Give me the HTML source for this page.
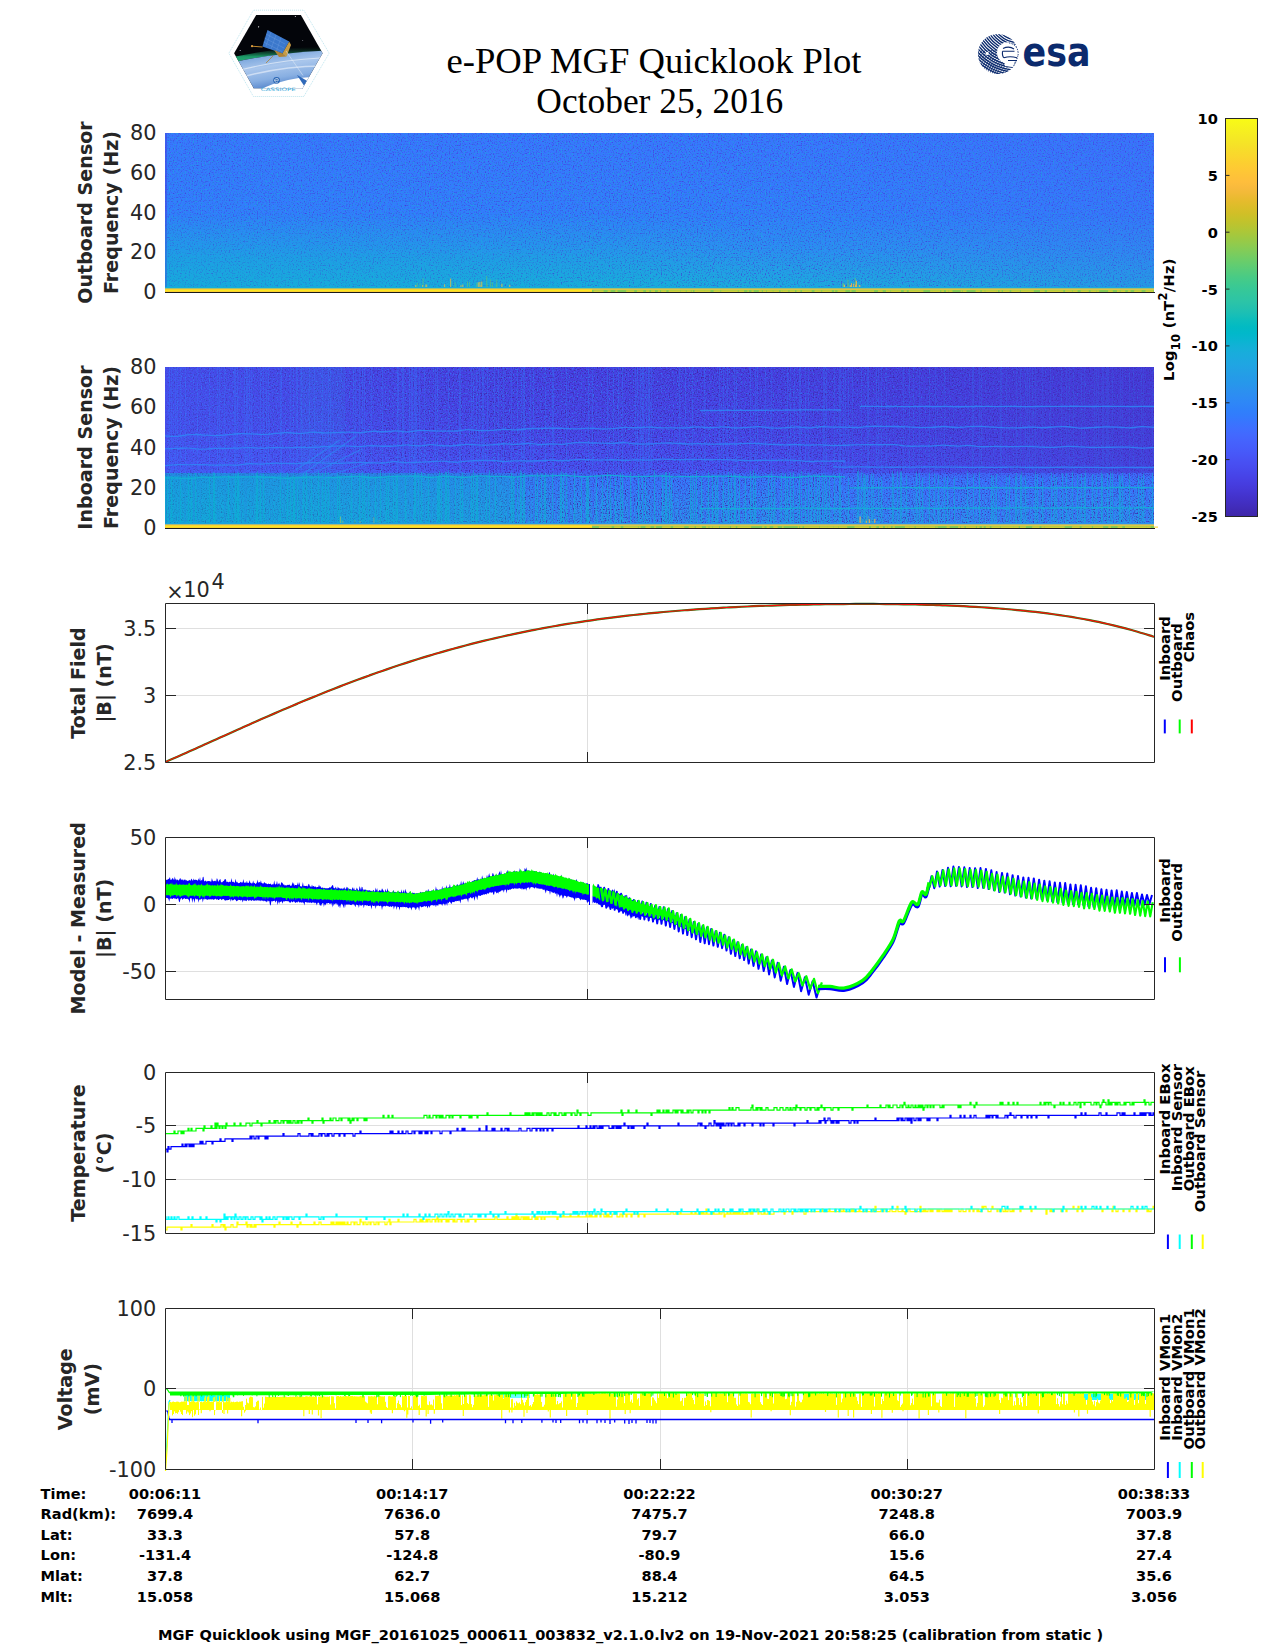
<!DOCTYPE html>
<html><head><meta charset="utf-8"><title>e-POP MGF Quicklook Plot</title>
<style>
html,body{margin:0;padding:0;background:#fff;}
body{width:1275px;height:1650px;overflow:hidden;}
svg{display:block;}
text{font-family:"DejaVu Sans","Liberation Sans",sans-serif;}
.t{font-size:20.83px;fill:#262626;}
.yl{font-size:19.1px;font-weight:bold;fill:#262626;}
.b{font-size:14.58px;font-weight:bold;fill:#000;}
.lg{font-size:14.8px;font-weight:bold;fill:#000;}
.ser{font-family:"Liberation Serif",serif;font-size:35.4px;fill:#000;}
</style></head><body>
<svg width="1275" height="1650" viewBox="0 0 1275 1650">
<rect width="1275" height="1650" fill="#fff"/>

<defs>
<linearGradient id="cbar" x1="0" y1="0" x2="0" y2="1"><stop offset="0.0000" stop-color="#f9fb15"/><stop offset="0.0159" stop-color="#f7f51b"/><stop offset="0.0317" stop-color="#f6ef20"/><stop offset="0.0476" stop-color="#f5e924"/><stop offset="0.0635" stop-color="#f5e327"/><stop offset="0.0794" stop-color="#f7dc2a"/><stop offset="0.0952" stop-color="#fad62d"/><stop offset="0.1111" stop-color="#fccf30"/><stop offset="0.1270" stop-color="#fec934"/><stop offset="0.1429" stop-color="#fec338"/><stop offset="0.1587" stop-color="#febe3c"/><stop offset="0.1746" stop-color="#f8ba3d"/><stop offset="0.1905" stop-color="#f0ba36"/><stop offset="0.2063" stop-color="#e6bb2d"/><stop offset="0.2222" stop-color="#dcbd29"/><stop offset="0.2381" stop-color="#d1bf27"/><stop offset="0.2540" stop-color="#c5c22a"/><stop offset="0.2698" stop-color="#b9c431"/><stop offset="0.2857" stop-color="#abc739"/><stop offset="0.3016" stop-color="#9dc943"/><stop offset="0.3175" stop-color="#8fcb4e"/><stop offset="0.3333" stop-color="#81cc59"/><stop offset="0.3492" stop-color="#72cd64"/><stop offset="0.3651" stop-color="#64cd6f"/><stop offset="0.3810" stop-color="#57cc7a"/><stop offset="0.3968" stop-color="#4acb84"/><stop offset="0.4127" stop-color="#3fca8e"/><stop offset="0.4286" stop-color="#37c897"/><stop offset="0.4444" stop-color="#31c69f"/><stop offset="0.4603" stop-color="#2cc4a7"/><stop offset="0.4762" stop-color="#24c1ae"/><stop offset="0.4921" stop-color="#19bfb6"/><stop offset="0.5079" stop-color="#0bbdbd"/><stop offset="0.5238" stop-color="#02bac3"/><stop offset="0.5397" stop-color="#01b8ca"/><stop offset="0.5556" stop-color="#08b5d0"/><stop offset="0.5714" stop-color="#12b1d6"/><stop offset="0.5873" stop-color="#18addb"/><stop offset="0.6032" stop-color="#1ca9df"/><stop offset="0.6190" stop-color="#20a5e3"/><stop offset="0.6349" stop-color="#23a0e5"/><stop offset="0.6508" stop-color="#259be8"/><stop offset="0.6667" stop-color="#2797eb"/><stop offset="0.6825" stop-color="#2b91ef"/><stop offset="0.6984" stop-color="#2d8cf3"/><stop offset="0.7143" stop-color="#2e87f7"/><stop offset="0.7302" stop-color="#2f81fa"/><stop offset="0.7460" stop-color="#327cfc"/><stop offset="0.7619" stop-color="#3875fe"/><stop offset="0.7778" stop-color="#3e6fff"/><stop offset="0.7937" stop-color="#4269fe"/><stop offset="0.8095" stop-color="#4563fd"/><stop offset="0.8254" stop-color="#465efb"/><stop offset="0.8413" stop-color="#4758f8"/><stop offset="0.8571" stop-color="#4852f4"/><stop offset="0.8730" stop-color="#484df0"/><stop offset="0.8889" stop-color="#4747eb"/><stop offset="0.9048" stop-color="#4741e5"/><stop offset="0.9206" stop-color="#463cde"/><stop offset="0.9365" stop-color="#4537d5"/><stop offset="0.9524" stop-color="#4332cb"/><stop offset="0.9683" stop-color="#422ec0"/><stop offset="0.9841" stop-color="#402ab4"/><stop offset="1.0000" stop-color="#3e26a8"/></linearGradient>
<linearGradient id="sg1" x1="0" y1="0" x2="0" y2="1"><stop offset="0.0000" stop-color="#3975fe"/><stop offset="0.5000" stop-color="#327cfc"/><stop offset="0.7200" stop-color="#2c8ef2"/><stop offset="0.8800" stop-color="#22a2e4"/><stop offset="0.9650" stop-color="#1aacdd"/><stop offset="1.0000" stop-color="#1aacdd"/></linearGradient>
<linearGradient id="sg2" x1="0" y1="0" x2="0" y2="1"><stop offset="0.0000" stop-color="#4740e4"/><stop offset="0.4000" stop-color="#4746ea"/><stop offset="0.6400" stop-color="#4850f3"/><stop offset="0.7000" stop-color="#3677fe"/><stop offset="0.8500" stop-color="#2d8cf3"/><stop offset="0.9750" stop-color="#2895ec"/><stop offset="1.0000" stop-color="#2699e9"/></linearGradient>
<filter id="nzd1" x="0" y="0" width="100%" height="100%" filterUnits="objectBoundingBox" color-interpolation-filters="sRGB"><feTurbulence type="fractalNoise" baseFrequency="0.75 0.75" numOctaves="1" seed="3"/><feColorMatrix type="matrix" values="0 0 0 0 0.271 0 0 0 0 0.215 0 0 0 0 0.836 3.00 0 0 0 -1.55"/></filter>
<filter id="nzl1" x="0" y="0" width="100%" height="100%" filterUnits="objectBoundingBox" color-interpolation-filters="sRGB"><feTurbulence type="fractalNoise" baseFrequency="0.75 0.75" numOctaves="1" seed="9"/><feColorMatrix type="matrix" values="0 0 0 0 0.095 0 0 0 0 0.680 0 0 0 0 0.860 3.00 0 0 0 -1.55"/></filter>
<filter id="nzd2" x="0" y="0" width="100%" height="100%" filterUnits="objectBoundingBox" color-interpolation-filters="sRGB"><feTurbulence type="fractalNoise" baseFrequency="0.75 0.75" numOctaves="1" seed="4"/><feColorMatrix type="matrix" values="0 0 0 0 0.242 0 0 0 0 0.150 0 0 0 0 0.660 3.60 0 0 0 -1.70"/></filter>
<filter id="nzl2" x="0" y="0" width="100%" height="100%" filterUnits="objectBoundingBox" color-interpolation-filters="sRGB"><feTurbulence type="fractalNoise" baseFrequency="0.75 0.75" numOctaves="1" seed="10"/><feColorMatrix type="matrix" values="0 0 0 0 0.179 0 0 0 0 0.529 0 0 0 0 0.968 3.00 0 0 0 -1.60"/></filter>
<linearGradient id="h2u" x1="0" y1="0" x2="1" y2="0"><stop offset="0" stop-color="#4367fd" stop-opacity="0.35"/><stop offset="0.35" stop-color="#4367fd" stop-opacity="0.0"/><stop offset="0.55" stop-color="#4435d1" stop-opacity="0.0"/><stop offset="1" stop-color="#4331c7" stop-opacity="0.45"/></linearGradient>
<linearGradient id="h2l" x1="0" y1="0" x2="1" y2="0"><stop offset="0" stop-color="#02b7cb" stop-opacity="0.45"/><stop offset="0.25" stop-color="#09b4d1" stop-opacity="0.35"/><stop offset="0.45" stop-color="#09b4d1" stop-opacity="0.0"/><stop offset="0.7" stop-color="#3c72ff" stop-opacity="0.15"/><stop offset="1" stop-color="#3c72ff" stop-opacity="0.1"/></linearGradient>
<linearGradient id="h1l" x1="0" y1="0" x2="1" y2="0"><stop offset="0" stop-color="#09b4d1" stop-opacity="0.35"/><stop offset="0.45" stop-color="#09b4d1" stop-opacity="0.2"/><stop offset="0.6" stop-color="#09b4d1" stop-opacity="0.0"/><stop offset="1" stop-color="#2e87f7" stop-opacity="0.1"/></linearGradient>
<linearGradient id="h1u" x1="0" y1="0" x2="1" y2="0"><stop offset="0" stop-color="#2f82fa" stop-opacity="0.15"/><stop offset="0.5" stop-color="#2f82fa" stop-opacity="0.0"/><stop offset="1" stop-color="#4757f7" stop-opacity="0.2"/></linearGradient>
<linearGradient id="vfade" x1="0" y1="0" x2="0" y2="1"><stop offset="0" stop-color="#000"/><stop offset="0.6" stop-color="#fff"/><stop offset="1" stop-color="#fff"/></linearGradient>
<mask id="m1l" maskUnits="userSpaceOnUse" x="165" y="213" width="989" height="75"><rect x="165" y="213" width="989" height="75" fill="url(#vfade)"/></mask>
</defs>
<g id="logo1">
<polygon points="228.9,53.2 253.4,10.2 303.8,10.2 329.2,53.2 303.8,96.5 253.4,96.5" fill="#fff" stroke="#a9dcea" stroke-width="0.7" stroke-dasharray="1.1,0.9"/>
<clipPath id="hexclip"><polygon points="234.1,53.2 256.2,14.9 300.9,14.9 322.6,53.2 302.4,88.5 253.9,88.5"/></clipPath>
<linearGradient id="earth" x1="0" y1="0" x2="0.35" y2="1">
<stop offset="0" stop-color="#2f66b8"/><stop offset="0.2" stop-color="#79a5dc"/><stop offset="0.45" stop-color="#a9c6ec"/><stop offset="0.7" stop-color="#88afe2"/><stop offset="1" stop-color="#3a6ebe"/></linearGradient>
<linearGradient id="aur" x1="0" y1="0" x2="0" y2="1"><stop offset="0" stop-color="#0a2a1a" stop-opacity="0"/><stop offset="0.6" stop-color="#1c9a68"/><stop offset="1" stop-color="#2bb07a"/></linearGradient>
<g clip-path="url(#hexclip)">
<rect x="230" y="12" width="96" height="80" fill="#03050a"/>
<path d="M228,58 Q275,47.5 326,46.5 L326,51 Q275,52.5 228,63.5 Z" fill="url(#aur)"/>
<path d="M228,63.5 Q275,52.5 326,50.5 L326,95 L228,95 Z" fill="url(#earth)"/>
<path d="M240,70 Q280,60 320,58" fill="none" stroke="#e8f0fa" stroke-width="1.2" opacity="0.7"/>
<path d="M246,76 Q285,66 322,66" fill="none" stroke="#eef4fb" stroke-width="1.5" opacity="0.6"/>
<path d="M262,88.5 Q285,78 312,77 L326,95 L262,95 Z" fill="#fff"/>
<polygon points="296.8,74.8 310.6,83 306.2,89 " fill="#2f69b9"/>
<polygon points="267.5,30.1 289.2,41.4 282.5,53.5 262.4,46.6" fill="#3b78cc"/>
<path d="M266,34 L285,44 M264.5,38 L284,48 M263.5,42 L282,51.5 M271,32 L266,46 M276,35 L271,49 M281,37.5 L276.5,51" stroke="#6fa0e0" stroke-width="0.4"/>
<polygon points="282.5,53.5 289.2,41.4 291,45 286.5,56.5" fill="#c79b45"/>
<polygon points="274,50 282.5,53.5 286.5,56.5 279,57" fill="#b08436"/>
<line x1="252" y1="46.2" x2="262.5" y2="47" stroke="#c08a30" stroke-width="1"/>
<circle cx="252" cy="46.2" r="1.1" fill="#e0a040"/>
<line x1="286" y1="51" x2="303" y2="75.5" stroke="#e6eef8" stroke-width="0.5"/>
<line x1="273" y1="56" x2="266" y2="63" stroke="#b08436" stroke-width="0.8"/>
<circle cx="258.6" cy="26.8" r="0.6" fill="#fff"/><circle cx="295.3" cy="16.5" r="0.5" fill="#fff"/><circle cx="240.2" cy="50.4" r="0.5" fill="#ccd"/><circle cx="302.8" cy="40.5" r="0.4" fill="#ccd"/>
</g>
<rect x="254" y="88.6" width="48" height="5" fill="#fff"/>
<circle cx="276.6" cy="80.3" r="3.4" fill="#2c67b4"/>
<path d="M274.6,80.3 h4 a2,2 0 1 0 -0.6,1.6" fill="none" stroke="#fff" stroke-width="0.6"/>
<text x="278.3" y="91.3" font-size="4.6" fill="#35a8da" text-anchor="middle" textLength="35" lengthAdjust="spacingAndGlyphs" font-family="'DejaVu Sans',sans-serif">CASSIOPE</text>
</g>
<clipPath id="esaclip"><circle cx="998" cy="54" r="20"/></clipPath><clipPath id="esalow"><polygon points="975,50 1000,50 1012,76 975,76"/></clipPath>
<g clip-path="url(#esaclip)">
<circle cx="1018" cy="16" r="8.00" fill="none" stroke="#0b2a6d" stroke-width="1.3"/>
<circle cx="1018" cy="16" r="10.30" fill="none" stroke="#0b2a6d" stroke-width="1.3"/>
<circle cx="1018" cy="16" r="12.60" fill="none" stroke="#0b2a6d" stroke-width="1.3"/>
<circle cx="1018" cy="16" r="14.90" fill="none" stroke="#0b2a6d" stroke-width="1.3"/>
<circle cx="1018" cy="16" r="17.20" fill="none" stroke="#0b2a6d" stroke-width="1.3"/>
<circle cx="1018" cy="16" r="19.50" fill="none" stroke="#0b2a6d" stroke-width="1.3"/>
<circle cx="1018" cy="16" r="21.80" fill="none" stroke="#0b2a6d" stroke-width="1.3"/>
<circle cx="1018" cy="16" r="24.10" fill="none" stroke="#0b2a6d" stroke-width="1.3"/>
<circle cx="1018" cy="16" r="26.40" fill="none" stroke="#0b2a6d" stroke-width="1.3"/>
<circle cx="1018" cy="16" r="28.70" fill="none" stroke="#0b2a6d" stroke-width="1.3"/>
<circle cx="1018" cy="16" r="31.00" fill="none" stroke="#0b2a6d" stroke-width="1.3"/>
<circle cx="1018" cy="16" r="33.30" fill="none" stroke="#0b2a6d" stroke-width="1.3"/>
<circle cx="1018" cy="16" r="35.60" fill="none" stroke="#0b2a6d" stroke-width="1.3"/>
<circle cx="1018" cy="16" r="37.90" fill="none" stroke="#0b2a6d" stroke-width="1.3"/>
<circle cx="1018" cy="16" r="40.20" fill="none" stroke="#0b2a6d" stroke-width="1.3"/>
<circle cx="1018" cy="16" r="42.50" fill="none" stroke="#0b2a6d" stroke-width="1.3"/>
<circle cx="1018" cy="16" r="44.80" fill="none" stroke="#0b2a6d" stroke-width="1.3"/>
<circle cx="1018" cy="16" r="47.10" fill="none" stroke="#0b2a6d" stroke-width="1.3"/>
<circle cx="1018" cy="16" r="49.40" fill="none" stroke="#0b2a6d" stroke-width="1.3"/>
<circle cx="1018" cy="16" r="51.70" fill="none" stroke="#0b2a6d" stroke-width="1.3"/>
<circle cx="1018" cy="16" r="54.00" fill="none" stroke="#0b2a6d" stroke-width="1.3"/>
<circle cx="1018" cy="16" r="56.30" fill="none" stroke="#0b2a6d" stroke-width="1.3"/>
<circle cx="1018" cy="16" r="58.60" fill="none" stroke="#0b2a6d" stroke-width="1.3"/>
<circle cx="1018" cy="16" r="60.90" fill="none" stroke="#0b2a6d" stroke-width="1.3"/>
<g clip-path="url(#esalow)">
<circle cx="1022" cy="84" r="4.00" fill="none" stroke="#0b2a6d" stroke-width="0.9" opacity="0.85"/>
<circle cx="1022" cy="84" r="6.30" fill="none" stroke="#0b2a6d" stroke-width="0.9" opacity="0.85"/>
<circle cx="1022" cy="84" r="8.60" fill="none" stroke="#0b2a6d" stroke-width="0.9" opacity="0.85"/>
<circle cx="1022" cy="84" r="10.90" fill="none" stroke="#0b2a6d" stroke-width="0.9" opacity="0.85"/>
<circle cx="1022" cy="84" r="13.20" fill="none" stroke="#0b2a6d" stroke-width="0.9" opacity="0.85"/>
<circle cx="1022" cy="84" r="15.50" fill="none" stroke="#0b2a6d" stroke-width="0.9" opacity="0.85"/>
<circle cx="1022" cy="84" r="17.80" fill="none" stroke="#0b2a6d" stroke-width="0.9" opacity="0.85"/>
<circle cx="1022" cy="84" r="20.10" fill="none" stroke="#0b2a6d" stroke-width="0.9" opacity="0.85"/>
<circle cx="1022" cy="84" r="22.40" fill="none" stroke="#0b2a6d" stroke-width="0.9" opacity="0.85"/>
<circle cx="1022" cy="84" r="24.70" fill="none" stroke="#0b2a6d" stroke-width="0.9" opacity="0.85"/>
<circle cx="1022" cy="84" r="27.00" fill="none" stroke="#0b2a6d" stroke-width="0.9" opacity="0.85"/>
<circle cx="1022" cy="84" r="29.30" fill="none" stroke="#0b2a6d" stroke-width="0.9" opacity="0.85"/>
<circle cx="1022" cy="84" r="31.60" fill="none" stroke="#0b2a6d" stroke-width="0.9" opacity="0.85"/>
<circle cx="1022" cy="84" r="33.90" fill="none" stroke="#0b2a6d" stroke-width="0.9" opacity="0.85"/>
<circle cx="1022" cy="84" r="36.20" fill="none" stroke="#0b2a6d" stroke-width="0.9" opacity="0.85"/>
<circle cx="1022" cy="84" r="38.50" fill="none" stroke="#0b2a6d" stroke-width="0.9" opacity="0.85"/>
<circle cx="1022" cy="84" r="40.80" fill="none" stroke="#0b2a6d" stroke-width="0.9" opacity="0.85"/>
<circle cx="1022" cy="84" r="43.10" fill="none" stroke="#0b2a6d" stroke-width="0.9" opacity="0.85"/>
<circle cx="1022" cy="84" r="45.40" fill="none" stroke="#0b2a6d" stroke-width="0.9" opacity="0.85"/>
<circle cx="1022" cy="84" r="47.70" fill="none" stroke="#0b2a6d" stroke-width="0.9" opacity="0.85"/>
<circle cx="1022" cy="84" r="50.00" fill="none" stroke="#0b2a6d" stroke-width="0.9" opacity="0.85"/>
<circle cx="1022" cy="84" r="52.30" fill="none" stroke="#0b2a6d" stroke-width="0.9" opacity="0.85"/>
<circle cx="1022" cy="84" r="54.60" fill="none" stroke="#0b2a6d" stroke-width="0.9" opacity="0.85"/>
<circle cx="1022" cy="84" r="56.90" fill="none" stroke="#0b2a6d" stroke-width="0.9" opacity="0.85"/>
</g>
<circle cx="1007.6" cy="52.8" r="10.6" fill="#fff"/>
<path d="M1004,60 L1016,58 L1013,67 L1005,66 Z" fill="#fff"/>
<circle cx="987.2" cy="53.4" r="1.6" fill="#fff"/>
</g>
<path d="M1003,48.5 q6,-3 11,0.5 M1002.5,51.3 h12 M1002.5,51.3 q-0.5,5 1.5,6.5 M1004,57.8 q6,-2 13,0 M1008,60.5 h9" fill="none" stroke="#0b2a6d" stroke-width="1.1"/>
<path d="M1009,43 a10.5,10.5 0 0 1 8.6,14" fill="none" stroke="#0b2a6d" stroke-width="0.9" stroke-dasharray="1.4,1.2"/>
<text x="1022.6" y="65.6" font-family="'DejaVu Sans',sans-serif" font-weight="bold" font-size="40.5" fill="#0b2a6d" textLength="68" lengthAdjust="spacingAndGlyphs">esa</text>
<text class="ser" x="446.5" y="73.2" textLength="415" lengthAdjust="spacingAndGlyphs">e-POP MGF Quicklook Plot</text>
<text class="ser" x="536.3" y="112.7" textLength="247" lengthAdjust="spacingAndGlyphs">October 25, 2016</text>
<rect x="165" y="133" width="989" height="159" fill="url(#sg1)"/>
<rect x="165" y="133" width="989" height="154" filter="url(#nzd1)"/>
<rect x="165" y="133" width="989" height="154" filter="url(#nzl1)"/>
<rect x="165" y="288.4" width="427" height="3.6" fill="#fcd030"/>
<rect x="165" y="290.0" width="427" height="1.0" fill="#f7f61a" opacity="0.6"/>
<rect x="592" y="288.4" width="562" height="1.5" fill="#fec934"/>
<rect x="592" y="289.9" width="562" height="2.1" fill="#85cb55"/>
<path d="M1023.6,291.1h4.1M676.3,291.1h4.3M699.9,291.1h4.7M917.6,291.1h2.3M1072.9,291.1h4.7M828.3,291.1h3.5M661.1,291.1h3.3M894.3,291.1h2.9M695.7,291.1h3.5M838.4,291.1h1.4M1121.7,291.1h3.6M721.8,291.1h2.4M1090.6,291.1h1.3M916.2,291.1h1.9M681.0,291.1h4.8M1011.7,291.1h3.2M733.4,291.1h4.4M1062.0,291.1h1.3M834.1,291.1h1.1M850.1,291.1h1.4M930.2,291.1h2.2M668.6,291.1h1.2M934.0,291.1h2.8M917.7,291.1h4.3M1016.0,291.1h3.8M871.2,291.1h2.9M607.6,291.1h3.0M1108.1,291.1h4.7M1149.2,291.1h4.1M993.6,291.1h2.2M688.3,291.1h2.5M675.5,291.1h4.0M815.7,291.1h3.3M866.2,291.1h3.9M721.2,291.1h2.8M758.8,291.1h3.0M798.4,291.1h1.9M839.5,291.1h2.7M674.4,291.1h5.0M1136.8,291.1h1.5M803.5,291.1h4.0M775.0,291.1h4.1M1083.3,291.1h2.8M864.7,291.1h4.4M1024.4,291.1h1.7M796.5,291.1h1.9M732.8,291.1h1.6M770.9,291.1h1.6M903.8,291.1h3.0M932.5,291.1h3.3M716.1,291.1h3.6M672.6,291.1h2.7M740.7,291.1h2.8M908.7,291.1h4.3M865.1,291.1h3.4M657.8,291.1h2.3M790.9,291.1h1.8M991.7,291.1h3.9M1146.9,291.1h4.3M1058.9,291.1h3.8M1134.2,291.1h1.6M780.6,291.1h1.6M1016.1,291.1h3.4M804.5,291.1h2.8M913.8,291.1h2.6M949.1,291.1h3.4M1082.6,291.1h1.8M716.1,291.1h4.3M1047.0,291.1h2.5M941.7,291.1h2.2M766.9,291.1h2.1M1017.7,291.1h2.2M1067.7,291.1h4.7M841.7,291.1h2.5M1002.9,291.1h4.3M1014.2,291.1h2.8M646.1,291.1h3.3M996.5,291.1h1.5M936.5,291.1h3.7M713.6,291.1h4.3M988.4,291.1h2.3M985.3,291.1h4.3M630.9,291.1h2.5M615.4,291.1h2.1M797.6,291.1h2.8M815.7,291.1h2.7M784.2,291.1h3.4M790.0,291.1h4.5M686.6,291.1h2.5M992.1,291.1h4.2M860.0,291.1h5.0M1012.1,291.1h2.2M686.7,291.1h3.7M782.4,291.1h3.3M1061.1,291.1h1.0M819.4,291.1h1.9M1011.4,291.1h1.6M981.8,291.1h2.9M1055.9,291.1h4.0M1145.5,291.1h4.5M1040.7,291.1h4.0M639.9,291.1h3.4M741.4,291.1h2.7M768.3,291.1h4.5M1011.3,291.1h2.1M1025.8,291.1h4.8M1054.7,291.1h4.9M879.8,291.1h2.9M791.8,291.1h3.2M663.0,291.1h3.3M729.9,291.1h3.3M751.5,291.1h2.2M915.0,291.1h1.1M773.3,291.1h1.5M877.9,291.1h3.1M808.0,291.1h3.7M1137.6,291.1h4.0M631.2,291.1h1.3M857.7,291.1h3.2M724.3,291.1h4.2M1065.1,291.1h4.5M632.0,291.1h2.2M714.7,291.1h4.7M797.2,291.1h3.1M865.0,291.1h4.9M930.2,291.1h1.1M705.5,291.1h4.9M918.6,291.1h4.8M807.0,291.1h3.5M1049.9,291.1h3.3M731.7,291.1h2.0M597.3,291.1h3.1M1059.0,291.1h2.5M865.4,291.1h4.6M822.2,291.1h4.0M762.9,291.1h3.3M802.0,291.1h2.4M704.7,291.1h3.2M841.3,291.1h4.1M1050.4,291.1h1.8M707.4,291.1h1.1M1134.4,291.1h3.4M827.1,291.1h4.5M828.8,291.1h2.9M1117.0,291.1h2.8M738.6,291.1h4.1M915.6,291.1h4.4M857.4,291.1h3.1M783.3,291.1h1.7M999.6,291.1h2.1M600.6,291.1h3.0M1080.7,291.1h4.3M814.5,291.1h1.8M837.6,291.1h4.3M855.8,291.1h3.5M947.2,291.1h1.4M786.2,291.1h2.2M823.0,291.1h4.7M767.4,291.1h1.1M595.8,291.1h1.8M1090.6,291.1h4.6M596.9,291.1h4.4M1096.5,291.1h2.7M938.1,291.1h1.6M636.9,291.1h3.4M721.8,291.1h2.9M1084.0,291.1h4.8M1058.1,291.1h1.5M1048.1,291.1h4.4M816.4,291.1h3.1M869.1,291.1h2.0M1057.4,291.1h4.3M747.4,291.1h1.4M626.2,291.1h3.7M1059.9,291.1h1.6M705.2,291.1h3.7M1020.8,291.1h3.2M1029.1,291.1h4.7M786.4,291.1h1.5M1049.9,291.1h2.8M960.7,291.1h1.7M1120.5,291.1h4.6M893.5,291.1h4.8M729.6,291.1h1.5M669.4,291.1h4.4M885.9,291.1h4.6M789.5,291.1h3.9M691.6,291.1h1.4M727.7,291.1h3.0M912.6,291.1h3.2M687.1,291.1h1.9M651.1,291.1h3.9M987.1,291.1h4.6M1051.8,291.1h4.9M599.4,291.1h2.8M837.5,291.1h5.0M1040.0,291.1h2.3M1127.8,291.1h2.8M862.6,291.1h1.4M695.6,291.1h4.9M946.4,291.1h1.7M941.3,291.1h1.1M945.9,291.1h1.7M593.6,291.1h4.3M1135.1,291.1h3.0M1050.2,291.1h4.1M896.1,291.1h3.6M727.6,291.1h1.4M694.5,291.1h3.2M1091.5,291.1h4.6M706.7,291.1h2.8M1060.1,291.1h2.4M975.6,291.1h4.7M897.8,291.1h3.2M963.0,291.1h3.5M1005.7,291.1h4.0M629.5,291.1h1.8M909.9,291.1h4.8M774.1,291.1h2.8M891.1,291.1h4.7" stroke="#fad42e" stroke-width="1.3" opacity="0.85"/>
<rect x="165" y="292.0" width="990" height="1" fill="#1a1a1a"/>
<rect x="165" y="133" width="2" height="154" fill="#463ee1" opacity="0.6"/>
<rect x="165" y="367" width="989" height="161" fill="url(#sg2)"/>
<rect x="165" y="367" width="989" height="156" filter="url(#nzd2)"/>
<rect x="165" y="367" width="989" height="156" filter="url(#nzl2)"/>
<rect x="165" y="524.4" width="427" height="3.6" fill="#fcd030"/>
<rect x="165" y="526.0" width="427" height="1.0" fill="#f7f61a" opacity="0.6"/>
<rect x="592" y="524.4" width="562" height="1.5" fill="#fec934"/>
<rect x="592" y="525.9" width="562" height="2.1" fill="#85cb55"/>
<path d="M1032.2,527.1h4.3M911.0,527.1h1.4M855.5,527.1h3.8M924.7,527.1h3.8M731.3,527.1h1.7M815.6,527.1h1.8M667.4,527.1h3.3M917.9,527.1h1.1M1034.8,527.1h1.3M973.7,527.1h2.2M709.5,527.1h2.7M719.9,527.1h4.0M1022.1,527.1h1.1M934.3,527.1h1.1M804.1,527.1h4.1M614.2,527.1h4.5M738.0,527.1h2.4M909.8,527.1h2.8M623.3,527.1h2.7M631.1,527.1h3.7M1044.6,527.1h1.2M699.1,527.1h1.7M744.3,527.1h3.8M1088.2,527.1h3.6M604.9,527.1h4.3M762.1,527.1h2.3M1119.3,527.1h1.5M677.0,527.1h3.4M654.1,527.1h1.6M1038.4,527.1h1.1M1146.4,527.1h2.3M1134.1,527.1h1.1M1053.6,527.1h3.2M972.2,527.1h2.0M1008.6,527.1h2.4M804.6,527.1h2.9M679.9,527.1h4.3M673.1,527.1h4.9M1047.5,527.1h4.6M740.7,527.1h4.0M1075.0,527.1h4.7M631.4,527.1h3.9M1093.1,527.1h4.9M820.2,527.1h2.6M691.8,527.1h2.8M731.1,527.1h1.1M632.1,527.1h3.8M720.8,527.1h3.5M1142.4,527.1h3.6M1055.8,527.1h3.1M1133.2,527.1h2.3M634.5,527.1h3.4M1131.1,527.1h4.9M1095.4,527.1h3.2M749.0,527.1h2.1M893.4,527.1h1.4M863.3,527.1h4.5M1041.5,527.1h2.4M839.9,527.1h3.5M631.8,527.1h5.0M995.4,527.1h4.4M969.1,527.1h3.7M860.2,527.1h4.2M965.9,527.1h4.3M782.1,527.1h1.5M773.3,527.1h4.4M892.7,527.1h1.7M747.5,527.1h2.3M1126.3,527.1h1.6M819.9,527.1h4.7M974.5,527.1h1.2M909.9,527.1h4.7M822.8,527.1h4.8M1005.2,527.1h4.2M873.0,527.1h3.4M1130.8,527.1h1.4M968.7,527.1h2.4M931.9,527.1h1.9M737.3,527.1h2.2M662.1,527.1h4.2M746.6,527.1h2.8M811.0,527.1h5.0M1020.0,527.1h3.4M917.6,527.1h3.6M1059.9,527.1h4.7M766.6,527.1h2.9M947.3,527.1h1.2M617.0,527.1h2.4M859.3,527.1h2.8M746.6,527.1h1.8M700.6,527.1h1.3M797.8,527.1h1.3M814.2,527.1h3.8M602.1,527.1h3.5M1098.4,527.1h2.6M879.0,527.1h4.0M807.3,527.1h2.3M968.4,527.1h2.6M609.1,527.1h2.5M1098.2,527.1h4.9M605.8,527.1h3.0M645.9,527.1h4.7M991.5,527.1h4.3M1076.4,527.1h1.2M830.7,527.1h3.0M800.1,527.1h2.4M1131.2,527.1h2.8M1117.6,527.1h4.7M726.3,527.1h2.0M884.9,527.1h2.2M740.8,527.1h1.5M858.0,527.1h1.5M909.2,527.1h3.8M1073.4,527.1h1.5M1125.7,527.1h4.6M629.5,527.1h4.3M969.1,527.1h2.3M920.1,527.1h4.3M815.9,527.1h3.5M1021.3,527.1h3.0M960.7,527.1h1.2M1072.0,527.1h3.5M996.5,527.1h3.4M599.6,527.1h4.9M1101.6,527.1h1.5M834.0,527.1h4.2M887.7,527.1h1.2M638.6,527.1h2.1M1061.0,527.1h2.2M824.2,527.1h2.6M976.9,527.1h2.7M1108.3,527.1h2.6M871.0,527.1h2.9M1120.2,527.1h1.8M926.2,527.1h4.3M1020.0,527.1h3.6M1129.7,527.1h2.7M887.5,527.1h3.4M1023.1,527.1h2.8M958.1,527.1h1.9M1000.6,527.1h4.6M696.2,527.1h1.5M1033.1,527.1h4.7M854.5,527.1h5.0M930.5,527.1h4.2M689.9,527.1h3.4M936.4,527.1h1.2M1004.7,527.1h1.8M1125.0,527.1h1.4M739.9,527.1h4.1M618.5,527.1h1.3M1006.5,527.1h4.0M1074.1,527.1h1.5M1044.4,527.1h3.1M728.5,527.1h1.3M977.5,527.1h1.8M1081.6,527.1h2.7M859.3,527.1h4.2M629.9,527.1h4.6M820.4,527.1h4.5M981.9,527.1h1.8M731.3,527.1h3.9M843.3,527.1h1.7M666.8,527.1h3.7M1084.3,527.1h4.9M865.5,527.1h3.5M827.8,527.1h3.7M1135.9,527.1h4.3M688.7,527.1h2.5M627.6,527.1h1.8M966.7,527.1h1.9M962.3,527.1h2.1M1010.4,527.1h3.1M972.3,527.1h3.4M1036.6,527.1h2.7M1013.7,527.1h5.0M1144.3,527.1h1.4M1085.9,527.1h1.3M904.9,527.1h4.1M1127.1,527.1h4.6M1057.3,527.1h1.3M1051.7,527.1h4.6M767.7,527.1h1.9M1072.0,527.1h2.8M1153.9,527.1h4.1M985.8,527.1h4.0M714.1,527.1h2.5M838.7,527.1h4.4M721.1,527.1h4.2M1119.2,527.1h1.4M808.2,527.1h4.8M618.5,527.1h2.3M725.3,527.1h2.4M625.1,527.1h4.4M1056.4,527.1h2.3M665.2,527.1h3.2M608.0,527.1h1.6M734.1,527.1h1.7M645.5,527.1h4.3M712.7,527.1h4.8M879.6,527.1h1.9M722.0,527.1h1.7M915.7,527.1h3.5M960.7,527.1h2.6M1058.9,527.1h3.8M1014.6,527.1h3.1M1146.2,527.1h4.5M695.9,527.1h3.8M698.0,527.1h1.6M654.5,527.1h1.6M1138.7,527.1h4.5M1007.1,527.1h1.8M741.0,527.1h1.8M714.9,527.1h4.1M722.7,527.1h3.4M598.9,527.1h2.9M706.0,527.1h2.5M946.6,527.1h3.1M720.8,527.1h3.5M844.2,527.1h3.0" stroke="#fad42e" stroke-width="1.3" opacity="0.85"/>
<rect x="165" y="528.0" width="990" height="1" fill="#1a1a1a"/>
<rect x="165" y="367" width="2" height="156" fill="#463ee1" opacity="0.6"/>
<path d="M423.1,287.0V278.4M420.1,287.0V283.7M467.5,287.0V281.5M455.1,287.0V282.6M417.3,287.0V283.1M469.6,287.0V282.1M496.8,287.0V279.8M490.6,287.0V279.4M478.5,287.0V283.4M486.7,287.0V276.1M492.4,287.0V282.4M496.4,287.0V283.9M487.2,287.0V284.0M476.7,287.0V283.2M858.1,287.0V283.7M855.3,287.0V278.1M843.7,287.0V283.5M843.1,287.0V283.1M848.0,287.0V279.8M848.1,287.0V283.8" stroke="#78cc5f" stroke-width="1" opacity="0.7"/>
<path d="M415.7,287.0V285.0M422.6,287.0V285.1M444.5,287.0V284.2M425.9,287.0V284.6M426.6,287.0V284.4M461.0,287.0V285.2M462.8,287.0V284.6M450.6,287.0V278.6M481.7,287.0V281.6M478.3,287.0V282.3M509.7,287.0V284.7M479.8,287.0V281.7M501.9,287.0V283.8M481.2,287.0V285.2M851.5,287.0V283.3M850.3,287.0V285.2M856.4,287.0V280.7M855.6,287.0V284.7M856.2,287.0V285.2M859.7,287.0V285.0M844.4,287.0V284.8M853.7,287.0V283.8" stroke="#fec338" stroke-width="1.2" opacity="0.9"/>
<path d="M354.8,523.0V520.0M378.1,523.0V519.9M379.1,523.0V519.9M342.0,523.0V519.9M871.7,523.0V519.4M868.0,523.0V516.1M861.8,523.0V519.5M866.0,523.0V519.5" stroke="#78cc5f" stroke-width="1" opacity="0.7"/>
<path d="M343.1,523.0V520.9M359.9,523.0V521.0M373.7,523.0V517.2M340.4,523.0V516.5M866.2,523.0V520.7M874.8,523.0V519.1M869.5,523.0V519.2M860.1,523.0V516.6" stroke="#fec338" stroke-width="1.2" opacity="0.9"/>
<path d="M165.5,475.5V523M167.5,476.3V523M171.5,476.4V523M180.5,476.9V523M188.5,472.9V523M191.5,475.7V523M195.5,472.8V523M209.5,477.0V523M213.5,472.3V523M214.5,472.7V523M228.5,474.7V523M235.5,473.6V523M237.5,474.3V523M238.5,471.5V523M256.5,472.5V523M257.5,470.6V523M260.5,475.0V523M263.5,473.5V523M280.5,472.5V523M287.5,472.7V523M290.5,477.6V523M293.5,475.4V523M294.5,477.5V523M297.5,477.7V523M303.5,472.5V523M306.5,471.1V523M311.5,476.4V523M318.5,470.5V523M322.5,472.8V523M325.5,470.5V523M328.5,472.2V523M337.5,472.8V523M339.5,475.7V523M351.5,472.8V523M359.5,473.2V523M362.5,471.0V523M364.5,475.3V523M368.5,473.4V523M375.5,476.6V523M380.5,470.0V523M386.5,476.6V523M388.5,475.0V523M393.5,476.3V523M396.5,476.8V523M397.5,475.1V523M405.5,475.8V523M414.5,473.9V523M415.5,471.7V523M418.5,473.2V523M421.5,471.6V523M428.5,474.0V523M437.5,476.4V523M438.5,476.3V523M439.5,470.9V523M441.5,473.0V523M445.5,471.6V523M446.5,471.5V523M448.5,470.3V523M455.5,477.1V523M460.5,477.8V523M462.5,472.1V523M471.5,475.3V523M473.5,470.0V523M476.5,475.1V523M477.5,475.7V523M486.5,475.1V523M489.5,470.2V523M495.5,476.3V523M511.5,472.5V523M513.5,477.6V523M517.5,476.0V523M520.5,470.6V523M521.5,472.5V523M523.5,474.3V523M524.5,472.7V523M535.5,476.9V523M537.5,472.3V523M541.5,473.4V523M544.5,475.5V523M545.5,473.0V523M552.5,473.0V523M560.5,476.6V523M561.5,471.5V523M563.5,473.2V523M566.5,472.7V523M574.5,470.8V523M581.5,476.4V523M586.5,477.6V523M587.5,476.3V523M588.5,477.7V523M596.5,475.0V523M602.5,476.4V523M607.5,472.2V523M610.5,474.8V523M615.5,477.9V523M620.5,473.0V523M622.5,474.3V523M630.5,472.1V523M638.5,473.8V523M642.5,477.3V523M645.5,477.5V523M654.5,470.1V523M662.5,473.9V523M665.5,472.1V523M666.5,472.0V523M669.5,472.7V523M671.5,475.7V523M690.5,475.4V523M692.5,475.3V523M694.5,475.6V523M696.5,470.6V523M701.5,476.2V523M708.5,471.4V523M712.5,475.1V523M715.5,477.2V523M717.5,475.2V523M723.5,476.8V523M728.5,471.6V523M731.5,473.6V523M734.5,473.0V523M735.5,474.8V523M739.5,473.3V523M745.5,477.6V523M750.5,471.0V523M753.5,470.0V523M755.5,473.7V523M768.5,474.2V523M771.5,471.1V523M774.5,477.7V523M781.5,472.9V523M785.5,473.0V523M787.5,476.9V523M790.5,472.2V523M793.5,472.0V523M799.5,474.2V523M801.5,471.0V523M805.5,477.3V523M808.5,472.8V523M811.5,475.9V523M814.5,474.1V523M817.5,474.4V523M819.5,474.3V523M822.5,474.0V523M824.5,474.2V523M826.5,477.4V523M829.5,476.9V523M834.5,474.8V523M839.5,472.7V523M840.5,476.4V523M848.5,477.1V523M857.5,470.8V523M858.5,470.2V523M861.5,472.0V523M863.5,475.5V523M864.5,473.3V523M865.5,475.2V523M867.5,474.4V523M871.5,473.1V523M873.5,474.3V523M878.5,477.7V523M881.5,476.1V523M892.5,470.7V523M893.5,474.4V523M897.5,471.1V523M900.5,471.4V523M901.5,471.3V523M906.5,474.8V523M916.5,471.4V523M919.5,473.1V523M922.5,477.6V523M929.5,472.5V523M934.5,473.5V523M938.5,475.1V523M944.5,477.6V523M947.5,476.4V523M954.5,476.9V523M967.5,470.4V523M973.5,474.2V523M979.5,471.3V523M991.5,475.0V523M993.5,475.7V523M996.5,473.9V523M1006.5,476.1V523M1009.5,474.8V523M1015.5,475.8V523M1016.5,472.6V523M1020.5,475.1V523M1021.5,470.9V523M1025.5,475.4V523M1035.5,470.6V523M1037.5,474.3V523M1042.5,476.6V523M1051.5,472.1V523M1054.5,474.7V523M1056.5,476.8V523M1062.5,473.3V523M1066.5,472.7V523M1072.5,471.2V523M1077.5,475.0V523M1081.5,473.7V523M1084.5,476.5V523M1085.5,470.4V523M1092.5,474.2V523M1096.5,474.5V523M1101.5,470.6V523M1102.5,474.1V523M1107.5,473.7V523M1110.5,470.9V523M1112.5,470.8V523M1119.5,475.0V523M1120.5,475.6V523M1122.5,472.2V523M1129.5,472.8V523M1138.5,476.0V523M1141.5,478.0V523M1143.5,473.6V523M1152.5,472.9V523" stroke="#0eb2d4" stroke-width="1" opacity="0.55"/>
<path d="M169.5,477.4V523M175.5,476.2V523M179.5,478.1V523M184.5,479.5V523M185.5,481.0V523M193.5,479.3V523M194.5,479.3V523M197.5,477.8V523M200.5,478.2V523M212.5,478.9V523M217.5,478.9V523M219.5,476.2V523M224.5,481.1V523M225.5,476.1V523M231.5,477.5V523M241.5,476.3V523M244.5,480.7V523M245.5,477.1V523M246.5,477.9V523M251.5,481.8V523M253.5,476.4V523M262.5,478.3V523M266.5,478.7V523M268.5,481.8V523M270.5,481.3V523M272.5,480.0V523M275.5,477.5V523M277.5,480.9V523M281.5,476.5V523M284.5,476.6V523M296.5,477.7V523M300.5,476.1V523M301.5,480.2V523M309.5,476.3V523M320.5,478.8V523M330.5,479.9V523M333.5,478.5V523M336.5,476.5V523M343.5,477.3V523M346.5,481.5V523M353.5,479.9V523M357.5,480.4V523M367.5,481.4V523M371.5,479.9V523M373.5,477.6V523M378.5,480.4V523M382.5,482.0V523M398.5,477.8V523M400.5,477.3V523M402.5,478.2V523M403.5,478.5V523M407.5,481.8V523M409.5,478.2V523M411.5,479.1V523M412.5,478.7V523M416.5,481.1V523M419.5,479.2V523M424.5,480.0V523M431.5,477.1V523M435.5,477.0V523M443.5,479.8V523M450.5,477.4V523M452.5,479.2V523M453.5,481.0V523M456.5,480.6V523M464.5,480.7V523M469.5,479.1V523M479.5,476.7V523M483.5,481.1V523M487.5,476.0V523M490.5,479.3V523M493.5,477.0V523M498.5,477.5V523M503.5,480.7V523M507.5,478.9V523M508.5,476.7V523M515.5,478.2V523M526.5,480.6V523M527.5,480.5V523M530.5,481.6V523M533.5,481.4V523M534.5,478.5V523M538.5,480.2V523M551.5,479.5V523M553.5,481.7V523M555.5,477.4V523M556.5,480.3V523M565.5,477.2V523M568.5,480.8V523M569.5,478.4V523M572.5,477.5V523M582.5,477.6V523M584.5,481.5V523M592.5,481.8V523M593.5,476.8V523M599.5,478.9V523M613.5,481.6V523M624.5,477.9V523M628.5,476.3V523M629.5,476.8V523M632.5,480.7V523M633.5,480.7V523M635.5,480.7V523M643.5,479.9V523M651.5,481.3V523M653.5,478.4V523M656.5,476.9V523M658.5,481.0V523M660.5,476.9V523M674.5,480.9V523M679.5,478.3V523M682.5,481.2V523M685.5,481.9V523M693.5,477.0V523M695.5,478.4V523M698.5,476.8V523M704.5,479.9V523M705.5,479.8V523M710.5,477.6V523M719.5,479.2V523M720.5,480.6V523M736.5,476.4V523M740.5,477.2V523M742.5,481.2V523M747.5,481.5V523M757.5,481.6V523M760.5,478.6V523M777.5,481.1V523M778.5,481.1V523M782.5,481.8V523M794.5,480.3V523M800.5,478.8V523M802.5,478.7V523M807.5,479.2V523M823.5,480.7V523M832.5,481.5V523M843.5,477.4V523M850.5,481.0V523M852.5,480.7V523M884.5,477.1V523M887.5,481.7V523M910.5,477.3V523M924.5,481.5V523M926.5,476.8V523M935.5,479.8V523M945.5,480.1V523M950.5,477.9V523M952.5,479.8V523M955.5,481.1V523M957.5,481.2V523M960.5,476.1V523M972.5,476.2V523M974.5,481.0V523M977.5,480.8V523M981.5,477.7V523M984.5,476.8V523M987.5,479.8V523M989.5,477.0V523M997.5,477.7V523M1000.5,481.9V523M1001.5,477.7V523M1004.5,481.7V523M1008.5,479.8V523M1011.5,479.4V523M1014.5,478.2V523M1029.5,479.9V523M1032.5,477.9V523M1039.5,477.4V523M1045.5,477.7V523M1046.5,478.2V523M1050.5,478.6V523M1058.5,478.2V523M1063.5,481.8V523M1073.5,477.2V523M1075.5,479.5V523M1086.5,478.5V523M1090.5,479.6V523M1098.5,481.5V523M1103.5,479.7V523M1113.5,476.7V523M1132.5,477.9V523M1146.5,481.6V523M1147.5,480.2V523" stroke="#4562fc" stroke-width="1" opacity="0.45"/>
<path d="M169.5,367V472.2M171.5,367V471.4M175.5,367V473.0M177.5,367V475.6M180.5,367V474.7M185.5,367V475.5M197.5,367V470.4M209.5,367V470.4M217.5,367V475.8M219.5,367V475.0M224.5,367V473.2M234.5,367V470.6M235.5,367V475.2M237.5,367V473.0M244.5,367V472.8M246.5,367V472.3M247.5,367V473.0M249.5,367V473.6M251.5,367V474.2M260.5,367V473.9M263.5,367V474.2M266.5,367V472.3M268.5,367V472.9M280.5,367V472.3M281.5,367V475.7M290.5,367V471.5M293.5,367V473.6M296.5,367V472.3M297.5,367V474.9M301.5,367V470.0M309.5,367V472.4M314.5,367V473.5M322.5,367V473.8M328.5,367V470.2M330.5,367V470.6M353.5,367V475.6M355.5,367V476.0M359.5,367V473.2M362.5,367V472.5M364.5,367V470.6M371.5,367V472.6M382.5,367V471.4M397.5,367V475.0M398.5,367V471.2M402.5,367V470.8M403.5,367V475.3M409.5,367V474.5M411.5,367V474.7M412.5,367V473.5M414.5,367V474.8M415.5,367V471.1M416.5,367V470.7M419.5,367V471.5M424.5,367V471.8M435.5,367V474.0M437.5,367V471.7M448.5,367V475.2M459.5,367V476.0M460.5,367V472.4M471.5,367V470.8M473.5,367V472.7M476.5,367V473.1M479.5,367V474.2M482.5,367V473.8M483.5,367V472.1M487.5,367V471.0M494.5,367V471.5M498.5,367V471.8M503.5,367V473.7M511.5,367V473.8M517.5,367V471.8M521.5,367V472.1M523.5,367V470.5M524.5,367V475.0M530.5,367V474.0M533.5,367V474.3M545.5,367V474.0M552.5,367V472.6M553.5,367V471.1M566.5,367V472.3M588.5,367V471.6M592.5,367V471.4M607.5,367V471.0M613.5,367V470.6M618.5,367V472.9M622.5,367V475.8M635.5,367V472.9M637.5,367V474.0M640.5,367V473.2M642.5,367V471.6M643.5,367V475.5M646.5,367V472.1M648.5,367V472.3M649.5,367V475.1M651.5,367V473.2M679.5,367V475.3M685.5,367V472.3M692.5,367V471.8M704.5,367V474.7M719.5,367V475.2M723.5,367V473.3M727.5,367V472.7M734.5,367V475.1M736.5,367V472.6M750.5,367V474.0M755.5,367V474.9M757.5,367V471.3M765.5,367V470.2M771.5,367V475.4M787.5,367V474.0M790.5,367V473.3M794.5,367V470.2M799.5,367V471.9M800.5,367V471.3M805.5,367V475.2M808.5,367V470.5M823.5,367V473.6M824.5,367V474.0M826.5,367V474.8M834.5,367V474.9M839.5,367V472.0M840.5,367V475.5M843.5,367V472.7M845.5,367V470.5M848.5,367V475.9M852.5,367V471.8M861.5,367V474.2M867.5,367V470.4M868.5,367V472.9M876.5,367V470.3M878.5,367V473.3M881.5,367V472.7M886.5,367V475.0M903.5,367V475.4M909.5,367V471.6M913.5,367V472.5M919.5,367V472.4M929.5,367V472.7M935.5,367V471.2M944.5,367V473.5M972.5,367V472.4M973.5,367V471.1M979.5,367V472.0M981.5,367V474.4M1000.5,367V471.1M1001.5,367V473.8M1006.5,367V470.4M1016.5,367V470.1M1020.5,367V471.4M1025.5,367V473.0M1027.5,367V470.0M1029.5,367V472.2M1032.5,367V470.3M1035.5,367V471.3M1042.5,367V472.9M1050.5,367V472.7M1061.5,367V475.4M1066.5,367V472.2M1069.5,367V473.4M1073.5,367V474.3M1081.5,367V472.9M1084.5,367V474.9M1094.5,367V475.5M1096.5,367V473.0M1098.5,367V475.3M1102.5,367V473.6M1103.5,367V474.1M1106.5,367V474.1M1107.5,367V473.8M1108.5,367V473.7M1112.5,367V474.9M1120.5,367V471.3M1122.5,367V470.5M1129.5,367V473.9M1133.5,367V475.8M1141.5,367V472.2M1143.5,367V472.7M1152.5,367V474.3" stroke="#317dfc" stroke-width="1" opacity="0.3"/>
<rect x="165" y="476" width="350" height="47" fill="#09b4d1" opacity="0.25"/>
<rect x="165" y="367" width="989" height="106" fill="url(#h2u)"/>
<rect x="165" y="473" width="989" height="51" fill="url(#h2l)"/>
<rect x="165" y="133" width="989" height="154" fill="url(#h1u)"/>
<rect x="165" y="213" width="989" height="75" fill="url(#h1l)" mask="url(#m1l)"/>
<path d="M165.00,435.93 C167.05,436.00 173.18,436.54 177.27,436.33 C181.36,436.13 185.45,434.96 189.55,434.71 C193.64,434.46 197.73,434.68 201.82,434.83 C205.91,434.99 210.00,435.64 214.09,435.65 C218.18,435.66 222.27,435.21 226.36,434.90 C230.45,434.59 234.55,433.94 238.64,433.77 C242.73,433.59 246.82,433.74 250.91,433.85 C255.00,433.96 259.09,434.49 263.18,434.43 C267.27,434.36 271.36,433.77 275.45,433.45 C279.55,433.13 283.64,432.49 287.73,432.52 C291.82,432.55 295.95,433.69 300.00,433.63 C304.05,433.58 308.00,432.34 312.00,432.21 C316.00,432.07 320.00,432.76 324.00,432.83 C328.00,432.89 332.00,432.71 336.00,432.59 C340.00,432.48 344.00,432.11 348.00,432.14 C352.00,432.16 356.00,432.88 360.00,432.74 C364.00,432.60 368.00,431.44 372.00,431.28 C376.00,431.12 380.00,431.85 384.00,431.77 C388.00,431.68 392.00,430.75 396.00,430.78 C400.00,430.81 404.00,432.00 408.00,431.94 C412.00,431.89 416.00,430.62 420.00,430.43 C424.00,430.24 428.00,430.70 432.00,430.82 C436.00,430.94 440.00,431.10 444.00,431.13 C448.00,431.16 452.00,431.28 456.00,431.01 C460.00,430.75 464.00,429.62 468.00,429.56 C472.00,429.49 476.00,430.47 480.00,430.60 C484.00,430.74 488.00,430.56 492.00,430.35 C496.00,430.13 500.00,429.39 504.00,429.31 C508.00,429.22 512.00,429.90 516.00,429.81 C520.00,429.72 524.00,428.99 528.00,428.76 C532.00,428.54 536.00,428.53 540.00,428.45 C544.00,428.36 548.00,428.29 552.00,428.26 C556.00,428.23 560.00,428.18 564.00,428.29 C568.00,428.40 572.00,428.95 576.00,428.92 C580.00,428.90 584.00,428.16 588.00,428.14 C592.00,428.12 595.96,428.71 600.00,428.78 C604.04,428.86 608.17,428.80 612.25,428.58 C616.33,428.36 620.42,427.58 624.50,427.44 C628.58,427.30 632.67,427.80 636.75,427.74 C640.83,427.69 644.92,427.08 649.00,427.10 C653.08,427.13 657.17,427.76 661.25,427.88 C665.33,428.01 669.42,427.89 673.50,427.87 C677.58,427.86 681.67,427.94 685.75,427.79 C689.83,427.63 693.92,426.95 698.00,426.94 C702.08,426.93 706.17,427.74 710.25,427.73 C714.33,427.72 718.42,426.84 722.50,426.88 C726.58,426.92 730.67,427.92 734.75,428.00 C738.83,428.07 742.92,427.55 747.00,427.34 C751.08,427.12 755.17,426.59 759.25,426.71 C763.33,426.83 767.42,427.86 771.50,428.07 C775.58,428.27 779.67,428.15 783.75,427.96 C787.83,427.77 791.92,426.95 796.00,426.93 C800.08,426.91 804.17,427.87 808.25,427.84 C812.33,427.81 816.42,426.88 820.50,426.76 C824.58,426.63 828.67,427.04 832.75,427.10 C836.83,427.16 840.90,427.05 845.00,427.12 C849.10,427.18 853.24,427.61 857.36,427.48 C861.48,427.35 865.60,426.54 869.72,426.34 C873.84,426.15 877.96,426.28 882.08,426.31 C886.20,426.33 890.32,426.40 894.44,426.50 C898.56,426.60 902.68,426.72 906.80,426.90 C910.92,427.07 915.04,427.47 919.16,427.57 C923.28,427.67 927.40,427.65 931.52,427.47 C935.64,427.29 939.76,426.49 943.88,426.50 C948.00,426.51 952.12,427.49 956.24,427.52 C960.36,427.55 964.48,426.85 968.60,426.66 C972.72,426.48 976.84,426.32 980.96,426.41 C985.08,426.49 989.20,426.92 993.32,427.16 C997.44,427.40 1001.56,427.74 1005.68,427.86 C1009.80,427.98 1013.92,427.99 1018.04,427.87 C1022.16,427.75 1026.28,427.17 1030.40,427.14 C1034.52,427.12 1038.64,427.79 1042.76,427.73 C1046.88,427.67 1051.00,426.95 1055.12,426.78 C1059.24,426.62 1063.36,426.53 1067.48,426.74 C1071.60,426.95 1075.72,427.90 1079.84,428.04 C1083.96,428.18 1088.08,427.80 1092.20,427.59 C1096.32,427.39 1100.44,426.90 1104.56,426.81 C1108.68,426.73 1112.80,426.93 1116.92,427.09 C1121.04,427.26 1125.16,427.87 1129.28,427.80 C1133.40,427.74 1137.52,426.74 1141.64,426.68 C1145.76,426.61 1151.94,427.28 1154.00,427.40" fill="none" stroke="#2e87f7" stroke-width="1.3" opacity="0.85"/>
<path d="M165.00,448.81 C167.01,448.74 173.06,448.52 177.08,448.40 C181.11,448.29 185.14,448.01 189.17,448.13 C193.19,448.26 197.22,449.11 201.25,449.16 C205.28,449.22 209.31,448.57 213.33,448.46 C217.36,448.34 221.39,448.53 225.42,448.47 C229.44,448.41 233.47,448.22 237.50,448.08 C241.53,447.95 245.56,447.65 249.58,447.65 C253.61,447.64 257.64,448.04 261.67,448.04 C265.69,448.03 269.72,447.66 273.75,447.62 C277.78,447.58 281.81,447.82 285.83,447.78 C289.86,447.75 293.89,447.47 297.92,447.43 C301.94,447.39 305.97,447.66 310.00,447.54 C314.03,447.43 318.06,446.97 322.08,446.74 C326.11,446.50 330.14,446.25 334.17,446.11 C338.19,445.98 342.22,445.84 346.25,445.94 C350.28,446.04 354.31,446.74 358.33,446.69 C362.36,446.64 366.39,445.71 370.42,445.63 C374.44,445.56 378.47,446.18 382.50,446.25 C386.53,446.31 390.56,446.24 394.58,446.03 C398.61,445.81 402.64,444.97 406.67,444.96 C410.69,444.95 414.72,446.02 418.75,445.95 C422.78,445.89 426.81,444.62 430.83,444.59 C434.86,444.55 438.89,445.59 442.92,445.75 C446.94,445.91 450.97,445.77 455.00,445.55 C459.03,445.32 463.06,444.46 467.08,444.38 C471.11,444.29 475.14,444.95 479.17,445.03 C483.19,445.11 487.22,445.09 491.25,444.87 C495.28,444.66 499.31,443.81 503.33,443.73 C507.36,443.66 511.39,444.49 515.42,444.44 C519.44,444.38 523.47,443.39 527.50,443.40 C531.53,443.41 535.56,444.40 539.58,444.49 C543.61,444.59 547.64,444.01 551.67,443.97 C555.69,443.93 559.72,444.49 563.75,444.27 C567.78,444.04 571.81,442.85 575.83,442.62 C579.86,442.39 583.89,442.78 587.92,442.88 C591.94,442.97 595.94,443.13 600.00,443.19 C604.06,443.26 608.17,443.36 612.25,443.27 C616.33,443.19 620.42,442.58 624.50,442.69 C628.58,442.80 632.67,443.71 636.75,443.92 C640.83,444.13 644.92,444.08 649.00,443.95 C653.08,443.83 657.17,443.34 661.25,443.18 C665.33,443.03 669.42,442.90 673.50,443.03 C677.58,443.16 681.67,443.87 685.75,443.97 C689.83,444.07 693.92,443.62 698.00,443.65 C702.08,443.68 706.17,444.11 710.25,444.16 C714.33,444.22 718.42,444.03 722.50,443.99 C726.58,443.95 730.67,444.02 734.75,443.93 C738.83,443.84 742.92,443.47 747.00,443.43 C751.08,443.40 755.17,443.57 759.25,443.72 C763.33,443.87 767.42,444.14 771.50,444.33 C775.58,444.53 779.67,444.84 783.75,444.87 C787.83,444.89 791.92,444.44 796.00,444.48 C800.08,444.52 804.17,445.03 808.25,445.09 C812.33,445.15 816.42,444.79 820.50,444.86 C824.58,444.93 828.67,445.44 832.75,445.51 C836.83,445.57 840.90,445.36 845.00,445.25 C849.10,445.13 853.24,444.92 857.36,444.81 C861.48,444.71 865.60,444.66 869.72,444.62 C873.84,444.59 877.96,444.60 882.08,444.61 C886.20,444.61 890.32,444.42 894.44,444.66 C898.56,444.91 902.68,445.82 906.80,446.08 C910.92,446.34 915.04,446.20 919.16,446.20 C923.28,446.20 927.40,446.27 931.52,446.10 C935.64,445.93 939.76,445.17 943.88,445.17 C948.00,445.18 952.12,446.12 956.24,446.16 C960.36,446.20 964.48,445.31 968.60,445.40 C972.72,445.50 976.84,446.55 980.96,446.72 C985.08,446.90 989.20,446.45 993.32,446.45 C997.44,446.44 1001.56,446.68 1005.68,446.70 C1009.80,446.72 1013.92,446.63 1018.04,446.57 C1022.16,446.52 1026.28,446.27 1030.40,446.37 C1034.52,446.47 1038.64,446.98 1042.76,447.16 C1046.88,447.34 1051.00,447.57 1055.12,447.44 C1059.24,447.31 1063.36,446.49 1067.48,446.39 C1071.60,446.28 1075.72,446.64 1079.84,446.80 C1083.96,446.96 1088.08,447.28 1092.20,447.37 C1096.32,447.47 1100.44,447.44 1104.56,447.39 C1108.68,447.34 1112.80,447.08 1116.92,447.06 C1121.04,447.03 1125.16,447.04 1129.28,447.22 C1133.40,447.40 1137.52,448.10 1141.64,448.15 C1145.76,448.19 1151.94,447.61 1154.00,447.50" fill="none" stroke="#2e87f7" stroke-width="1.3" opacity="0.85"/>
<path d="M165.00,465.72 C167.01,465.53 173.06,464.73 177.08,464.57 C181.11,464.42 185.14,464.81 189.17,464.81 C193.19,464.80 197.22,464.49 201.25,464.56 C205.28,464.62 209.31,465.15 213.33,465.21 C217.36,465.28 221.39,464.96 225.42,464.95 C229.44,464.94 233.47,465.34 237.50,465.13 C241.53,464.91 245.56,463.85 249.58,463.67 C253.61,463.49 257.64,464.11 261.67,464.04 C265.69,463.97 269.72,463.36 273.75,463.25 C277.78,463.14 281.81,463.31 285.83,463.38 C289.86,463.45 293.89,463.78 297.92,463.68 C301.94,463.57 305.97,462.88 310.00,462.74 C314.03,462.61 318.06,462.74 322.08,462.85 C326.11,462.96 330.14,463.37 334.17,463.41 C338.19,463.44 342.22,463.24 346.25,463.07 C350.28,462.90 354.31,462.43 358.33,462.39 C362.36,462.34 366.39,462.71 370.42,462.81 C374.44,462.91 378.47,463.21 382.50,463.00 C386.53,462.78 390.56,461.60 394.58,461.54 C398.61,461.49 402.64,462.53 406.67,462.66 C410.69,462.78 414.72,462.50 418.75,462.32 C422.78,462.14 426.81,461.78 430.83,461.58 C434.86,461.38 438.89,461.01 442.92,461.12 C446.94,461.22 450.97,462.24 455.00,462.23 C459.03,462.22 463.06,461.36 467.08,461.07 C471.11,460.79 475.14,460.63 479.17,460.52 C483.19,460.40 487.22,460.21 491.25,460.35 C495.28,460.50 499.31,461.31 503.33,461.39 C507.36,461.47 511.39,460.90 515.42,460.83 C519.44,460.77 523.47,461.01 527.50,460.99 C531.53,460.97 535.56,460.83 539.58,460.70 C543.61,460.57 547.64,460.22 551.67,460.22 C555.69,460.23 559.72,460.85 563.75,460.76 C567.78,460.66 571.81,459.81 575.83,459.64 C579.86,459.47 583.89,459.69 587.92,459.75 C591.94,459.81 595.94,460.02 600.00,460.03 C604.06,460.03 608.17,459.73 612.25,459.76 C616.33,459.80 620.42,460.21 624.50,460.23 C628.58,460.24 632.67,459.87 636.75,459.85 C640.83,459.83 644.92,460.24 649.00,460.13 C653.08,460.01 657.17,459.25 661.25,459.15 C665.33,459.05 669.42,459.42 673.50,459.51 C677.58,459.60 681.67,459.70 685.75,459.69 C689.83,459.67 693.92,459.42 698.00,459.43 C702.08,459.44 706.17,459.72 710.25,459.75 C714.33,459.78 718.42,459.57 722.50,459.61 C726.58,459.65 730.67,459.80 734.75,459.97 C738.83,460.14 742.92,460.57 747.00,460.62 C751.08,460.67 755.17,460.30 759.25,460.26 C763.33,460.21 767.42,460.36 771.50,460.34 C775.58,460.33 779.67,460.16 783.75,460.16 C787.83,460.16 791.92,460.11 796.00,460.33 C800.08,460.55 804.17,461.35 808.25,461.47 C812.33,461.60 816.42,461.15 820.50,461.09 C824.58,461.02 828.67,461.11 832.75,461.10 C836.83,461.09 842.96,461.02 845.00,461.00" fill="none" stroke="#2e87f7" stroke-width="1.3" opacity="0.85"/>
<path d="M833.00,466.77 C835.06,466.83 841.23,467.10 845.35,467.12 C849.46,467.13 853.58,466.87 857.69,466.86 C861.81,466.85 865.92,466.99 870.04,467.04 C874.15,467.09 878.27,467.13 882.38,467.16 C886.50,467.20 890.62,467.25 894.73,467.24 C898.85,467.23 902.96,467.11 907.08,467.09 C911.19,467.07 915.31,467.16 919.42,467.13 C923.54,467.10 927.65,466.91 931.77,466.91 C935.88,466.91 940.00,467.10 944.12,467.14 C948.23,467.18 952.35,467.09 956.46,467.13 C960.58,467.17 964.69,467.37 968.81,467.39 C972.92,467.41 977.04,467.26 981.15,467.25 C985.27,467.25 989.38,467.38 993.50,467.38 C997.62,467.37 1001.73,467.28 1005.85,467.24 C1009.96,467.19 1014.08,467.09 1018.19,467.13 C1022.31,467.17 1026.42,467.42 1030.54,467.48 C1034.65,467.54 1038.77,467.52 1042.88,467.49 C1047.00,467.45 1051.12,467.34 1055.23,467.28 C1059.35,467.23 1063.46,467.15 1067.58,467.16 C1071.69,467.18 1075.81,467.35 1079.92,467.39 C1084.04,467.43 1088.15,467.37 1092.27,467.40 C1096.38,467.43 1100.50,467.54 1104.62,467.56 C1108.73,467.57 1112.85,467.51 1116.96,467.49 C1121.08,467.48 1125.19,467.46 1129.31,467.46 C1133.42,467.47 1137.54,467.51 1141.65,467.52 C1145.77,467.52 1151.94,467.50 1154.00,467.50" fill="none" stroke="#2e87f7" stroke-width="1.3" opacity="0.85"/>
<path d="M165.00,477.85 C167.01,477.88 173.06,477.91 177.08,478.01 C181.11,478.11 185.14,478.58 189.17,478.47 C193.19,478.35 197.22,477.50 201.25,477.32 C205.28,477.13 209.31,477.40 213.33,477.34 C217.36,477.28 221.39,477.02 225.42,476.97 C229.44,476.92 233.47,477.08 237.50,477.05 C241.53,477.03 245.56,476.83 249.58,476.83 C253.61,476.82 257.64,476.89 261.67,477.01 C265.69,477.12 269.72,477.32 273.75,477.52 C277.78,477.73 281.81,478.20 285.83,478.23 C289.86,478.26 293.89,477.88 297.92,477.70 C301.94,477.52 305.97,477.23 310.00,477.14 C314.03,477.04 318.06,477.06 322.08,477.13 C326.11,477.19 330.14,477.57 334.17,477.53 C338.19,477.49 342.22,477.07 346.25,476.89 C350.28,476.71 354.31,476.31 358.33,476.43 C362.36,476.55 366.39,477.48 370.42,477.60 C374.44,477.73 378.47,477.40 382.50,477.19 C386.53,476.97 390.56,476.49 394.58,476.32 C398.61,476.16 402.64,476.22 406.67,476.20 C410.69,476.18 414.72,475.97 418.75,476.18 C422.78,476.40 426.81,477.53 430.83,477.51 C434.86,477.50 438.89,476.20 442.92,476.09 C446.94,475.99 450.97,476.66 455.00,476.87 C459.03,477.08 463.06,477.54 467.08,477.36 C471.11,477.19 475.14,475.99 479.17,475.81 C483.19,475.64 487.22,476.22 491.25,476.32 C495.28,476.42 499.31,476.29 503.33,476.41 C507.36,476.53 511.39,477.15 515.42,477.06 C519.44,476.96 523.47,476.03 527.50,475.84 C531.53,475.64 535.56,475.89 539.58,475.89 C543.61,475.89 547.64,475.89 551.67,475.82 C555.69,475.74 559.72,475.35 563.75,475.45 C567.78,475.54 571.81,476.20 575.83,476.39 C579.86,476.58 583.89,476.64 587.92,476.56 C591.94,476.48 595.94,476.11 600.00,475.90 C604.06,475.69 608.17,475.22 612.25,475.31 C616.33,475.40 620.42,476.24 624.50,476.44 C628.58,476.64 632.67,476.53 636.75,476.53 C640.83,476.53 644.92,476.54 649.00,476.45 C653.08,476.35 657.17,475.91 661.25,475.98 C665.33,476.04 669.42,476.73 673.50,476.83 C677.58,476.93 681.67,476.61 685.75,476.56 C689.83,476.51 693.92,476.55 698.00,476.54 C702.08,476.54 706.17,476.59 710.25,476.51 C714.33,476.44 718.42,476.08 722.50,476.07 C726.58,476.07 730.67,476.31 734.75,476.48 C738.83,476.65 742.92,476.99 747.00,477.07 C751.08,477.15 755.17,477.05 759.25,476.94 C763.33,476.84 767.42,476.40 771.50,476.45 C775.58,476.51 779.67,477.11 783.75,477.26 C787.83,477.41 791.92,477.53 796.00,477.34 C800.08,477.15 804.17,476.29 808.25,476.12 C812.33,475.95 816.42,476.29 820.50,476.35 C824.58,476.42 828.67,476.40 832.75,476.51 C836.83,476.62 842.96,476.92 845.00,477.00" fill="none" stroke="#12b1d6" stroke-width="1.3" opacity="0.85"/>
<path d="M850.00,487.89 C852.03,487.90 858.11,488.00 862.16,487.98 C866.21,487.96 870.27,487.78 874.32,487.76 C878.37,487.74 882.43,487.88 886.48,487.87 C890.53,487.87 894.59,487.75 898.64,487.72 C902.69,487.69 906.75,487.66 910.80,487.68 C914.85,487.69 918.91,487.79 922.96,487.80 C927.01,487.80 931.07,487.70 935.12,487.70 C939.17,487.69 943.23,487.73 947.28,487.78 C951.33,487.82 955.39,488.01 959.44,487.98 C963.49,487.95 967.55,487.62 971.60,487.61 C975.65,487.59 979.71,487.88 983.76,487.89 C987.81,487.89 991.87,487.62 995.92,487.63 C999.97,487.63 1004.03,487.89 1008.08,487.94 C1012.13,487.98 1016.19,487.95 1020.24,487.89 C1024.29,487.84 1028.35,487.61 1032.40,487.62 C1036.45,487.62 1040.51,487.88 1044.56,487.92 C1048.61,487.95 1052.67,487.91 1056.72,487.84 C1060.77,487.77 1064.83,487.53 1068.88,487.50 C1072.93,487.47 1076.99,487.60 1081.04,487.65 C1085.09,487.70 1089.15,487.74 1093.20,487.78 C1097.25,487.82 1101.31,487.92 1105.36,487.88 C1109.41,487.83 1113.47,487.55 1117.52,487.48 C1121.57,487.42 1125.63,487.46 1129.68,487.51 C1133.73,487.55 1137.79,487.74 1141.84,487.75 C1145.89,487.77 1151.97,487.63 1154.00,487.60" fill="none" stroke="#12b1d6" stroke-width="1.3" opacity="0.85"/>
<path d="M700.00,508.79 C702.05,508.75 708.18,508.56 712.27,508.53 C716.36,508.50 720.45,508.57 724.54,508.60 C728.63,508.63 732.72,508.75 736.81,508.72 C740.90,508.68 744.99,508.41 749.08,508.38 C753.17,508.34 757.26,508.48 761.35,508.50 C765.44,508.52 769.53,508.48 773.62,508.51 C777.71,508.54 781.80,508.73 785.89,508.67 C789.98,508.62 794.07,508.27 798.16,508.19 C802.25,508.11 806.34,508.17 810.43,508.19 C814.52,508.21 818.61,508.24 822.70,508.29 C826.79,508.35 830.88,508.49 834.97,508.52 C839.06,508.56 843.15,508.58 847.24,508.51 C851.33,508.45 855.42,508.14 859.51,508.14 C863.60,508.14 867.69,508.48 871.78,508.51 C875.87,508.53 879.96,508.29 884.05,508.29 C888.14,508.29 892.23,508.46 896.32,508.49 C900.41,508.51 904.50,508.53 908.59,508.45 C912.68,508.37 916.77,508.01 920.86,508.01 C924.95,508.00 929.05,508.40 933.14,508.43 C937.23,508.45 941.32,508.23 945.41,508.16 C949.50,508.08 953.59,507.98 957.68,507.97 C961.77,507.97 965.86,508.12 969.95,508.11 C974.04,508.09 978.13,507.87 982.22,507.89 C986.31,507.91 990.40,508.17 994.49,508.21 C998.58,508.24 1002.67,508.14 1006.76,508.08 C1010.85,508.02 1014.94,507.88 1019.03,507.84 C1023.12,507.81 1027.21,507.85 1031.30,507.88 C1035.39,507.91 1039.48,507.96 1043.57,508.00 C1047.66,508.04 1051.75,508.14 1055.84,508.11 C1059.93,508.09 1064.02,507.90 1068.11,507.84 C1072.20,507.78 1076.29,507.73 1080.38,507.73 C1084.47,507.73 1088.56,507.85 1092.65,507.84 C1096.74,507.83 1100.83,507.68 1104.92,507.67 C1109.01,507.66 1113.10,507.72 1117.19,507.78 C1121.28,507.84 1125.37,508.05 1129.46,508.03 C1133.55,508.01 1137.64,507.70 1141.73,507.66 C1145.82,507.63 1151.95,507.78 1154.00,507.80" fill="none" stroke="#12b1d6" stroke-width="1.3" opacity="0.85"/>
<path d="M700.00,410.53 C702.14,410.52 708.55,410.52 712.82,410.51 C717.09,410.50 721.36,410.49 725.64,410.47 C729.91,410.44 734.18,410.37 738.45,410.36 C742.73,410.34 747.00,410.40 751.27,410.39 C755.55,410.37 759.82,410.33 764.09,410.27 C768.36,410.22 772.64,410.06 776.91,410.04 C781.18,410.03 785.45,410.20 789.73,410.18 C794.00,410.16 798.27,409.97 802.55,409.93 C806.82,409.88 811.09,409.91 815.36,409.91 C819.64,409.91 823.91,409.92 828.18,409.94 C832.45,409.95 838.86,409.99 841.00,410.00" fill="none" stroke="#2e87f7" stroke-width="1.3" opacity="0.85"/>
<path d="M860.00,406.52 C862.04,406.49 868.17,406.30 872.25,406.32 C876.33,406.33 880.42,406.59 884.50,406.61 C888.58,406.62 892.67,406.38 896.75,406.40 C900.83,406.42 904.92,406.73 909.00,406.72 C913.08,406.71 917.17,406.36 921.25,406.35 C925.33,406.33 929.42,406.63 933.50,406.63 C937.58,406.63 941.67,406.32 945.75,406.33 C949.83,406.35 953.92,406.67 958.00,406.73 C962.08,406.79 966.17,406.76 970.25,406.69 C974.33,406.62 978.42,406.32 982.50,406.30 C986.58,406.29 990.67,406.57 994.75,406.57 C998.83,406.58 1002.92,406.37 1007.00,406.36 C1011.08,406.35 1015.17,406.45 1019.25,406.51 C1023.33,406.56 1027.42,406.70 1031.50,406.68 C1035.58,406.65 1039.67,406.38 1043.75,406.33 C1047.83,406.27 1051.92,406.37 1056.00,406.36 C1060.08,406.35 1064.17,406.30 1068.25,406.29 C1072.33,406.27 1076.42,406.25 1080.50,406.28 C1084.58,406.32 1088.67,406.49 1092.75,406.50 C1096.83,406.51 1100.92,406.36 1105.00,406.33 C1109.08,406.30 1113.17,406.27 1117.25,406.31 C1121.33,406.36 1125.42,406.59 1129.50,406.60 C1133.58,406.61 1137.67,406.41 1141.75,406.40 C1145.83,406.38 1151.96,406.48 1154.00,406.50" fill="none" stroke="#2e87f7" stroke-width="1.3" opacity="0.85"/>
<path d="M300.0,476.0 L356.0,436.0" stroke="#2e87f7" stroke-width="1.1" opacity="0.7"/>
<path d="M312.0,474.0 L362.0,449.0" stroke="#2e87f7" stroke-width="1.1" opacity="0.7"/>
<path d="M322.0,478.0 L370.0,462.0" stroke="#2e87f7" stroke-width="1.1" opacity="0.7"/>
<path d="M296.0,470.0 L340.0,440.0" stroke="#2e87f7" stroke-width="1.1" opacity="0.7"/>
<rect x="300" y="367" width="45" height="106" fill="#2b90ef" opacity="0.12"/>
<text class="t" x="156.6" y="140.1" text-anchor="end">80</text>
<text class="t" x="156.6" y="179.8" text-anchor="end">60</text>
<text class="t" x="156.6" y="219.6" text-anchor="end">40</text>
<text class="t" x="156.6" y="259.4" text-anchor="end">20</text>
<text class="t" x="156.6" y="299.1" text-anchor="end">0</text>
<text class="t" x="156.6" y="374.1" text-anchor="end">80</text>
<text class="t" x="156.6" y="414.4" text-anchor="end">60</text>
<text class="t" x="156.6" y="454.6" text-anchor="end">40</text>
<text class="t" x="156.6" y="494.9" text-anchor="end">20</text>
<text class="t" x="156.6" y="535.1" text-anchor="end">0</text>
<rect x="1225.5" y="118.5" width="32" height="398" fill="url(#cbar)" stroke="#262626" stroke-width="1"/>
<text class="b" x="1217.8" y="123.9" text-anchor="end" fill="#262626">10</text>
<line x1="1225.5" y1="175.4" x2="1229.5" y2="175.4" stroke="#262626" stroke-width="1"/>
<text class="b" x="1217.8" y="180.8" text-anchor="end" fill="#262626">5</text>
<line x1="1225.5" y1="232.2" x2="1229.5" y2="232.2" stroke="#262626" stroke-width="1"/>
<text class="b" x="1217.8" y="237.6" text-anchor="end" fill="#262626">0</text>
<line x1="1225.5" y1="289.1" x2="1229.5" y2="289.1" stroke="#262626" stroke-width="1"/>
<text class="b" x="1217.8" y="294.5" text-anchor="end" fill="#262626">-5</text>
<line x1="1225.5" y1="345.9" x2="1229.5" y2="345.9" stroke="#262626" stroke-width="1"/>
<text class="b" x="1217.8" y="351.3" text-anchor="end" fill="#262626">-10</text>
<line x1="1225.5" y1="402.8" x2="1229.5" y2="402.8" stroke="#262626" stroke-width="1"/>
<text class="b" x="1217.8" y="408.2" text-anchor="end" fill="#262626">-15</text>
<line x1="1225.5" y1="459.6" x2="1229.5" y2="459.6" stroke="#262626" stroke-width="1"/>
<text class="b" x="1217.8" y="465.0" text-anchor="end" fill="#262626">-20</text>
<text class="b" x="1217.8" y="521.9" text-anchor="end" fill="#262626">-25</text>
<text class="b" transform="translate(1174.2,319.6) rotate(-90)" text-anchor="middle" letter-spacing="0.3">Log<tspan font-size="11.5" dy="5.9">10</tspan><tspan dy="-5.9"> (nT</tspan><tspan font-size="11.5" dy="-7.6">2</tspan><tspan dy="7.6">/Hz)</tspan></text>
<text class="yl" transform="translate(92.0,212.5) rotate(-90)" text-anchor="middle">Outboard Sensor</text>
<text class="yl" transform="translate(117.8,212.5) rotate(-90)" text-anchor="middle">Frequency (Hz)</text>
<text class="yl" transform="translate(92.0,447.5) rotate(-90)" text-anchor="middle">Inboard Sensor</text>
<text class="yl" transform="translate(117.8,447.5) rotate(-90)" text-anchor="middle">Frequency (Hz)</text>
<text class="yl" transform="translate(85.3,683.0) rotate(-90)" text-anchor="middle">Total Field</text>
<text class="yl" transform="translate(111.3,683.0) rotate(-90)" text-anchor="middle">|B| (nT)</text>
<text class="yl" transform="translate(85.2,918.3) rotate(-90)" text-anchor="middle">Model - Measured</text>
<text class="yl" transform="translate(111.3,918.3) rotate(-90)" text-anchor="middle">|B| (nT)</text>
<text class="yl" transform="translate(85.3,1153.0) rotate(-90)" text-anchor="middle">Temperature</text>
<text class="yl" transform="translate(111.3,1153.0) rotate(-90)" text-anchor="middle">(°C)</text>
<text class="yl" transform="translate(72.3,1389.2) rotate(-90)" text-anchor="middle">Voltage</text>
<text class="yl" transform="translate(98.5,1389.2) rotate(-90)" text-anchor="middle">(mV)</text>
<line x1="165" y1="628.5" x2="1154" y2="628.5" stroke="#dfdfdf" stroke-width="1"/>
<line x1="165" y1="695.5" x2="1154" y2="695.5" stroke="#dfdfdf" stroke-width="1"/>
<line x1="587.5" y1="603.0" x2="587.5" y2="762.0" stroke="#dfdfdf" stroke-width="1"/>
<line x1="165" y1="904.5" x2="1154" y2="904.5" stroke="#dfdfdf" stroke-width="1"/>
<line x1="165" y1="971.5" x2="1154" y2="971.5" stroke="#dfdfdf" stroke-width="1"/>
<line x1="587.5" y1="837.0" x2="587.5" y2="999.0" stroke="#dfdfdf" stroke-width="1"/>
<line x1="165" y1="1125.5" x2="1154" y2="1125.5" stroke="#dfdfdf" stroke-width="1"/>
<line x1="165" y1="1179.5" x2="1154" y2="1179.5" stroke="#dfdfdf" stroke-width="1"/>
<line x1="587.5" y1="1072.0" x2="587.5" y2="1233.0" stroke="#dfdfdf" stroke-width="1"/>
<line x1="165" y1="1388.5" x2="1154" y2="1388.5" stroke="#dfdfdf" stroke-width="1"/>
<line x1="412.5" y1="1308.0" x2="412.5" y2="1469.0" stroke="#dfdfdf" stroke-width="1"/>
<line x1="660.5" y1="1308.0" x2="660.5" y2="1469.0" stroke="#dfdfdf" stroke-width="1"/>
<line x1="907.5" y1="1308.0" x2="907.5" y2="1469.0" stroke="#dfdfdf" stroke-width="1"/>
<path d="M165.50,761.93 C166.50,761.49 169.50,760.18 171.50,759.30 C173.50,758.42 175.50,757.54 177.50,756.65 C179.50,755.77 181.50,754.88 183.50,753.99 C185.50,753.10 187.50,752.21 189.50,751.32 C191.50,750.42 193.50,749.53 195.50,748.63 C197.50,747.73 199.50,746.84 201.50,745.94 C203.50,745.04 205.50,744.14 207.50,743.24 C209.50,742.34 211.50,741.44 213.50,740.54 C215.50,739.64 217.50,738.74 219.50,737.84 C221.50,736.94 223.50,736.04 225.50,735.14 C227.50,734.24 229.50,733.34 231.50,732.45 C233.50,731.55 235.50,730.65 237.50,729.76 C239.50,728.87 241.50,727.97 243.50,727.08 C245.50,726.19 247.50,725.30 249.50,724.41 C251.50,723.52 253.50,722.64 255.50,721.75 C257.50,720.87 259.50,719.99 261.50,719.11 C263.50,718.23 265.50,717.35 267.50,716.48 C269.50,715.61 271.50,714.74 273.50,713.87 C275.50,713.00 277.50,712.14 279.50,711.28 C281.50,710.41 283.50,709.56 285.50,708.70 C287.50,707.85 289.50,707.00 291.50,706.15 C293.50,705.30 295.50,704.46 297.50,703.62 C299.50,702.78 301.50,701.94 303.50,701.11 C305.50,700.28 307.50,699.45 309.50,698.63 C311.50,697.81 313.50,696.99 315.50,696.18 C317.50,695.36 319.50,694.55 321.50,693.75 C323.50,692.95 325.50,692.15 327.50,691.35 C329.50,690.56 331.50,689.77 333.50,688.98 C335.50,688.19 337.50,687.41 339.50,686.64 C341.50,685.86 343.50,685.10 345.50,684.33 C347.50,683.57 349.50,682.81 351.50,682.05 C353.50,681.30 355.50,680.55 357.50,679.81 C359.50,679.07 361.50,678.33 363.50,677.60 C365.50,676.86 367.50,676.14 369.50,675.42 C371.50,674.70 373.50,673.98 375.50,673.27 C377.50,672.57 379.50,671.86 381.50,671.17 C383.50,670.47 385.50,669.78 387.50,669.09 C389.50,668.41 391.50,667.73 393.50,667.05 C395.50,666.38 397.50,665.71 399.50,665.05 C401.50,664.39 403.50,663.74 405.50,663.09 C407.50,662.44 409.50,661.79 411.50,661.16 C413.50,660.52 415.50,659.89 417.50,659.27 C419.50,658.64 421.50,658.02 423.50,657.41 C425.50,656.80 427.50,656.19 429.50,655.59 C431.50,655.00 433.50,654.40 435.50,653.81 C437.50,653.23 439.50,652.65 441.50,652.07 C443.50,651.50 445.50,650.93 447.50,650.37 C449.50,649.81 451.50,649.25 453.50,648.70 C455.50,648.15 457.50,647.61 459.50,647.07 C461.50,646.53 463.50,646.00 465.50,645.48 C467.50,644.96 469.50,644.44 471.50,643.93 C473.50,643.41 475.50,642.91 477.50,642.41 C479.50,641.91 481.50,641.41 483.50,640.93 C485.50,640.44 487.50,639.96 489.50,639.48 C491.50,639.01 493.50,638.54 495.50,638.08 C497.50,637.61 499.50,637.16 501.50,636.71 C503.50,636.26 505.50,635.81 507.50,635.37 C509.50,634.93 511.50,634.50 513.50,634.08 C515.50,633.65 517.50,633.23 519.50,632.81 C521.50,632.40 523.50,631.99 525.50,631.59 C527.50,631.18 529.50,630.78 531.50,630.39 C533.50,630.00 535.50,629.62 537.50,629.23 C539.50,628.85 541.50,628.48 543.50,628.11 C545.50,627.74 547.50,627.38 549.50,627.02 C551.50,626.66 553.50,626.31 555.50,625.96 C557.50,625.62 559.50,625.27 561.50,624.94 C563.50,624.60 565.50,624.27 567.50,623.95 C569.50,623.62 571.50,623.30 573.50,622.99 C575.50,622.67 577.50,622.36 579.50,622.06 C581.50,621.75 583.50,621.45 585.50,621.16 C587.50,620.86 589.50,620.57 591.50,620.29 C593.50,620.00 595.50,619.72 597.50,619.45 C599.50,619.17 601.50,618.91 603.50,618.64 C605.50,618.37 607.50,618.11 609.50,617.86 C611.50,617.60 613.50,617.35 615.50,617.11 C617.50,616.86 619.50,616.62 621.50,616.38 C623.50,616.14 625.50,615.91 627.50,615.68 C629.50,615.45 631.50,615.23 633.50,615.01 C635.50,614.79 637.50,614.57 639.50,614.36 C641.50,614.15 643.50,613.94 645.50,613.74 C647.50,613.54 649.50,613.34 651.50,613.14 C653.50,612.95 655.50,612.76 657.50,612.57 C659.50,612.38 661.50,612.20 663.50,612.02 C665.50,611.84 667.50,611.66 669.50,611.49 C671.50,611.32 673.50,611.15 675.50,610.99 C677.50,610.82 679.50,610.66 681.50,610.50 C683.50,610.35 685.50,610.19 687.50,610.04 C689.50,609.89 691.50,609.75 693.50,609.60 C695.50,609.46 697.50,609.32 699.50,609.18 C701.50,609.04 703.50,608.91 705.50,608.78 C707.50,608.65 709.50,608.52 711.50,608.40 C713.50,608.27 715.50,608.15 717.50,608.03 C719.50,607.92 721.50,607.80 723.50,607.69 C725.50,607.58 727.50,607.47 729.50,607.36 C731.50,607.25 733.50,607.15 735.50,607.05 C737.50,606.95 739.50,606.85 741.50,606.76 C743.50,606.66 745.50,606.57 747.50,606.48 C749.50,606.39 751.50,606.30 753.50,606.22 C755.50,606.13 757.50,606.05 759.50,605.97 C761.50,605.89 763.50,605.82 765.50,605.74 C767.50,605.67 769.50,605.60 771.50,605.53 C773.50,605.46 775.50,605.39 777.50,605.33 C779.50,605.26 781.50,605.20 783.50,605.14 C785.50,605.08 787.50,605.02 789.50,604.97 C791.50,604.91 793.50,604.86 795.50,604.81 C797.50,604.76 799.50,604.71 801.50,604.67 C803.50,604.62 805.50,604.58 807.50,604.53 C809.50,604.49 811.50,604.45 813.50,604.42 C815.50,604.38 817.50,604.35 819.50,604.31 C821.50,604.28 823.50,604.25 825.50,604.22 C827.50,604.19 829.50,604.17 831.50,604.14 C833.50,604.12 835.50,604.10 837.50,604.08 C839.50,604.06 841.50,604.04 843.50,604.03 C845.50,604.01 847.50,604.00 849.50,603.99 C851.50,603.98 853.50,603.97 855.50,603.97 C857.50,603.96 859.50,603.96 861.50,603.95 C863.50,603.95 865.50,603.95 867.50,603.96 C869.50,603.96 871.50,603.97 873.50,603.97 C875.50,603.98 877.50,603.99 879.50,604.01 C881.50,604.02 883.50,604.03 885.50,604.05 C887.50,604.07 889.50,604.09 891.50,604.11 C893.50,604.14 895.50,604.16 897.50,604.19 C899.50,604.22 901.50,604.25 903.50,604.28 C905.50,604.32 907.50,604.35 909.50,604.39 C911.50,604.43 913.50,604.47 915.50,604.52 C917.50,604.56 919.50,604.61 921.50,604.66 C923.50,604.71 925.50,604.76 927.50,604.82 C929.50,604.88 931.50,604.94 933.50,605.00 C935.50,605.07 937.50,605.13 939.50,605.20 C941.50,605.27 943.50,605.35 945.50,605.42 C947.50,605.50 949.50,605.58 951.50,605.67 C953.50,605.75 955.50,605.84 957.50,605.93 C959.50,606.02 961.50,606.12 963.50,606.22 C965.50,606.32 967.50,606.42 969.50,606.53 C971.50,606.64 973.50,606.75 975.50,606.87 C977.50,606.99 979.50,607.11 981.50,607.24 C983.50,607.36 985.50,607.49 987.50,607.63 C989.50,607.77 991.50,607.91 993.50,608.05 C995.50,608.20 997.50,608.35 999.50,608.51 C1001.50,608.66 1003.50,608.83 1005.50,608.99 C1007.50,609.16 1009.50,609.33 1011.50,609.51 C1013.50,609.69 1015.50,609.88 1017.50,610.07 C1019.50,610.26 1021.50,610.46 1023.50,610.66 C1025.50,610.87 1027.50,611.08 1029.50,611.29 C1031.50,611.51 1033.50,611.73 1035.50,611.96 C1037.50,612.20 1039.50,612.43 1041.50,612.68 C1043.50,612.92 1045.50,613.18 1047.50,613.44 C1049.50,613.70 1051.50,613.97 1053.50,614.24 C1055.50,614.52 1057.50,614.80 1059.50,615.10 C1061.50,615.39 1063.50,615.69 1065.50,616.00 C1067.50,616.31 1069.50,616.63 1071.50,616.96 C1073.50,617.29 1075.50,617.62 1077.50,617.97 C1079.50,618.32 1081.50,618.67 1083.50,619.04 C1085.50,619.41 1087.50,619.78 1089.50,620.17 C1091.50,620.56 1093.50,620.96 1095.50,621.37 C1097.50,621.77 1099.50,622.19 1101.50,622.63 C1103.50,623.06 1105.50,623.50 1107.50,623.95 C1109.50,624.41 1111.50,624.87 1113.50,625.35 C1115.50,625.83 1117.50,626.32 1119.50,626.82 C1121.50,627.33 1123.50,627.84 1125.50,628.37 C1127.50,628.90 1129.50,629.45 1131.50,630.00 C1133.50,630.56 1135.50,631.13 1137.50,631.72 C1139.50,632.30 1141.50,632.90 1143.50,633.52 C1145.50,634.13 1147.75,634.85 1149.50,635.41 C1151.25,635.97 1153.25,636.64 1154.00,636.89" fill="none" stroke="#2c7a14" stroke-width="2.2"/>
<path d="M165.50,761.93 C166.50,761.49 169.50,760.18 171.50,759.30 C173.50,758.42 175.50,757.54 177.50,756.65 C179.50,755.77 181.50,754.88 183.50,753.99 C185.50,753.10 187.50,752.21 189.50,751.32 C191.50,750.42 193.50,749.53 195.50,748.63 C197.50,747.73 199.50,746.84 201.50,745.94 C203.50,745.04 205.50,744.14 207.50,743.24 C209.50,742.34 211.50,741.44 213.50,740.54 C215.50,739.64 217.50,738.74 219.50,737.84 C221.50,736.94 223.50,736.04 225.50,735.14 C227.50,734.24 229.50,733.34 231.50,732.45 C233.50,731.55 235.50,730.65 237.50,729.76 C239.50,728.87 241.50,727.97 243.50,727.08 C245.50,726.19 247.50,725.30 249.50,724.41 C251.50,723.52 253.50,722.64 255.50,721.75 C257.50,720.87 259.50,719.99 261.50,719.11 C263.50,718.23 265.50,717.35 267.50,716.48 C269.50,715.61 271.50,714.74 273.50,713.87 C275.50,713.00 277.50,712.14 279.50,711.28 C281.50,710.41 283.50,709.56 285.50,708.70 C287.50,707.85 289.50,707.00 291.50,706.15 C293.50,705.30 295.50,704.46 297.50,703.62 C299.50,702.78 301.50,701.94 303.50,701.11 C305.50,700.28 307.50,699.45 309.50,698.63 C311.50,697.81 313.50,696.99 315.50,696.18 C317.50,695.36 319.50,694.55 321.50,693.75 C323.50,692.95 325.50,692.15 327.50,691.35 C329.50,690.56 331.50,689.77 333.50,688.98 C335.50,688.19 337.50,687.41 339.50,686.64 C341.50,685.86 343.50,685.10 345.50,684.33 C347.50,683.57 349.50,682.81 351.50,682.05 C353.50,681.30 355.50,680.55 357.50,679.81 C359.50,679.07 361.50,678.33 363.50,677.60 C365.50,676.86 367.50,676.14 369.50,675.42 C371.50,674.70 373.50,673.98 375.50,673.27 C377.50,672.57 379.50,671.86 381.50,671.17 C383.50,670.47 385.50,669.78 387.50,669.09 C389.50,668.41 391.50,667.73 393.50,667.05 C395.50,666.38 397.50,665.71 399.50,665.05 C401.50,664.39 403.50,663.74 405.50,663.09 C407.50,662.44 409.50,661.79 411.50,661.16 C413.50,660.52 415.50,659.89 417.50,659.27 C419.50,658.64 421.50,658.02 423.50,657.41 C425.50,656.80 427.50,656.19 429.50,655.59 C431.50,655.00 433.50,654.40 435.50,653.81 C437.50,653.23 439.50,652.65 441.50,652.07 C443.50,651.50 445.50,650.93 447.50,650.37 C449.50,649.81 451.50,649.25 453.50,648.70 C455.50,648.15 457.50,647.61 459.50,647.07 C461.50,646.53 463.50,646.00 465.50,645.48 C467.50,644.96 469.50,644.44 471.50,643.93 C473.50,643.41 475.50,642.91 477.50,642.41 C479.50,641.91 481.50,641.41 483.50,640.93 C485.50,640.44 487.50,639.96 489.50,639.48 C491.50,639.01 493.50,638.54 495.50,638.08 C497.50,637.61 499.50,637.16 501.50,636.71 C503.50,636.26 505.50,635.81 507.50,635.37 C509.50,634.93 511.50,634.50 513.50,634.08 C515.50,633.65 517.50,633.23 519.50,632.81 C521.50,632.40 523.50,631.99 525.50,631.59 C527.50,631.18 529.50,630.78 531.50,630.39 C533.50,630.00 535.50,629.62 537.50,629.23 C539.50,628.85 541.50,628.48 543.50,628.11 C545.50,627.74 547.50,627.38 549.50,627.02 C551.50,626.66 553.50,626.31 555.50,625.96 C557.50,625.62 559.50,625.27 561.50,624.94 C563.50,624.60 565.50,624.27 567.50,623.95 C569.50,623.62 571.50,623.30 573.50,622.99 C575.50,622.67 577.50,622.36 579.50,622.06 C581.50,621.75 583.50,621.45 585.50,621.16 C587.50,620.86 589.50,620.57 591.50,620.29 C593.50,620.00 595.50,619.72 597.50,619.45 C599.50,619.17 601.50,618.91 603.50,618.64 C605.50,618.37 607.50,618.11 609.50,617.86 C611.50,617.60 613.50,617.35 615.50,617.11 C617.50,616.86 619.50,616.62 621.50,616.38 C623.50,616.14 625.50,615.91 627.50,615.68 C629.50,615.45 631.50,615.23 633.50,615.01 C635.50,614.79 637.50,614.57 639.50,614.36 C641.50,614.15 643.50,613.94 645.50,613.74 C647.50,613.54 649.50,613.34 651.50,613.14 C653.50,612.95 655.50,612.76 657.50,612.57 C659.50,612.38 661.50,612.20 663.50,612.02 C665.50,611.84 667.50,611.66 669.50,611.49 C671.50,611.32 673.50,611.15 675.50,610.99 C677.50,610.82 679.50,610.66 681.50,610.50 C683.50,610.35 685.50,610.19 687.50,610.04 C689.50,609.89 691.50,609.75 693.50,609.60 C695.50,609.46 697.50,609.32 699.50,609.18 C701.50,609.04 703.50,608.91 705.50,608.78 C707.50,608.65 709.50,608.52 711.50,608.40 C713.50,608.27 715.50,608.15 717.50,608.03 C719.50,607.92 721.50,607.80 723.50,607.69 C725.50,607.58 727.50,607.47 729.50,607.36 C731.50,607.25 733.50,607.15 735.50,607.05 C737.50,606.95 739.50,606.85 741.50,606.76 C743.50,606.66 745.50,606.57 747.50,606.48 C749.50,606.39 751.50,606.30 753.50,606.22 C755.50,606.13 757.50,606.05 759.50,605.97 C761.50,605.89 763.50,605.82 765.50,605.74 C767.50,605.67 769.50,605.60 771.50,605.53 C773.50,605.46 775.50,605.39 777.50,605.33 C779.50,605.26 781.50,605.20 783.50,605.14 C785.50,605.08 787.50,605.02 789.50,604.97 C791.50,604.91 793.50,604.86 795.50,604.81 C797.50,604.76 799.50,604.71 801.50,604.67 C803.50,604.62 805.50,604.58 807.50,604.53 C809.50,604.49 811.50,604.45 813.50,604.42 C815.50,604.38 817.50,604.35 819.50,604.31 C821.50,604.28 823.50,604.25 825.50,604.22 C827.50,604.19 829.50,604.17 831.50,604.14 C833.50,604.12 835.50,604.10 837.50,604.08 C839.50,604.06 841.50,604.04 843.50,604.03 C845.50,604.01 847.50,604.00 849.50,603.99 C851.50,603.98 853.50,603.97 855.50,603.97 C857.50,603.96 859.50,603.96 861.50,603.95 C863.50,603.95 865.50,603.95 867.50,603.96 C869.50,603.96 871.50,603.97 873.50,603.97 C875.50,603.98 877.50,603.99 879.50,604.01 C881.50,604.02 883.50,604.03 885.50,604.05 C887.50,604.07 889.50,604.09 891.50,604.11 C893.50,604.14 895.50,604.16 897.50,604.19 C899.50,604.22 901.50,604.25 903.50,604.28 C905.50,604.32 907.50,604.35 909.50,604.39 C911.50,604.43 913.50,604.47 915.50,604.52 C917.50,604.56 919.50,604.61 921.50,604.66 C923.50,604.71 925.50,604.76 927.50,604.82 C929.50,604.88 931.50,604.94 933.50,605.00 C935.50,605.07 937.50,605.13 939.50,605.20 C941.50,605.27 943.50,605.35 945.50,605.42 C947.50,605.50 949.50,605.58 951.50,605.67 C953.50,605.75 955.50,605.84 957.50,605.93 C959.50,606.02 961.50,606.12 963.50,606.22 C965.50,606.32 967.50,606.42 969.50,606.53 C971.50,606.64 973.50,606.75 975.50,606.87 C977.50,606.99 979.50,607.11 981.50,607.24 C983.50,607.36 985.50,607.49 987.50,607.63 C989.50,607.77 991.50,607.91 993.50,608.05 C995.50,608.20 997.50,608.35 999.50,608.51 C1001.50,608.66 1003.50,608.83 1005.50,608.99 C1007.50,609.16 1009.50,609.33 1011.50,609.51 C1013.50,609.69 1015.50,609.88 1017.50,610.07 C1019.50,610.26 1021.50,610.46 1023.50,610.66 C1025.50,610.87 1027.50,611.08 1029.50,611.29 C1031.50,611.51 1033.50,611.73 1035.50,611.96 C1037.50,612.20 1039.50,612.43 1041.50,612.68 C1043.50,612.92 1045.50,613.18 1047.50,613.44 C1049.50,613.70 1051.50,613.97 1053.50,614.24 C1055.50,614.52 1057.50,614.80 1059.50,615.10 C1061.50,615.39 1063.50,615.69 1065.50,616.00 C1067.50,616.31 1069.50,616.63 1071.50,616.96 C1073.50,617.29 1075.50,617.62 1077.50,617.97 C1079.50,618.32 1081.50,618.67 1083.50,619.04 C1085.50,619.41 1087.50,619.78 1089.50,620.17 C1091.50,620.56 1093.50,620.96 1095.50,621.37 C1097.50,621.77 1099.50,622.19 1101.50,622.63 C1103.50,623.06 1105.50,623.50 1107.50,623.95 C1109.50,624.41 1111.50,624.87 1113.50,625.35 C1115.50,625.83 1117.50,626.32 1119.50,626.82 C1121.50,627.33 1123.50,627.84 1125.50,628.37 C1127.50,628.90 1129.50,629.45 1131.50,630.00 C1133.50,630.56 1135.50,631.13 1137.50,631.72 C1139.50,632.30 1141.50,632.90 1143.50,633.52 C1145.50,634.13 1147.75,634.85 1149.50,635.41 C1151.25,635.97 1153.25,636.64 1154.00,636.89" fill="none" stroke="#f61008" stroke-width="1.2"/>
<text class="t" x="166.2" y="598.6" font-size="17">×</text><text class="t" x="183.3" y="597.2">10</text><text class="t" x="211.6" y="589" font-size="14">4</text>
<path d="M165.0,879.0 L165.7,879.9 L166.4,879.7 L167.1,879.9 L167.8,879.3 L168.5,878.9 L169.2,878.6 L169.9,877.0 L170.6,880.1 L171.3,879.8 L172.0,879.1 L172.7,877.7 L173.4,878.9 L174.1,880.2 L174.8,876.6 L175.5,879.4 L176.2,879.2 L176.9,880.4 L177.6,879.3 L178.3,880.5 L179.0,880.3 L179.7,878.7 L180.4,877.9 L181.1,880.3 L181.8,879.3 L182.5,879.6 L183.2,880.8 L183.9,879.4 L184.6,879.8 L185.3,879.5 L186.0,880.7 L186.7,879.9 L187.4,880.9 L188.1,880.8 L188.8,880.6 L189.5,879.7 L190.2,880.9 L190.9,879.8 L191.6,878.5 L192.3,880.3 L193.0,880.8 L193.7,878.5 L194.4,880.0 L195.1,880.0 L195.8,879.5 L196.5,880.0 L197.2,879.9 L197.9,881.0 L198.6,878.3 L199.3,880.4 L200.0,876.9 L200.7,881.2 L201.4,880.1 L202.1,880.5 L202.8,877.1 L203.5,876.7 L204.2,881.4 L204.9,880.9 L205.6,880.5 L206.3,881.4 L207.0,881.6 L207.7,880.9 L208.4,881.1 L209.1,881.2 L209.8,881.0 L210.5,881.4 L211.2,881.8 L211.9,878.1 L212.6,880.6 L213.3,881.2 L214.0,881.3 L214.7,880.7 L215.4,880.8 L216.1,881.8 L216.8,878.2 L217.5,878.9 L218.2,881.9 L218.9,880.8 L219.6,879.7 L220.3,878.7 L221.0,882.3 L221.7,882.3 L222.4,882.2 L223.1,881.1 L223.8,881.2 L224.5,879.6 L225.2,879.1 L225.9,879.4 L226.6,882.2 L227.3,881.8 L228.0,881.8 L228.7,882.4 L229.4,881.5 L230.1,882.2 L230.8,881.7 L231.5,878.1 L232.2,882.1 L232.9,881.8 L233.6,881.8 L234.3,882.9 L235.0,881.7 L235.7,878.7 L236.4,882.6 L237.1,881.8 L237.8,882.8 L238.5,883.2 L239.2,882.9 L239.9,882.8 L240.6,881.8 L241.3,882.2 L242.0,882.8 L242.7,882.3 L243.4,879.0 L244.1,883.3 L244.8,882.3 L245.5,882.5 L246.2,882.9 L246.9,880.8 L247.6,882.9 L248.3,883.0 L249.0,882.6 L249.7,880.1 L250.4,883.1 L251.1,882.7 L251.8,883.7 L252.5,883.1 L253.2,880.6 L253.9,883.2 L254.6,882.7 L255.3,884.1 L256.0,883.5 L256.7,883.1 L257.4,879.4 L258.1,882.9 L258.8,881.9 L259.5,882.1 L260.2,882.8 L260.9,880.2 L261.6,883.1 L262.3,883.0 L263.0,884.1 L263.7,883.1 L264.4,882.0 L265.1,883.3 L265.8,883.3 L266.5,883.6 L267.2,884.3 L267.9,884.1 L268.6,883.4 L269.3,884.0 L270.0,883.9 L270.7,883.6 L271.4,884.7 L272.1,884.7 L272.8,883.9 L273.5,884.5 L274.2,880.3 L274.9,883.9 L275.6,884.6 L276.3,883.9 L277.0,880.8 L277.7,884.7 L278.4,883.9 L279.1,882.8 L279.8,884.5 L280.5,885.4 L281.2,882.3 L281.9,882.4 L282.6,883.0 L283.3,884.7 L284.0,884.2 L284.7,885.4 L285.4,885.3 L286.1,885.2 L286.8,885.5 L287.5,884.8 L288.2,885.1 L288.9,884.7 L289.6,884.5 L290.3,885.7 L291.0,885.8 L291.7,885.4 L292.4,881.7 L293.1,884.8 L293.8,882.5 L294.5,885.7 L295.2,884.9 L295.9,884.9 L296.6,885.2 L297.3,884.6 L298.0,882.0 L298.7,885.4 L299.4,882.0 L300.1,886.2 L300.8,886.3 L301.5,886.8 L302.2,885.4 L302.9,882.1 L303.6,886.3 L304.3,885.7 L305.0,886.1 L305.7,885.9 L306.4,885.9 L307.1,885.5 L307.8,886.8 L308.5,883.7 L309.2,884.2 L309.9,886.3 L310.6,886.5 L311.3,887.0 L312.0,884.6 L312.7,886.7 L313.4,886.1 L314.1,886.3 L314.8,887.1 L315.5,886.3 L316.2,887.4 L316.9,886.9 L317.6,887.1 L318.3,886.9 L319.0,884.5 L319.7,886.8 L320.4,886.0 L321.1,887.8 L321.8,887.7 L322.5,887.6 L323.2,887.7 L323.9,888.2 L324.6,887.7 L325.3,888.3 L326.0,888.3 L326.7,888.2 L327.4,888.3 L328.1,888.2 L328.8,887.9 L329.5,887.3 L330.2,887.5 L330.9,887.5 L331.6,886.2 L332.3,885.2 L333.0,885.1 L333.7,888.0 L334.4,888.3 L335.1,888.3 L335.8,886.6 L336.5,888.4 L337.2,888.9 L337.9,886.6 L338.6,888.1 L339.3,888.5 L340.0,888.0 L340.7,889.1 L341.4,888.0 L342.1,889.4 L342.8,888.2 L343.5,888.8 L344.2,887.1 L344.9,888.8 L345.6,889.4 L346.3,886.6 L347.0,888.9 L347.7,886.7 L348.4,888.4 L349.1,889.3 L349.8,888.7 L350.5,889.1 L351.2,890.0 L351.9,889.3 L352.6,886.9 L353.3,889.7 L354.0,887.3 L354.7,890.1 L355.4,889.9 L356.1,889.8 L356.8,887.6 L357.5,889.1 L358.2,890.3 L358.9,890.5 L359.6,885.9 L360.3,888.1 L361.0,890.2 L361.7,886.8 L362.4,887.0 L363.1,890.5 L363.8,889.2 L364.5,889.8 L365.2,889.8 L365.9,889.5 L366.6,890.7 L367.3,890.0 L368.0,890.8 L368.7,890.2 L369.4,890.2 L370.1,890.4 L370.8,890.9 L371.5,890.8 L372.2,891.4 L372.9,890.4 L373.6,889.7 L374.3,891.4 L375.0,891.4 L375.7,887.4 L376.4,890.7 L377.1,887.9 L377.8,891.7 L378.5,891.2 L379.2,890.6 L379.9,889.7 L380.6,891.1 L381.3,890.7 L382.0,888.2 L382.7,889.6 L383.4,890.4 L384.1,891.7 L384.8,892.0 L385.5,888.7 L386.2,891.7 L386.9,891.0 L387.6,887.9 L388.3,892.1 L389.0,891.3 L389.7,892.3 L390.4,892.3 L391.1,892.4 L391.8,892.3 L392.5,892.4 L393.2,890.1 L393.9,891.3 L394.6,892.3 L395.3,891.8 L396.0,892.4 L396.7,892.3 L397.4,892.0 L398.1,891.0 L398.8,892.2 L399.5,892.0 L400.2,891.9 L400.9,892.7 L401.6,889.3 L402.3,892.7 L403.0,892.3 L403.7,889.5 L404.4,893.4 L405.1,888.8 L405.8,890.8 L406.5,892.3 L407.2,893.3 L407.9,893.5 L408.6,893.3 L409.3,891.6 L410.0,893.4 L410.7,893.5 L411.4,893.7 L412.1,893.2 L412.8,892.2 L413.5,893.3 L414.2,892.8 L414.9,893.5 L415.6,894.0 L416.3,893.4 L417.0,892.8 L417.7,893.6 L418.4,893.4 L419.1,893.5 L419.8,893.2 L420.5,891.5 L421.2,892.9 L421.9,892.0 L422.6,892.6 L423.3,892.2 L424.0,892.4 L424.7,891.9 L425.4,891.7 L426.1,890.0 L426.8,891.7 L427.5,891.2 L428.2,888.7 L428.9,891.2 L429.6,890.8 L430.3,891.2 L431.0,891.3 L431.7,890.3 L432.4,890.7 L433.1,890.3 L433.8,890.8 L434.5,891.0 L435.2,890.9 L435.9,886.3 L436.6,889.4 L437.3,889.6 L438.0,889.6 L438.7,890.2 L439.4,889.4 L440.1,889.4 L440.8,889.6 L441.5,889.8 L442.2,885.7 L442.9,889.5 L443.6,887.9 L444.3,888.3 L445.0,889.0 L445.7,888.5 L446.4,885.1 L447.1,888.5 L447.8,887.3 L448.5,887.6 L449.2,887.0 L449.9,883.8 L450.6,887.5 L451.3,887.0 L452.0,887.2 L452.7,886.3 L453.4,885.7 L454.1,886.9 L454.8,886.3 L455.5,885.7 L456.2,885.9 L456.9,885.1 L457.6,884.0 L458.3,885.9 L459.0,884.9 L459.7,884.6 L460.4,884.6 L461.1,880.6 L461.8,884.4 L462.5,883.7 L463.2,880.9 L463.9,883.2 L464.6,884.0 L465.3,882.3 L466.0,883.7 L466.7,883.6 L467.4,882.6 L468.1,883.3 L468.8,882.3 L469.5,881.5 L470.2,882.4 L470.9,882.1 L471.6,881.7 L472.3,881.3 L473.0,880.7 L473.7,880.8 L474.4,880.1 L475.1,880.1 L475.8,879.9 L476.5,880.0 L477.2,877.0 L477.9,879.7 L478.6,879.1 L479.3,879.9 L480.0,878.9 L480.7,878.7 L481.4,879.4 L482.1,875.2 L482.8,878.0 L483.5,878.7 L484.2,878.6 L484.9,878.4 L485.6,878.2 L486.3,878.1 L487.0,874.7 L487.7,877.5 L488.4,876.2 L489.1,873.0 L489.8,875.8 L490.5,876.9 L491.2,876.7 L491.9,876.0 L492.6,873.1 L493.3,873.5 L494.0,875.4 L494.7,875.9 L495.4,875.0 L496.1,874.7 L496.8,874.4 L497.5,875.3 L498.2,874.9 L498.9,873.1 L499.6,871.1 L500.3,874.4 L501.0,870.1 L501.7,873.9 L502.4,874.3 L503.1,874.4 L503.8,874.2 L504.5,873.1 L505.2,873.9 L505.9,873.4 L506.6,872.8 L507.3,869.8 L508.0,872.8 L508.7,872.6 L509.4,872.7 L510.1,871.7 L510.8,872.7 L511.5,872.2 L512.2,871.7 L512.9,872.4 L513.6,871.0 L514.3,871.1 L515.0,871.4 L515.7,871.4 L516.4,870.9 L517.1,872.2 L517.8,871.9 L518.5,872.1 L519.2,871.8 L519.9,868.0 L520.6,871.9 L521.3,871.3 L522.0,871.8 L522.7,872.1 L523.4,871.3 L524.1,871.7 L524.8,867.7 L525.5,869.9 L526.2,867.2 L526.9,870.3 L527.6,870.8 L528.3,870.8 L529.0,870.6 L529.7,870.8 L530.4,871.1 L531.1,871.0 L531.8,870.8 L532.5,871.4 L533.2,871.4 L533.9,871.5 L534.6,871.0 L535.3,871.1 L536.0,872.7 L536.7,871.4 L537.4,872.2 L538.1,872.6 L538.8,872.2 L539.5,871.4 L540.2,872.1 L540.9,872.2 L541.6,873.6 L542.3,873.2 L543.0,872.9 L543.7,874.0 L544.4,874.1 L545.1,874.0 L545.8,874.1 L546.5,874.9 L547.2,874.0 L547.9,874.8 L548.6,874.4 L549.3,871.7 L550.0,873.0 L550.7,875.7 L551.4,874.8 L552.1,875.6 L552.8,875.5 L553.5,873.4 L554.2,876.1 L554.9,876.2 L555.6,875.9 L556.3,876.6 L557.0,876.6 L557.7,876.9 L558.4,875.9 L559.1,876.7 L559.8,877.5 L560.5,877.5 L561.2,874.6 L561.9,877.6 L562.6,877.6 L563.3,877.9 L564.0,878.3 L564.7,878.1 L565.4,877.7 L566.1,878.3 L566.8,878.7 L567.5,879.0 L568.2,879.2 L568.9,878.4 L569.6,878.4 L570.3,880.0 L571.0,879.2 L571.7,879.5 L572.4,880.9 L573.1,880.6 L573.8,880.1 L574.5,881.4 L575.2,881.8 L575.9,880.5 L576.6,879.0 L577.3,881.3 L578.0,882.1 L578.7,882.4 L579.4,882.9 L580.1,882.2 L580.8,882.4 L581.5,883.2 L582.2,882.4 L582.9,883.1 L583.6,882.1 L584.3,883.3 L585.0,884.2 L585.7,884.0 L586.4,882.9 L587.1,884.1 L587.8,882.8 L588.5,885.1 L589.2,884.1 L589.9,885.7 L590.6,885.0 L591.3,884.6 L592.0,885.6 L592.7,886.3 L593.4,886.9 L594.1,887.1 L594.8,887.2 L595.5,886.8 L596.2,886.8 L596.9,887.6 L597.6,884.0 L598.3,884.2 L599.0,884.4 L599.7,887.6 L600.4,888.4 L601.1,886.4 L601.8,888.0 L602.5,889.4 L603.2,888.8 L603.9,889.9 L604.6,889.1 L605.3,889.2 L606.0,889.8 L606.7,889.8 L607.4,890.6 L608.1,890.9 L608.8,889.9 L609.5,890.2 L610.2,890.8 L610.9,890.6 L611.6,891.7 L612.3,889.0 L613.0,890.8 L613.7,892.0 L614.4,888.6 L615.1,892.2 L615.8,893.0 L616.5,893.5 L617.2,893.8 L617.9,893.9 L618.6,893.6 L619.3,893.4 L620.0,894.6 L620.7,895.7 L621.4,895.3 L622.1,895.4 L622.8,895.7 L623.5,895.7 L624.2,897.5 L624.9,897.0 L625.6,897.5 L626.3,895.3 L627.0,894.8 L627.7,898.8 L628.4,898.2 L629.1,898.7 L629.8,898.9 L630.5,899.8 L631.2,900.5 L631.9,900.3 L632.6,899.9 L633.3,900.3 L634.0,901.3 L634.7,901.2 L635.4,900.3 L636.1,902.1 L636.8,901.9 L637.5,901.7 L638.2,901.9 L638.9,902.0 L639.6,901.9 L640.3,902.8 L640.3,917.8 L639.6,917.8 L638.9,917.2 L638.2,920.0 L637.5,917.4 L636.8,916.5 L636.1,915.8 L635.4,915.4 L634.7,915.7 L634.0,916.8 L633.3,916.2 L632.6,915.6 L631.9,914.7 L631.2,918.4 L630.5,918.5 L629.8,913.9 L629.1,916.3 L628.4,914.4 L627.7,917.1 L627.0,913.7 L626.3,912.9 L625.6,916.2 L624.9,912.0 L624.2,912.2 L623.5,912.5 L622.8,912.4 L622.1,911.7 L621.4,911.0 L620.7,912.1 L620.0,910.1 L619.3,909.9 L618.6,913.0 L617.9,910.2 L617.2,909.2 L616.5,909.3 L615.8,909.1 L615.1,908.1 L614.4,910.4 L613.7,908.0 L613.0,908.1 L612.3,909.2 L611.6,908.1 L610.9,907.3 L610.2,909.4 L609.5,907.1 L608.8,907.4 L608.1,905.9 L607.4,907.8 L606.7,906.6 L606.0,905.8 L605.3,905.6 L604.6,904.8 L603.9,904.7 L603.2,905.2 L602.5,904.6 L601.8,905.4 L601.1,906.9 L600.4,904.8 L599.7,905.0 L599.0,904.3 L598.3,904.4 L597.6,903.2 L596.9,902.8 L596.2,903.8 L595.5,902.2 L594.8,902.7 L594.1,902.9 L593.4,901.6 L592.7,903.7 L592.0,902.2 L591.3,901.3 L590.6,902.0 L589.9,901.6 L589.2,901.6 L588.5,901.5 L587.8,902.2 L587.1,903.1 L586.4,899.9 L585.7,899.9 L585.0,900.1 L584.3,899.4 L583.6,899.8 L582.9,899.5 L582.2,899.7 L581.5,898.7 L580.8,900.4 L580.1,899.6 L579.4,898.5 L578.7,898.0 L578.0,897.8 L577.3,898.0 L576.6,897.8 L575.9,899.2 L575.2,897.2 L574.5,901.6 L573.8,898.6 L573.1,897.7 L572.4,897.6 L571.7,897.7 L571.0,896.9 L570.3,897.2 L569.6,896.7 L568.9,896.8 L568.2,895.8 L567.5,896.5 L566.8,898.0 L566.1,896.2 L565.4,895.9 L564.7,895.5 L564.0,896.1 L563.3,898.2 L562.6,898.6 L561.9,894.6 L561.2,895.7 L560.5,895.2 L559.8,897.7 L559.1,895.3 L558.4,894.6 L557.7,893.2 L557.0,897.2 L556.3,893.2 L555.6,893.8 L554.9,893.5 L554.2,892.0 L553.5,893.2 L552.8,892.2 L552.1,892.7 L551.4,891.7 L550.7,891.0 L550.0,894.9 L549.3,891.1 L548.6,891.0 L547.9,891.1 L547.2,890.3 L546.5,890.2 L545.8,893.5 L545.1,890.9 L544.4,889.4 L543.7,889.4 L543.0,890.2 L542.3,888.7 L541.6,888.8 L540.9,888.7 L540.2,888.7 L539.5,888.7 L538.8,888.5 L538.1,888.5 L537.4,888.3 L536.7,888.5 L536.0,887.3 L535.3,887.5 L534.6,888.7 L533.9,887.8 L533.2,887.5 L532.5,887.2 L531.8,887.1 L531.1,887.3 L530.4,887.4 L529.7,889.8 L529.0,887.1 L528.3,887.7 L527.6,887.8 L526.9,888.1 L526.2,890.8 L525.5,888.3 L524.8,889.4 L524.1,888.5 L523.4,889.8 L522.7,888.0 L522.0,890.0 L521.3,888.2 L520.6,888.7 L519.9,888.6 L519.2,888.1 L518.5,888.4 L517.8,888.5 L517.1,888.8 L516.4,888.4 L515.7,888.4 L515.0,888.5 L514.3,888.2 L513.6,889.1 L512.9,888.4 L512.2,888.4 L511.5,889.0 L510.8,889.3 L510.1,890.0 L509.4,889.3 L508.7,890.3 L508.0,889.7 L507.3,889.4 L506.6,893.6 L505.9,889.6 L505.2,889.7 L504.5,889.8 L503.8,892.8 L503.1,890.1 L502.4,890.6 L501.7,890.2 L501.0,891.0 L500.3,891.6 L499.6,891.9 L498.9,891.5 L498.2,893.8 L497.5,892.2 L496.8,893.4 L496.1,892.5 L495.4,891.4 L494.7,891.5 L494.0,895.1 L493.3,894.2 L492.6,892.1 L491.9,892.6 L491.2,892.7 L490.5,892.2 L489.8,892.4 L489.1,892.6 L488.4,894.1 L487.7,893.2 L487.0,893.4 L486.3,894.7 L485.6,894.1 L484.9,894.0 L484.2,895.0 L483.5,894.2 L482.8,894.8 L482.1,895.2 L481.4,895.1 L480.7,896.0 L480.0,895.7 L479.3,895.7 L478.6,895.3 L477.9,896.4 L477.2,900.2 L476.5,897.1 L475.8,895.9 L475.1,897.7 L474.4,901.1 L473.7,896.9 L473.0,897.3 L472.3,898.6 L471.6,898.3 L470.9,897.3 L470.2,897.2 L469.5,898.5 L468.8,897.9 L468.1,902.6 L467.4,899.6 L466.7,899.0 L466.0,898.3 L465.3,899.2 L464.6,898.8 L463.9,899.5 L463.2,899.3 L462.5,899.8 L461.8,899.6 L461.1,899.8 L460.4,903.6 L459.7,901.1 L459.0,900.3 L458.3,901.2 L457.6,901.0 L456.9,900.7 L456.2,901.4 L455.5,901.0 L454.8,901.6 L454.1,902.3 L453.4,902.1 L452.7,901.7 L452.0,902.4 L451.3,904.3 L450.6,902.8 L449.9,901.8 L449.2,901.8 L448.5,903.4 L447.8,902.2 L447.1,906.1 L446.4,903.6 L445.7,903.8 L445.0,906.1 L444.3,903.9 L443.6,903.7 L442.9,903.7 L442.2,906.1 L441.5,904.2 L440.8,904.2 L440.1,904.0 L439.4,904.3 L438.7,904.0 L438.0,906.2 L437.3,904.9 L436.6,905.0 L435.9,907.2 L435.2,904.7 L434.5,905.4 L433.8,905.3 L433.1,905.7 L432.4,905.0 L431.7,905.1 L431.0,905.4 L430.3,905.6 L429.6,908.1 L428.9,905.7 L428.2,906.5 L427.5,908.4 L426.8,905.9 L426.1,906.2 L425.4,906.7 L424.7,906.2 L424.0,905.8 L423.3,907.0 L422.6,906.8 L421.9,907.2 L421.2,907.3 L420.5,906.3 L419.8,906.3 L419.1,911.0 L418.4,907.5 L417.7,907.6 L417.0,907.0 L416.3,908.9 L415.6,910.2 L414.9,907.1 L414.2,908.4 L413.5,907.1 L412.8,907.6 L412.1,907.4 L411.4,910.4 L410.7,907.7 L410.0,907.6 L409.3,907.5 L408.6,908.4 L407.9,907.9 L407.2,907.4 L406.5,907.1 L405.8,907.4 L405.1,907.0 L404.4,907.1 L403.7,906.8 L403.0,907.6 L402.3,906.8 L401.6,907.2 L400.9,907.0 L400.2,907.1 L399.5,910.4 L398.8,907.1 L398.1,907.1 L397.4,906.6 L396.7,909.9 L396.0,906.2 L395.3,906.5 L394.6,906.4 L393.9,909.4 L393.2,906.0 L392.5,906.0 L391.8,907.2 L391.1,906.4 L390.4,906.3 L389.7,906.9 L389.0,906.5 L388.3,906.2 L387.6,906.3 L386.9,905.6 L386.2,906.0 L385.5,906.6 L384.8,906.3 L384.1,905.7 L383.4,906.6 L382.7,906.5 L382.0,910.2 L381.3,906.1 L380.6,905.5 L379.9,906.3 L379.2,906.1 L378.5,905.6 L377.8,905.5 L377.1,906.1 L376.4,905.4 L375.7,909.0 L375.0,905.3 L374.3,906.2 L373.6,906.1 L372.9,906.0 L372.2,905.0 L371.5,909.4 L370.8,906.1 L370.1,905.2 L369.4,906.0 L368.7,906.1 L368.0,906.0 L367.3,905.1 L366.6,905.8 L365.9,904.9 L365.2,905.3 L364.5,904.9 L363.8,908.2 L363.1,904.6 L362.4,905.1 L361.7,905.4 L361.0,905.8 L360.3,905.3 L359.6,904.5 L358.9,908.1 L358.2,905.0 L357.5,905.3 L356.8,904.7 L356.1,904.5 L355.4,907.3 L354.7,905.5 L354.0,904.3 L353.3,904.5 L352.6,904.1 L351.9,905.3 L351.2,904.7 L350.5,904.9 L349.8,905.1 L349.1,904.1 L348.4,904.7 L347.7,904.3 L347.0,905.0 L346.3,904.2 L345.6,904.8 L344.9,908.3 L344.2,904.1 L343.5,908.2 L342.8,904.9 L342.1,904.0 L341.4,903.7 L340.7,904.9 L340.0,908.4 L339.3,905.3 L338.6,907.2 L337.9,903.4 L337.2,905.4 L336.5,903.5 L335.8,903.6 L335.1,903.8 L334.4,904.0 L333.7,905.9 L333.0,903.1 L332.3,907.5 L331.6,903.6 L330.9,903.2 L330.2,904.0 L329.5,903.8 L328.8,903.0 L328.1,903.0 L327.4,903.5 L326.7,903.2 L326.0,903.7 L325.3,905.5 L324.6,904.0 L323.9,907.1 L323.2,902.9 L322.5,903.2 L321.8,904.0 L321.1,906.0 L320.4,905.2 L319.7,905.2 L319.0,902.7 L318.3,902.7 L317.6,902.7 L316.9,905.4 L316.2,903.4 L315.5,902.8 L314.8,902.5 L314.1,903.6 L313.4,902.3 L312.7,902.5 L312.0,902.6 L311.3,903.3 L310.6,902.6 L309.9,902.2 L309.2,903.0 L308.5,902.6 L307.8,902.0 L307.1,903.3 L306.4,901.9 L305.7,901.9 L305.0,902.2 L304.3,905.4 L303.6,902.4 L302.9,903.1 L302.2,901.7 L301.5,902.7 L300.8,902.6 L300.1,901.9 L299.4,902.8 L298.7,901.5 L298.0,901.5 L297.3,902.8 L296.6,902.0 L295.9,902.4 L295.2,903.1 L294.5,901.8 L293.8,901.3 L293.1,901.7 L292.4,902.5 L291.7,901.2 L291.0,901.7 L290.3,903.1 L289.6,902.5 L288.9,901.4 L288.2,901.3 L287.5,901.3 L286.8,901.0 L286.1,901.3 L285.4,900.9 L284.7,901.2 L284.0,901.8 L283.3,900.9 L282.6,903.7 L281.9,901.8 L281.2,901.2 L280.5,901.9 L279.8,901.8 L279.1,904.1 L278.4,901.0 L277.7,905.3 L277.0,901.3 L276.3,900.6 L275.6,902.8 L274.9,900.8 L274.2,900.7 L273.5,901.0 L272.8,901.1 L272.1,901.7 L271.4,900.8 L270.7,905.4 L270.0,904.9 L269.3,900.9 L268.6,900.7 L267.9,902.0 L267.2,900.3 L266.5,902.5 L265.8,901.0 L265.1,901.4 L264.4,900.4 L263.7,901.5 L263.0,900.2 L262.3,901.0 L261.6,900.5 L260.9,900.2 L260.2,901.3 L259.5,900.4 L258.8,900.0 L258.1,901.0 L257.4,900.1 L256.7,900.7 L256.0,900.3 L255.3,900.5 L254.6,900.8 L253.9,900.5 L253.2,900.8 L252.5,899.7 L251.8,901.0 L251.1,900.6 L250.4,900.2 L249.7,899.9 L249.0,900.9 L248.3,900.4 L247.6,899.6 L246.9,900.5 L246.2,901.3 L245.5,900.5 L244.8,900.7 L244.1,900.2 L243.4,900.3 L242.7,902.6 L242.0,899.8 L241.3,900.3 L240.6,900.5 L239.9,899.9 L239.2,900.0 L238.5,899.8 L237.8,900.7 L237.1,900.6 L236.4,901.5 L235.7,900.1 L235.0,899.4 L234.3,899.3 L233.6,900.0 L232.9,900.5 L232.2,900.3 L231.5,899.1 L230.8,901.7 L230.1,899.0 L229.4,899.4 L228.7,899.9 L228.0,900.1 L227.3,900.3 L226.6,900.2 L225.9,900.0 L225.2,901.0 L224.5,899.9 L223.8,899.2 L223.1,899.0 L222.4,899.2 L221.7,900.2 L221.0,899.2 L220.3,898.7 L219.6,899.2 L218.9,899.9 L218.2,900.1 L217.5,898.9 L216.8,900.0 L216.1,899.0 L215.4,898.8 L214.7,899.0 L214.0,900.0 L213.3,899.6 L212.6,899.2 L211.9,899.3 L211.2,899.4 L210.5,899.3 L209.8,899.2 L209.1,899.4 L208.4,899.3 L207.7,899.8 L207.0,899.8 L206.3,899.3 L205.6,898.7 L204.9,899.8 L204.2,898.4 L203.5,899.3 L202.8,902.4 L202.1,898.6 L201.4,898.9 L200.7,899.5 L200.0,899.4 L199.3,899.5 L198.6,902.7 L197.9,898.6 L197.2,899.7 L196.5,899.2 L195.8,898.2 L195.1,899.3 L194.4,903.1 L193.7,899.3 L193.0,898.7 L192.3,903.0 L191.6,898.3 L190.9,898.3 L190.2,898.2 L189.5,903.0 L188.8,899.8 L188.1,899.3 L187.4,898.8 L186.7,898.8 L186.0,898.9 L185.3,899.1 L184.6,898.0 L183.9,899.0 L183.2,898.5 L182.5,900.3 L181.8,898.1 L181.1,898.5 L180.4,899.2 L179.7,902.2 L179.0,901.7 L178.3,898.5 L177.6,898.2 L176.9,898.8 L176.2,899.2 L175.5,898.6 L174.8,898.6 L174.1,898.4 L173.4,897.9 L172.7,899.0 L172.0,898.7 L171.3,898.5 L170.6,898.7 L169.9,898.2 L169.2,901.7 L168.5,899.0 L167.8,898.2 L167.1,897.9 L166.4,897.7 L165.7,898.3 L165.0,897.9Z" fill="#0000ff"/>
<path d="M165.0,884.2 L165.7,884.8 L166.4,884.4 L167.1,883.8 L167.8,883.5 L168.5,884.7 L169.2,884.2 L169.9,884.1 L170.6,883.2 L171.3,884.6 L172.0,882.3 L172.7,884.8 L173.4,884.6 L174.1,884.4 L174.8,884.5 L175.5,884.7 L176.2,882.4 L176.9,884.8 L177.6,884.5 L178.3,885.0 L179.0,884.6 L179.7,884.3 L180.4,884.6 L181.1,885.0 L181.8,884.4 L182.5,884.7 L183.2,884.5 L183.9,884.5 L184.6,884.8 L185.3,885.1 L186.0,884.6 L186.7,884.6 L187.4,885.1 L188.1,884.5 L188.8,883.1 L189.5,883.0 L190.2,884.8 L190.9,885.1 L191.6,885.2 L192.3,885.3 L193.0,884.6 L193.7,884.6 L194.4,883.2 L195.1,885.3 L195.8,882.9 L196.5,885.2 L197.2,885.4 L197.9,885.0 L198.6,884.5 L199.3,884.8 L200.0,885.5 L200.7,885.1 L201.4,883.6 L202.1,885.0 L202.8,885.4 L203.5,885.2 L204.2,885.6 L204.9,885.6 L205.6,885.2 L206.3,884.2 L207.0,884.9 L207.7,883.1 L208.4,885.5 L209.1,884.5 L209.8,885.2 L210.5,885.2 L211.2,885.5 L211.9,885.5 L212.6,885.0 L213.3,885.6 L214.0,885.7 L214.7,885.1 L215.4,885.3 L216.1,885.9 L216.8,885.4 L217.5,883.7 L218.2,885.5 L218.9,885.4 L219.6,885.2 L220.3,885.6 L221.0,883.3 L221.7,885.3 L222.4,884.7 L223.1,885.3 L223.8,885.4 L224.5,885.8 L225.2,885.7 L225.9,885.5 L226.6,885.5 L227.3,885.7 L228.0,885.8 L228.7,886.0 L229.4,885.9 L230.1,885.7 L230.8,883.9 L231.5,885.9 L232.2,885.9 L232.9,886.0 L233.6,885.5 L234.3,886.1 L235.0,885.9 L235.7,886.4 L236.4,885.7 L237.1,886.1 L237.8,885.9 L238.5,885.9 L239.2,886.5 L239.9,886.3 L240.6,886.6 L241.3,886.6 L242.0,885.8 L242.7,886.4 L243.4,885.9 L244.1,886.0 L244.8,886.7 L245.5,886.0 L246.2,885.2 L246.9,886.3 L247.6,886.0 L248.3,885.3 L249.0,886.7 L249.7,886.2 L250.4,886.6 L251.1,885.1 L251.8,886.5 L252.5,886.3 L253.2,886.8 L253.9,886.3 L254.6,884.7 L255.3,886.9 L256.0,887.1 L256.7,886.3 L257.4,886.7 L258.1,886.5 L258.8,886.9 L259.5,887.1 L260.2,885.1 L260.9,886.6 L261.6,886.5 L262.3,886.7 L263.0,887.0 L263.7,887.3 L264.4,886.7 L265.1,886.9 L265.8,886.9 L266.5,887.3 L267.2,886.7 L267.9,887.1 L268.6,887.6 L269.3,887.2 L270.0,887.0 L270.7,886.7 L271.4,887.6 L272.1,887.3 L272.8,887.3 L273.5,887.6 L274.2,887.1 L274.9,887.8 L275.6,887.3 L276.3,887.4 L277.0,886.3 L277.7,887.4 L278.4,887.3 L279.1,885.0 L279.8,887.3 L280.5,887.2 L281.2,887.7 L281.9,886.0 L282.6,887.9 L283.3,887.2 L284.0,887.4 L284.7,888.0 L285.4,888.1 L286.1,887.3 L286.8,887.5 L287.5,887.5 L288.2,887.5 L288.9,887.4 L289.6,887.5 L290.3,888.2 L291.0,888.0 L291.7,888.1 L292.4,887.6 L293.1,887.9 L293.8,887.8 L294.5,888.5 L295.2,888.0 L295.9,888.3 L296.6,888.6 L297.3,888.1 L298.0,888.6 L298.7,885.9 L299.4,887.0 L300.1,888.0 L300.8,888.1 L301.5,888.7 L302.2,888.7 L302.9,886.4 L303.6,888.2 L304.3,887.7 L305.0,888.5 L305.7,888.3 L306.4,889.1 L307.1,888.7 L307.8,888.5 L308.5,888.4 L309.2,887.5 L309.9,888.7 L310.6,888.8 L311.3,888.6 L312.0,888.7 L312.7,888.9 L313.4,889.3 L314.1,888.8 L314.8,889.2 L315.5,889.4 L316.2,889.3 L316.9,888.4 L317.6,889.5 L318.3,889.1 L319.0,889.0 L319.7,889.1 L320.4,889.3 L321.1,889.1 L321.8,889.5 L322.5,889.8 L323.2,889.5 L323.9,888.0 L324.6,889.3 L325.3,889.7 L326.0,889.9 L326.7,889.5 L327.4,889.9 L328.1,889.5 L328.8,889.9 L329.5,890.1 L330.2,889.4 L330.9,889.7 L331.6,888.2 L332.3,889.8 L333.0,890.2 L333.7,889.7 L334.4,889.7 L335.1,890.1 L335.8,888.8 L336.5,890.2 L337.2,890.3 L337.9,890.0 L338.6,890.6 L339.3,889.4 L340.0,890.2 L340.7,890.5 L341.4,889.9 L342.1,890.4 L342.8,890.2 L343.5,890.5 L344.2,889.3 L344.9,890.3 L345.6,890.1 L346.3,890.3 L347.0,891.0 L347.7,890.8 L348.4,888.1 L349.1,890.1 L349.8,891.1 L350.5,889.8 L351.2,890.8 L351.9,889.6 L352.6,891.2 L353.3,890.4 L354.0,890.6 L354.7,890.7 L355.4,890.7 L356.1,890.6 L356.8,889.6 L357.5,891.3 L358.2,891.4 L358.9,890.2 L359.6,891.2 L360.3,891.2 L361.0,891.4 L361.7,891.5 L362.4,891.5 L363.1,889.4 L363.8,891.7 L364.5,891.8 L365.2,891.2 L365.9,891.0 L366.6,889.6 L367.3,891.8 L368.0,891.6 L368.7,892.0 L369.4,891.6 L370.1,892.0 L370.8,891.7 L371.5,891.4 L372.2,891.5 L372.9,891.3 L373.6,891.5 L374.3,891.9 L375.0,891.7 L375.7,892.2 L376.4,891.8 L377.1,891.8 L377.8,891.6 L378.5,891.8 L379.2,892.3 L379.9,892.2 L380.6,892.4 L381.3,891.7 L382.0,891.9 L382.7,892.5 L383.4,892.3 L384.1,891.9 L384.8,891.7 L385.5,891.8 L386.2,892.3 L386.9,892.2 L387.6,891.9 L388.3,890.7 L389.0,890.8 L389.7,892.7 L390.4,892.3 L391.1,892.4 L391.8,892.7 L392.5,891.9 L393.2,890.1 L393.9,892.9 L394.6,892.5 L395.3,892.3 L396.0,892.4 L396.7,892.6 L397.4,890.5 L398.1,892.7 L398.8,890.3 L399.5,893.1 L400.2,893.0 L400.9,893.3 L401.6,892.9 L402.3,892.6 L403.0,893.3 L403.7,892.9 L404.4,892.9 L405.1,892.3 L405.8,893.5 L406.5,893.4 L407.2,892.6 L407.9,893.6 L408.6,892.9 L409.3,892.9 L410.0,891.2 L410.7,891.0 L411.4,893.4 L412.1,892.8 L412.8,893.7 L413.5,893.9 L414.2,893.8 L414.9,893.9 L415.6,893.1 L416.3,893.6 L417.0,893.5 L417.7,893.4 L418.4,893.1 L419.1,892.7 L419.8,892.8 L420.5,892.4 L421.2,892.8 L421.9,892.6 L422.6,892.3 L423.3,891.9 L424.0,892.5 L424.7,892.0 L425.4,891.6 L426.1,890.5 L426.8,891.6 L427.5,891.2 L428.2,891.6 L428.9,891.0 L429.6,891.0 L430.3,891.5 L431.0,890.8 L431.7,891.3 L432.4,890.7 L433.1,889.6 L433.8,889.2 L434.5,891.0 L435.2,890.3 L435.9,890.5 L436.6,890.3 L437.3,889.9 L438.0,890.3 L438.7,890.2 L439.4,890.1 L440.1,889.8 L440.8,889.5 L441.5,889.4 L442.2,889.0 L442.9,889.3 L443.6,888.5 L444.3,888.6 L445.0,886.8 L445.7,888.3 L446.4,887.8 L447.1,888.3 L447.8,888.0 L448.5,887.7 L449.2,887.5 L449.9,887.6 L450.6,887.2 L451.3,887.4 L452.0,886.7 L452.7,887.1 L453.4,884.6 L454.1,884.8 L454.8,884.9 L455.5,886.2 L456.2,886.3 L456.9,884.2 L457.6,885.8 L458.3,885.7 L459.0,885.0 L459.7,885.2 L460.4,885.1 L461.1,884.3 L461.8,884.9 L462.5,884.1 L463.2,884.5 L463.9,883.8 L464.6,883.5 L465.3,883.1 L466.0,883.4 L466.7,882.7 L467.4,881.5 L468.1,880.9 L468.8,882.7 L469.5,880.5 L470.2,882.1 L470.9,882.3 L471.6,882.1 L472.3,881.8 L473.0,881.4 L473.7,881.2 L474.4,881.3 L475.1,880.2 L475.8,880.1 L476.5,880.7 L477.2,880.3 L477.9,880.4 L478.6,879.4 L479.3,879.8 L480.0,879.5 L480.7,878.4 L481.4,879.2 L482.1,878.6 L482.8,878.5 L483.5,878.4 L484.2,877.9 L484.9,877.6 L485.6,878.2 L486.3,877.8 L487.0,877.7 L487.7,876.7 L488.4,877.4 L489.1,876.9 L489.8,876.8 L490.5,876.1 L491.2,876.3 L491.9,876.2 L492.6,875.9 L493.3,875.5 L494.0,876.1 L494.7,875.7 L495.4,875.2 L496.1,873.3 L496.8,875.2 L497.5,875.3 L498.2,875.1 L498.9,875.0 L499.6,874.3 L500.3,874.2 L501.0,874.5 L501.7,873.7 L502.4,873.9 L503.1,873.9 L503.8,873.7 L504.5,873.9 L505.2,873.6 L505.9,873.1 L506.6,871.3 L507.3,873.1 L508.0,872.3 L508.7,870.6 L509.4,871.0 L510.1,872.5 L510.8,870.7 L511.5,872.2 L512.2,872.1 L512.9,871.8 L513.6,871.7 L514.3,870.1 L515.0,871.7 L515.7,872.0 L516.4,871.3 L517.1,871.2 L517.8,871.5 L518.5,871.8 L519.2,871.3 L519.9,871.3 L520.6,869.1 L521.3,870.3 L522.0,871.4 L522.7,871.2 L523.4,870.9 L524.1,871.2 L524.8,871.2 L525.5,871.4 L526.2,871.0 L526.9,869.2 L527.6,870.9 L528.3,870.0 L529.0,870.9 L529.7,870.7 L530.4,870.8 L531.1,871.0 L531.8,869.1 L532.5,870.8 L533.2,870.4 L533.9,871.3 L534.6,871.5 L535.3,871.3 L536.0,871.0 L536.7,871.1 L537.4,871.9 L538.1,872.2 L538.8,872.3 L539.5,871.9 L540.2,871.7 L540.9,872.4 L541.6,872.1 L542.3,872.7 L543.0,873.0 L543.7,872.5 L544.4,873.3 L545.1,873.1 L545.8,873.0 L546.5,873.1 L547.2,873.4 L547.9,872.0 L548.6,874.0 L549.3,874.1 L550.0,874.2 L550.7,874.4 L551.4,874.3 L552.1,874.4 L552.8,875.0 L553.5,875.1 L554.2,875.1 L554.9,875.4 L555.6,873.4 L556.3,875.0 L557.0,875.4 L557.7,875.5 L558.4,875.9 L559.1,876.5 L559.8,876.1 L560.5,876.0 L561.2,875.4 L561.9,875.8 L562.6,876.9 L563.3,876.7 L564.0,877.6 L564.7,877.4 L565.4,877.8 L566.1,877.5 L566.8,878.0 L567.5,878.4 L568.2,878.7 L568.9,877.5 L569.6,878.6 L570.3,878.7 L571.0,879.7 L571.7,879.4 L572.4,879.6 L573.1,879.8 L573.8,879.8 L574.5,879.9 L575.2,880.2 L575.9,880.4 L576.6,880.5 L577.3,881.0 L578.0,881.4 L578.7,881.8 L579.4,882.0 L580.1,882.0 L580.8,881.3 L581.5,882.0 L582.2,881.8 L582.9,882.6 L583.6,882.6 L584.3,883.3 L585.0,882.5 L585.7,883.8 L586.4,883.4 L587.1,884.3 L587.8,884.4 L588.5,883.8 L589.2,884.6 L589.9,884.7 L590.6,885.3 L591.3,883.6 L592.0,885.3 L592.7,885.7 L593.4,883.4 L594.1,885.1 L594.8,886.1 L595.5,886.6 L596.2,886.6 L596.9,887.4 L597.6,887.4 L598.3,887.6 L599.0,887.8 L599.7,888.2 L600.4,888.4 L601.1,888.4 L601.8,887.9 L602.5,888.4 L603.2,888.5 L603.9,889.4 L604.6,889.5 L605.3,889.8 L606.0,889.7 L606.7,889.8 L607.4,890.5 L608.1,890.7 L608.8,890.7 L609.5,890.3 L610.2,890.9 L610.9,889.9 L611.6,891.8 L612.3,891.4 L613.0,891.7 L613.7,892.0 L614.4,892.7 L615.1,892.5 L615.8,893.3 L616.5,893.0 L617.2,893.4 L617.9,893.8 L618.6,893.5 L619.3,895.1 L620.0,895.0 L620.7,895.1 L621.4,894.2 L622.1,893.6 L622.8,896.3 L623.5,896.3 L624.2,896.3 L624.9,897.4 L625.6,897.1 L626.3,897.4 L627.0,898.0 L627.7,898.0 L628.4,898.5 L629.1,899.1 L629.8,899.5 L630.5,899.5 L630.5,910.7 L629.8,910.6 L629.1,912.1 L628.4,909.9 L627.7,909.8 L627.0,909.8 L626.3,911.0 L625.6,908.8 L624.9,908.9 L624.2,908.9 L623.5,907.8 L622.8,907.1 L622.1,906.9 L621.4,906.6 L620.7,906.2 L620.0,908.0 L619.3,905.8 L618.6,905.5 L617.9,905.9 L617.2,905.3 L616.5,906.9 L615.8,904.7 L615.1,904.3 L614.4,903.6 L613.7,905.1 L613.0,902.9 L612.3,904.0 L611.6,902.3 L610.9,902.6 L610.2,901.9 L609.5,901.8 L608.8,901.9 L608.1,901.4 L607.4,901.6 L606.7,901.2 L606.0,900.5 L605.3,901.6 L604.6,900.3 L603.9,900.1 L603.2,900.0 L602.5,899.9 L601.8,901.5 L601.1,900.7 L600.4,899.2 L599.7,900.4 L599.0,898.9 L598.3,898.4 L597.6,897.7 L596.9,897.9 L596.2,899.1 L595.5,896.9 L594.8,896.8 L594.1,896.5 L593.4,896.9 L592.7,896.0 L592.0,895.8 L591.3,898.4 L590.6,896.3 L589.9,895.0 L589.2,894.8 L588.5,894.5 L587.8,894.8 L587.1,894.4 L586.4,894.4 L585.7,893.8 L585.0,893.7 L584.3,894.3 L583.6,893.6 L582.9,895.4 L582.2,893.0 L581.5,893.3 L580.8,893.1 L580.1,892.7 L579.4,892.5 L578.7,892.3 L578.0,892.4 L577.3,891.6 L576.6,892.2 L575.9,891.2 L575.2,893.9 L574.5,891.1 L573.8,891.3 L573.1,892.9 L572.4,890.9 L571.7,890.0 L571.0,891.1 L570.3,890.3 L569.6,891.5 L568.9,889.9 L568.2,890.0 L567.5,889.5 L566.8,889.2 L566.1,889.2 L565.4,889.2 L564.7,888.5 L564.0,888.5 L563.3,888.9 L562.6,888.4 L561.9,889.0 L561.2,887.8 L560.5,888.1 L559.8,887.4 L559.1,887.9 L558.4,887.4 L557.7,888.6 L557.0,886.9 L556.3,886.7 L555.6,886.7 L554.9,887.1 L554.2,887.5 L553.5,886.8 L552.8,886.6 L552.1,885.9 L551.4,885.8 L550.7,885.6 L550.0,886.1 L549.3,885.7 L548.6,885.9 L547.9,885.2 L547.2,885.4 L546.5,886.0 L545.8,884.9 L545.1,884.8 L544.4,885.0 L543.7,884.3 L543.0,884.8 L542.3,884.6 L541.6,884.5 L540.9,883.9 L540.2,884.4 L539.5,884.1 L538.8,884.0 L538.1,883.8 L537.4,883.1 L536.7,883.6 L536.0,883.2 L535.3,884.9 L534.6,882.9 L533.9,882.7 L533.2,885.1 L532.5,882.4 L531.8,882.8 L531.1,882.1 L530.4,882.0 L529.7,882.9 L529.0,882.1 L528.3,882.2 L527.6,882.9 L526.9,882.8 L526.2,882.3 L525.5,882.3 L524.8,882.9 L524.1,883.0 L523.4,882.5 L522.7,882.6 L522.0,882.8 L521.3,882.8 L520.6,884.8 L519.9,882.7 L519.2,883.0 L518.5,882.8 L517.8,883.1 L517.1,882.9 L516.4,884.7 L515.7,883.3 L515.0,882.9 L514.3,885.5 L513.6,883.1 L512.9,883.5 L512.2,883.1 L511.5,883.4 L510.8,883.2 L510.1,883.2 L509.4,884.1 L508.7,885.4 L508.0,884.8 L507.3,884.3 L506.6,884.4 L505.9,886.6 L505.2,884.2 L504.5,885.2 L503.8,884.7 L503.1,884.9 L502.4,884.7 L501.7,885.5 L501.0,884.8 L500.3,885.7 L499.6,885.2 L498.9,886.1 L498.2,885.8 L497.5,885.8 L496.8,886.0 L496.1,886.0 L495.4,886.2 L494.7,886.1 L494.0,886.7 L493.3,886.9 L492.6,886.6 L491.9,887.0 L491.2,886.8 L490.5,887.5 L489.8,887.6 L489.1,888.4 L488.4,887.6 L487.7,887.6 L487.0,888.0 L486.3,888.6 L485.6,888.9 L484.9,890.5 L484.2,889.2 L483.5,889.6 L482.8,889.1 L482.1,889.7 L481.4,890.0 L480.7,889.9 L480.0,889.6 L479.3,890.0 L478.6,890.2 L477.9,890.7 L477.2,892.7 L476.5,891.1 L475.8,890.7 L475.1,891.0 L474.4,893.8 L473.7,891.8 L473.0,892.2 L472.3,893.7 L471.6,891.9 L470.9,894.2 L470.2,893.6 L469.5,892.3 L468.8,893.3 L468.1,893.0 L467.4,893.0 L466.7,895.7 L466.0,895.0 L465.3,894.1 L464.6,894.2 L463.9,893.9 L463.2,895.0 L462.5,894.5 L461.8,895.7 L461.1,897.0 L460.4,894.6 L459.7,895.3 L459.0,895.7 L458.3,895.2 L457.6,895.4 L456.9,895.9 L456.2,896.1 L455.5,896.9 L454.8,896.1 L454.1,897.6 L453.4,896.7 L452.7,896.7 L452.0,896.5 L451.3,896.6 L450.6,896.8 L449.9,897.5 L449.2,897.2 L448.5,897.3 L447.8,898.8 L447.1,900.2 L446.4,899.7 L445.7,899.8 L445.0,898.1 L444.3,898.1 L443.6,898.7 L442.9,899.0 L442.2,899.0 L441.5,901.4 L440.8,898.8 L440.1,899.5 L439.4,899.5 L438.7,899.2 L438.0,899.3 L437.3,900.3 L436.6,902.2 L435.9,899.8 L435.2,899.7 L434.5,900.0 L433.8,900.1 L433.1,900.4 L432.4,900.7 L431.7,902.7 L431.0,900.9 L430.3,900.4 L429.6,901.0 L428.9,901.1 L428.2,900.5 L427.5,900.9 L426.8,901.4 L426.1,902.1 L425.4,900.9 L424.7,901.0 L424.0,901.2 L423.3,901.5 L422.6,901.9 L421.9,901.9 L421.2,902.2 L420.5,902.1 L419.8,902.5 L419.1,902.1 L418.4,902.4 L417.7,904.1 L417.0,902.0 L416.3,903.8 L415.6,902.5 L414.9,902.9 L414.2,902.6 L413.5,902.6 L412.8,902.1 L412.1,902.2 L411.4,903.0 L410.7,902.5 L410.0,902.7 L409.3,903.6 L408.6,902.8 L407.9,902.1 L407.2,903.3 L406.5,903.2 L405.8,902.0 L405.1,902.2 L404.4,904.3 L403.7,902.2 L403.0,902.4 L402.3,902.1 L401.6,901.8 L400.9,902.4 L400.2,902.5 L399.5,901.7 L398.8,902.8 L398.1,901.7 L397.4,902.0 L396.7,901.8 L396.0,902.2 L395.3,902.5 L394.6,901.9 L393.9,901.5 L393.2,902.0 L392.5,901.8 L391.8,901.4 L391.1,901.9 L390.4,901.5 L389.7,901.5 L389.0,901.9 L388.3,902.1 L387.6,903.9 L386.9,902.0 L386.2,902.0 L385.5,901.3 L384.8,901.7 L384.1,901.6 L383.4,901.7 L382.7,901.2 L382.0,901.2 L381.3,901.7 L380.6,901.3 L379.9,901.2 L379.2,901.7 L378.5,903.4 L377.8,901.6 L377.1,901.6 L376.4,901.2 L375.7,901.1 L375.0,903.7 L374.3,901.6 L373.6,903.2 L372.9,902.3 L372.2,901.3 L371.5,903.1 L370.8,900.6 L370.1,900.6 L369.4,901.1 L368.7,901.3 L368.0,901.2 L367.3,901.2 L366.6,900.7 L365.9,900.6 L365.2,901.0 L364.5,900.4 L363.8,900.4 L363.1,901.1 L362.4,903.2 L361.7,901.1 L361.0,900.8 L360.3,901.4 L359.6,900.2 L358.9,901.9 L358.2,900.7 L357.5,900.3 L356.8,900.9 L356.1,901.7 L355.4,902.4 L354.7,901.8 L354.0,900.7 L353.3,900.3 L352.6,900.7 L351.9,901.4 L351.2,900.6 L350.5,900.7 L349.8,899.9 L349.1,902.5 L348.4,900.0 L347.7,900.1 L347.0,902.3 L346.3,900.3 L345.6,900.3 L344.9,899.9 L344.2,900.0 L343.5,900.4 L342.8,900.0 L342.1,899.9 L341.4,899.8 L340.7,900.2 L340.0,899.8 L339.3,899.5 L338.6,900.1 L337.9,900.1 L337.2,899.8 L336.5,899.5 L335.8,900.0 L335.1,899.5 L334.4,900.2 L333.7,899.5 L333.0,899.4 L332.3,901.6 L331.6,899.7 L330.9,899.9 L330.2,899.9 L329.5,899.6 L328.8,899.8 L328.1,899.5 L327.4,899.3 L326.7,899.7 L326.0,899.7 L325.3,899.2 L324.6,899.2 L323.9,899.7 L323.2,899.5 L322.5,900.4 L321.8,899.6 L321.1,898.7 L320.4,898.9 L319.7,898.9 L319.0,900.0 L318.3,899.3 L317.6,899.4 L316.9,898.9 L316.2,899.8 L315.5,898.7 L314.8,899.6 L314.1,898.9 L313.4,898.8 L312.7,900.8 L312.0,898.9 L311.3,898.9 L310.6,898.6 L309.9,898.5 L309.2,898.3 L308.5,900.9 L307.8,898.2 L307.1,898.8 L306.4,898.9 L305.7,898.5 L305.0,898.4 L304.3,898.9 L303.6,898.6 L302.9,898.4 L302.2,898.3 L301.5,900.7 L300.8,898.4 L300.1,898.3 L299.4,898.6 L298.7,898.1 L298.0,898.5 L297.3,898.5 L296.6,898.0 L295.9,900.2 L295.2,898.1 L294.5,897.7 L293.8,898.3 L293.1,900.1 L292.4,898.3 L291.7,898.2 L291.0,900.2 L290.3,897.6 L289.6,899.8 L288.9,897.9 L288.2,898.1 L287.5,898.1 L286.8,900.2 L286.1,899.4 L285.4,898.0 L284.7,897.9 L284.0,898.1 L283.3,898.0 L282.6,897.9 L281.9,897.4 L281.2,897.3 L280.5,897.2 L279.8,897.5 L279.1,897.2 L278.4,897.2 L277.7,897.8 L277.0,897.3 L276.3,897.3 L275.6,897.7 L274.9,897.9 L274.2,899.6 L273.5,897.4 L272.8,897.4 L272.1,898.6 L271.4,897.0 L270.7,897.7 L270.0,897.0 L269.3,897.4 L268.6,897.3 L267.9,899.2 L267.2,896.9 L266.5,897.5 L265.8,896.8 L265.1,899.7 L264.4,896.9 L263.7,896.8 L263.0,899.3 L262.3,897.1 L261.6,897.1 L260.9,897.0 L260.2,897.0 L259.5,897.1 L258.8,896.6 L258.1,896.7 L257.4,896.7 L256.7,896.7 L256.0,898.6 L255.3,897.3 L254.6,899.3 L253.9,897.1 L253.2,896.6 L252.5,896.8 L251.8,896.9 L251.1,896.4 L250.4,897.1 L249.7,896.9 L249.0,897.0 L248.3,896.6 L247.6,897.9 L246.9,896.6 L246.2,897.3 L245.5,896.4 L244.8,896.5 L244.1,896.7 L243.4,896.4 L242.7,897.7 L242.0,896.8 L241.3,896.7 L240.6,896.7 L239.9,896.1 L239.2,896.2 L238.5,897.7 L237.8,896.7 L237.1,896.4 L236.4,896.3 L235.7,896.5 L235.0,896.4 L234.3,896.0 L233.6,898.0 L232.9,896.4 L232.2,896.4 L231.5,896.9 L230.8,896.3 L230.1,898.3 L229.4,896.0 L228.7,895.9 L228.0,895.8 L227.3,895.9 L226.6,895.9 L225.9,896.1 L225.2,895.8 L224.5,896.0 L223.8,895.8 L223.1,895.7 L222.4,896.2 L221.7,895.9 L221.0,897.2 L220.3,896.1 L219.6,896.4 L218.9,896.1 L218.2,896.1 L217.5,895.9 L216.8,896.5 L216.1,896.2 L215.4,896.0 L214.7,895.6 L214.0,895.9 L213.3,896.1 L212.6,895.5 L211.9,895.8 L211.2,895.8 L210.5,896.4 L209.8,897.4 L209.1,896.0 L208.4,895.7 L207.7,896.1 L207.0,895.7 L206.3,895.5 L205.6,896.0 L204.9,895.8 L204.2,898.4 L203.5,896.1 L202.8,897.7 L202.1,896.1 L201.4,895.6 L200.7,896.0 L200.0,898.2 L199.3,898.3 L198.6,896.0 L197.9,896.1 L197.2,895.9 L196.5,895.6 L195.8,895.5 L195.1,895.8 L194.4,897.2 L193.7,895.6 L193.0,895.8 L192.3,895.7 L191.6,895.8 L190.9,896.0 L190.2,895.5 L189.5,895.9 L188.8,897.9 L188.1,896.2 L187.4,896.6 L186.7,895.4 L186.0,895.4 L185.3,895.1 L184.6,895.3 L183.9,895.4 L183.2,895.3 L182.5,895.7 L181.8,896.3 L181.1,895.5 L180.4,897.2 L179.7,896.7 L179.0,895.2 L178.3,895.6 L177.6,895.3 L176.9,897.2 L176.2,895.5 L175.5,895.1 L174.8,895.0 L174.1,895.1 L173.4,895.5 L172.7,895.7 L172.0,895.2 L171.3,895.7 L170.6,897.8 L169.9,895.4 L169.2,895.4 L168.5,894.9 L167.8,895.2 L167.1,895.2 L166.4,895.2 L165.7,895.1 L165.0,895.1Z" fill="#00ff00"/>
<polyline points="600.0,886.8 602.1,906.3 604.2,887.8 606.3,907.7 608.4,889.1 610.5,908.9 612.6,891.0 614.7,909.8 616.8,891.8 619.0,911.7 621.1,893.8 623.2,912.8 625.3,896.3 627.4,914.7 629.5,898.2 631.7,916.5 633.8,900.0 635.9,917.2 638.0,900.9 640.2,919.0 642.3,901.6 644.4,919.4 646.5,902.7 648.7,920.4 650.8,904.1 653.0,921.5 655.1,905.9 657.2,923.4 659.4,906.9 661.5,923.8 663.7,907.3 665.8,925.6 667.9,909.2 670.1,927.0 672.2,910.9 674.4,928.9 676.6,913.3 678.7,931.4 680.9,914.9 683.0,933.6 685.2,916.9 687.3,935.1 689.5,919.5 691.7,937.2 693.8,921.9 696.0,939.3 698.2,923.8 700.3,942.0 702.5,926.1 704.7,943.3 706.9,927.6 709.0,944.2 711.2,928.9 713.4,945.6 715.6,931.2 717.8,946.8 719.9,932.7 722.1,948.2 724.3,934.7 726.5,950.6 728.7,937.2 730.9,953.8 733.1,940.3 735.3,956.1 737.5,942.2 739.7,958.3 741.9,944.9 744.1,960.1 746.4,947.1 748.7,963.5 751.1,949.5 753.5,965.9 756.0,951.3 758.5,968.8 761.1,954.6 763.7,971.0 766.4,957.2 769.1,974.4 771.9,960.5 774.7,977.4 777.7,962.8 780.7,980.7 783.9,966.7 787.1,984.1 790.4,969.9 793.9,986.9 797.5,972.9 801.1,991.2 804.9,977.2 808.7,994.7 812.6,981.3 816.5,997.6 820.4,984.9" fill="none" stroke="#0000ff" stroke-width="2.0" stroke-linejoin="round"/>
<polyline points="926.0,892.8 928.8,888.9 931.5,876.2 934.3,888.2 937.0,871.4 939.7,886.6 942.5,869.9 945.2,886.1 948.0,867.8 950.7,886.3 953.4,866.6 956.1,885.9 958.9,867.0 961.6,886.4 964.3,867.3 967.0,887.0 969.7,868.1 972.4,887.0 975.1,868.2 977.8,888.1 980.5,868.1 983.2,887.9 985.9,869.0 988.6,889.0 991.3,870.3 994.0,890.2 996.6,872.1 999.3,892.0 1002.0,873.0 1004.7,892.5 1007.3,873.4 1010.0,894.3 1012.6,875.2 1015.3,895.5 1018.0,876.1 1020.6,896.4 1023.3,877.5 1025.9,897.5 1028.5,877.8 1031.2,898.4 1033.8,878.4 1036.5,898.5 1039.1,879.7 1041.7,899.2 1044.3,880.7 1047.0,899.9 1049.6,881.3 1052.2,901.2 1054.8,882.4 1057.4,902.1 1060.0,882.8 1062.6,902.6 1065.2,883.1 1067.8,903.4 1070.4,884.4 1073.0,904.1 1075.6,884.8 1078.2,904.3 1080.8,885.3 1083.4,904.9 1085.9,886.3 1088.5,906.4 1091.1,887.8 1093.7,907.0 1096.2,888.2 1098.8,907.4 1101.4,889.3 1103.9,907.5 1106.5,889.8 1109.0,908.0 1111.6,890.4 1114.1,907.3 1116.7,890.3 1119.2,907.1 1121.8,891.6 1124.3,906.0 1126.8,892.0 1129.4,906.0 1131.9,893.0 1134.4,905.5 1136.9,893.0 1139.4,905.2 1142.0,894.4 1144.5,904.8 1147.0,894.9 1149.5,903.7 1152.0,895.0" fill="none" stroke="#0000ff" stroke-width="2.0" stroke-linejoin="round"/>
<path d="M620.0,905.7 L620.7,905.8 L621.4,906.4 L622.1,906.4 L622.8,907.1 L623.5,907.5 L624.2,907.7 L624.9,907.7 L625.6,908.2 L626.3,908.7 L627.0,909.0 L627.7,908.0 L628.4,909.6 L629.1,909.0 L629.8,910.1 L630.5,910.4 L631.2,910.7 L631.9,910.7 L632.6,911.0 L633.3,911.2 L634.0,911.2 L634.7,911.3 L635.4,911.5 L636.1,912.0 L636.8,911.9 L637.5,912.0 L638.2,912.5 L638.9,912.7 L639.6,912.5 L640.3,912.7 L641.0,912.9 L641.7,912.6 L642.4,913.3 L643.1,913.7 L643.8,913.6 L644.5,914.0 L645.2,914.1 L645.9,913.4 L646.6,914.5 L647.3,914.6 L648.0,914.8 L648.7,914.7 L649.4,914.4 L650.1,915.5 L650.8,915.3 L651.5,915.6 L652.2,915.7 L652.9,916.1 L653.6,916.4 L654.3,916.5 L655.0,916.7 L655.7,916.2 L656.4,917.1 L657.1,916.2 L657.8,917.1 L658.5,917.4 L659.2,917.8 L659.9,917.8 L660.6,916.9 L661.3,918.0 L662.0,918.4 L662.7,918.4 L663.4,918.4 L664.1,918.6 L664.8,918.6 L665.5,919.4 L666.2,919.4 L666.9,919.7 L667.6,919.7 L668.3,920.0 L669.0,920.1 L669.7,920.4 L670.4,920.9 L671.1,921.2 L671.8,921.6 L672.5,921.8 L673.2,922.0 L673.9,922.6 L674.6,923.0 L675.3,923.2 L676.0,923.5 L676.7,923.8 L677.4,924.1 L678.1,924.6 L678.8,923.7 L679.5,925.3 L680.2,925.3 L680.9,925.4 L681.6,926.3 L682.3,926.3 L683.0,927.1 L683.7,927.4 L684.4,927.6 L685.1,927.7 L685.8,928.1 L686.5,928.3 L687.2,929.1 L687.9,929.1 L688.6,929.6 L689.3,930.0 L690.0,929.7 L690.7,930.0 L691.4,930.7 L692.1,931.0 L692.8,931.5 L693.5,931.8 L694.2,932.2 L694.9,932.6 L695.6,933.0 L696.3,933.5 L697.0,933.7 L697.7,933.9 L698.4,934.4 L699.1,934.4 L699.8,934.9 L700.5,935.1 L701.2,935.6 L701.9,935.7 L702.6,935.4 L703.3,936.5 L704.0,936.3 L704.7,936.9 L704.7,936.2 L704.0,936.4 L703.3,936.9 L702.6,936.0 L701.9,935.8 L701.2,935.5 L700.5,935.3 L699.8,936.1 L699.1,934.9 L698.4,934.8 L697.7,934.3 L697.0,933.9 L696.3,933.5 L695.6,933.4 L694.9,933.9 L694.2,932.6 L693.5,932.5 L692.8,932.0 L692.1,932.0 L691.4,931.4 L690.7,931.3 L690.0,930.7 L689.3,930.6 L688.6,930.4 L687.9,929.8 L687.2,929.4 L686.5,929.7 L685.8,928.8 L685.1,929.1 L684.4,928.4 L683.7,927.9 L683.0,927.7 L682.3,927.4 L681.6,927.1 L680.9,926.6 L680.2,926.7 L679.5,926.0 L678.8,925.7 L678.1,925.4 L677.4,925.4 L676.7,924.8 L676.0,924.8 L675.3,924.8 L674.6,924.1 L673.9,923.8 L673.2,923.3 L672.5,922.9 L671.8,922.7 L671.1,922.5 L670.4,922.0 L669.7,922.5 L669.0,922.6 L668.3,921.4 L667.6,921.2 L666.9,921.0 L666.2,921.0 L665.5,921.0 L664.8,920.8 L664.1,920.4 L663.4,920.3 L662.7,920.1 L662.0,920.1 L661.3,919.9 L660.6,919.6 L659.9,920.6 L659.2,919.6 L658.5,920.2 L657.8,919.5 L657.1,919.8 L656.4,919.2 L655.7,918.9 L655.0,919.4 L654.3,919.7 L653.6,918.9 L652.9,918.4 L652.2,918.3 L651.5,917.9 L650.8,918.1 L650.1,917.8 L649.4,917.7 L648.7,917.7 L648.0,917.5 L647.3,917.1 L646.6,918.0 L645.9,917.2 L645.2,916.9 L644.5,916.6 L643.8,916.5 L643.1,916.6 L642.4,916.8 L641.7,916.2 L641.0,915.9 L640.3,915.8 L639.6,915.9 L638.9,915.8 L638.2,915.3 L637.5,915.6 L636.8,915.2 L636.1,915.3 L635.4,914.8 L634.7,916.0 L634.0,914.5 L633.3,914.5 L632.6,915.4 L631.9,914.4 L631.2,914.0 L630.5,913.8 L629.8,913.9 L629.1,913.5 L628.4,913.2 L627.7,913.9 L627.0,913.0 L626.3,912.8 L625.6,913.2 L624.9,912.1 L624.2,912.1 L623.5,911.7 L622.8,911.2 L622.1,911.1 L621.4,911.1 L620.7,910.6 L620.0,910.4Z" fill="#0000ff"/>
<path d="M620.0,895.4 L620.7,895.3 L621.4,896.0 L622.1,896.3 L622.8,896.3 L623.5,897.1 L624.2,897.2 L624.9,897.4 L625.6,897.3 L626.3,898.1 L627.0,898.4 L627.7,898.1 L628.4,899.1 L629.1,899.5 L629.8,899.0 L630.5,900.4 L631.2,900.3 L631.9,900.6 L632.6,901.1 L633.3,900.7 L634.0,901.2 L634.7,901.1 L635.4,901.9 L636.1,902.1 L636.8,901.8 L637.5,902.3 L638.2,902.7 L638.9,902.9 L639.6,903.3 L640.3,903.5 L641.0,903.4 L641.7,903.9 L642.4,904.1 L643.1,904.1 L643.8,904.2 L644.5,904.4 L645.2,904.8 L645.9,905.0 L646.6,905.5 L647.3,905.4 L648.0,905.9 L648.7,905.4 L649.4,906.0 L650.1,906.4 L650.8,906.8 L651.5,907.1 L652.2,907.2 L652.9,907.1 L653.6,907.7 L654.3,907.9 L655.0,907.8 L655.7,907.2 L656.4,907.4 L657.1,908.5 L657.8,908.7 L658.5,909.0 L659.2,909.4 L659.9,908.4 L660.6,909.9 L661.3,910.1 L662.0,910.0 L662.7,909.3 L663.4,910.7 L664.1,910.0 L664.8,911.2 L665.5,910.4 L666.2,911.6 L666.9,911.6 L667.6,911.7 L668.3,911.9 L669.0,912.2 L669.7,912.7 L670.4,911.8 L671.1,913.3 L671.8,913.0 L672.5,914.2 L673.2,914.4 L673.9,914.8 L674.6,915.2 L675.3,915.6 L676.0,916.3 L676.7,916.7 L677.4,916.7 L678.1,917.3 L678.8,917.7 L679.5,917.4 L680.2,918.5 L680.9,918.2 L681.6,919.3 L682.3,919.6 L683.0,919.7 L683.7,920.2 L684.4,920.9 L685.1,921.2 L685.8,921.7 L686.5,922.1 L687.2,921.6 L687.9,922.8 L688.6,922.9 L689.3,923.3 L690.0,923.6 L690.7,924.4 L691.4,924.8 L692.1,924.8 L692.8,925.1 L693.5,925.7 L694.2,925.9 L694.9,926.5 L695.6,927.0 L696.3,927.2 L697.0,927.6 L697.7,927.9 L698.4,928.3 L699.1,928.7 L699.8,929.3 L700.5,929.7 L701.2,929.9 L701.9,930.3 L702.6,930.4 L703.3,930.7 L704.0,931.0 L704.7,931.8 L704.7,932.0 L704.0,931.5 L703.3,931.6 L702.6,931.3 L701.9,931.1 L701.2,930.5 L700.5,930.6 L699.8,930.2 L699.1,929.8 L698.4,929.5 L697.7,929.4 L697.0,928.8 L696.3,928.6 L695.6,928.6 L694.9,928.5 L694.2,927.7 L693.5,927.7 L692.8,927.4 L692.1,926.9 L691.4,926.7 L690.7,926.3 L690.0,926.9 L689.3,925.8 L688.6,925.5 L687.9,925.3 L687.2,924.8 L686.5,925.2 L685.8,924.4 L685.1,924.2 L684.4,923.6 L683.7,923.9 L683.0,924.1 L682.3,922.7 L681.6,922.6 L680.9,922.3 L680.2,922.0 L679.5,921.7 L678.8,921.2 L678.1,921.3 L677.4,920.9 L676.7,920.7 L676.0,920.3 L675.3,920.9 L674.6,919.6 L673.9,919.2 L673.2,919.2 L672.5,918.6 L671.8,918.6 L671.1,918.1 L670.4,917.9 L669.7,918.5 L669.0,917.2 L668.3,917.3 L667.6,917.1 L666.9,916.7 L666.2,916.7 L665.5,916.7 L664.8,916.4 L664.1,917.4 L663.4,916.3 L662.7,915.9 L662.0,915.8 L661.3,915.7 L660.6,915.8 L659.9,915.4 L659.2,915.4 L658.5,915.4 L657.8,915.3 L657.1,915.2 L656.4,914.7 L655.7,914.6 L655.0,915.6 L654.3,914.6 L653.6,914.6 L652.9,914.0 L652.2,914.2 L651.5,913.9 L650.8,913.9 L650.1,914.1 L649.4,913.7 L648.7,913.5 L648.0,913.2 L647.3,913.0 L646.6,913.0 L645.9,912.9 L645.2,913.0 L644.5,912.4 L643.8,912.5 L643.1,912.4 L642.4,912.3 L641.7,912.3 L641.0,911.8 L640.3,911.9 L639.6,911.8 L638.9,911.9 L638.2,911.6 L637.5,911.4 L636.8,912.2 L636.1,910.8 L635.4,911.0 L634.7,910.7 L634.0,910.7 L633.3,910.7 L632.6,910.8 L631.9,910.1 L631.2,910.4 L630.5,909.8 L629.8,909.7 L629.1,909.5 L628.4,909.4 L627.7,909.2 L627.0,908.7 L626.3,908.6 L625.6,908.3 L624.9,907.9 L624.2,907.8 L623.5,907.4 L622.8,907.2 L622.1,906.7 L621.4,907.4 L620.7,906.4 L620.0,906.1Z" fill="#00ff00"/>
<polyline points="600.8,887.7 602.9,900.3 605.0,889.3 607.1,901.2 609.2,891.1 611.3,903.0 613.4,891.9 615.5,904.7 617.6,893.8 619.8,906.6 621.9,895.7 624.0,908.6 626.1,897.1 628.2,910.1 630.3,899.0 632.5,911.8 634.6,900.5 636.7,912.7 638.8,900.9 641.0,913.5 643.1,902.0 645.2,915.0 647.4,903.0 649.5,915.7 651.6,904.8 653.8,917.3 655.9,905.2 658.0,918.0 660.2,907.0 662.3,918.8 664.5,907.5 666.6,920.0 668.8,908.3 670.9,921.8 673.1,911.1 675.2,924.0 677.4,913.0 679.5,926.3 681.7,914.5 683.8,928.0 686.0,916.9 688.2,930.3 690.3,918.8 692.5,932.6 694.7,921.7 696.8,934.1 699.0,923.2 701.2,936.1 703.3,925.2 705.5,937.5 707.7,926.8 709.9,939.6 712.0,929.4 714.2,941.4 716.4,931.1 718.6,942.7 720.8,932.9 723.0,944.7 725.1,935.5 727.3,947.6 729.5,937.3 731.7,949.0 733.9,939.5 736.1,951.3 738.3,942.3 740.5,954.4 742.7,944.3 745.0,956.1 747.3,946.9 749.6,958.5 752.0,949.6 754.4,961.6 756.9,952.3 759.5,963.6 762.1,954.3 764.7,966.2 767.4,956.8 770.1,968.8 773.0,959.7 775.8,972.4 778.8,963.1 781.9,975.4 785.1,966.4 788.4,978.5 791.7,969.4 795.2,981.5 798.8,973.2 802.5,985.4 806.3,976.2 810.2,988.8 814.0,978.8 818.0,993.2 821.9,982.3" fill="none" stroke="#00ff00" stroke-width="2.2" stroke-linejoin="round"/>
<polyline points="926.8,888.7 929.6,887.1 932.3,876.2 935.1,886.5 937.8,872.7 940.5,885.2 943.3,870.4 946.0,885.3 948.7,869.4 951.5,885.3 954.2,868.4 956.9,885.5 959.6,868.3 962.4,885.5 965.1,869.0 967.8,886.2 970.5,869.9 973.2,886.5 975.9,869.9 978.6,886.7 981.3,870.5 984.0,887.9 986.7,871.8 989.4,888.8 992.0,873.9 994.7,890.5 997.4,874.5 1000.1,891.4 1002.8,876.6 1005.4,892.4 1008.1,877.4 1010.8,893.7 1013.4,878.5 1016.1,895.2 1018.7,880.6 1021.4,896.5 1024.0,881.7 1026.7,897.9 1029.3,882.2 1031.9,898.5 1034.6,883.6 1037.2,899.8 1039.8,884.6 1042.5,901.1 1045.1,886.4 1047.7,901.6 1050.3,887.0 1053.0,902.6 1055.6,888.1 1058.2,903.5 1060.8,888.9 1063.4,904.9 1066.0,890.6 1068.6,905.8 1071.2,891.2 1073.8,906.1 1076.4,891.8 1079.0,906.8 1081.5,892.9 1084.1,908.3 1086.7,893.2 1089.3,908.2 1091.8,893.9 1094.4,909.0 1097.0,895.2 1099.5,910.6 1102.1,895.7 1104.7,910.8 1107.2,896.6 1109.8,911.5 1112.3,897.5 1114.9,912.7 1117.4,898.2 1119.9,912.7 1122.5,898.2 1125.0,913.3 1127.6,898.6 1130.1,913.7 1132.6,899.2 1135.1,915.0 1137.7,900.2 1140.2,915.6 1142.7,901.0 1145.2,916.1 1147.7,901.3 1150.2,916.4 1152.7,902.3" fill="none" stroke="#00ff00" stroke-width="2.2" stroke-linejoin="round"/>
<path d="M818.00,988.60 C820.00,988.60 825.50,988.35 830.00,988.60 C834.50,988.85 839.55,991.10 845.00,990.10 C850.45,989.10 858.20,985.52 862.70,982.60 C867.20,979.68 868.62,976.77 872.00,972.60 C875.38,968.43 879.50,962.77 883.00,957.60 C886.50,952.43 890.27,947.35 893.00,941.60 C895.73,935.85 897.65,926.18 899.40,923.10 C901.15,920.02 901.45,926.18 903.50,923.10 C905.55,920.02 909.32,907.35 911.70,904.60 C914.08,901.85 916.10,908.35 917.80,906.60 C919.50,904.85 920.53,895.77 921.90,894.10 C923.27,892.43 924.82,898.18 926.00,896.60 C927.18,895.02 928.50,886.60 929.00,884.60" fill="none" stroke="#0000ff" stroke-width="3.2"/>
<path d="M818.00,986.40 C820.00,986.40 825.50,986.15 830.00,986.40 C834.50,986.65 839.55,988.90 845.00,987.90 C850.45,986.90 858.20,983.32 862.70,980.40 C867.20,977.48 868.62,974.57 872.00,970.40 C875.38,966.23 879.50,960.57 883.00,955.40 C886.50,950.23 890.27,945.15 893.00,939.40 C895.73,933.65 897.65,923.98 899.40,920.90 C901.15,917.82 901.45,923.98 903.50,920.90 C905.55,917.82 909.32,905.15 911.70,902.40 C914.08,899.65 916.10,906.15 917.80,904.40 C919.50,902.65 920.53,893.57 921.90,891.90 C923.27,890.23 924.82,895.98 926.00,894.40 C927.18,892.82 928.50,884.40 929.00,882.40" fill="none" stroke="#00ff00" stroke-width="3.2"/>
<rect x="589" y="880" width="3.5" height="24" fill="#fff"/>
<line x1="589.5" y1="884" x2="589.5" y2="905" stroke="#0000ff" stroke-width="1"/>
<path d="M165.0,1229.80H167.0 V1227.20H181.0 V1229.80H182.0 V1227.20H191.0 V1224.60H192.0 V1227.20H212.0 V1224.60H213.0 V1227.20H221.0 V1224.60H223.0 V1227.20H224.0 V1224.60H225.0 V1229.80H226.0 V1227.20H231.0 V1224.60H233.0 V1227.20H237.0 V1222.00H238.0 V1224.60H246.0 V1222.00H247.0 V1227.20H248.0 V1224.60H250.0 V1227.20H251.0 V1224.60H252.0 V1227.20H254.0 V1224.60H255.0 V1227.20H256.0 V1224.60H274.0 V1227.20H275.0 V1224.60H279.0 V1222.00H280.0 V1224.60H291.0 V1222.00H292.0 V1224.60H297.0 V1227.20H298.0 V1224.60H300.0 V1222.00H301.0 V1224.60H314.0 V1222.00H315.0 V1224.60H319.0 V1222.00H321.0 V1224.60H331.0 V1222.00H332.0 V1224.60H333.0 V1222.00H334.0 V1224.60H336.0 V1222.00H337.0 V1224.60H338.0 V1222.00H339.0 V1224.60H340.0 V1222.00H341.0 V1224.60H342.0 V1222.00H343.0 V1224.60H344.0 V1222.00H345.0 V1224.60H347.0 V1222.00H348.0 V1224.60H351.0 V1222.00H354.0 V1224.60H355.0 V1222.00H357.0 V1224.60H360.0 V1219.40H361.0 V1222.00H363.0 V1224.60H364.0 V1222.00H366.0 V1224.60H368.0 V1222.00H370.0 V1224.60H371.0 V1222.00H374.0 V1224.60H376.0 V1222.00H378.0 V1224.60H379.0 V1222.00H385.0 V1224.60H387.0 V1222.00H389.0 V1219.40H390.0 V1224.60H391.0 V1222.00H398.0 V1219.40H399.0 V1222.00H414.0 V1219.40H416.0 V1222.00H420.0 V1219.40H421.0 V1222.00H422.0 V1219.40H423.0 V1222.00H426.0 V1219.40H427.0 V1222.00H428.0 V1219.40H430.0 V1222.00H432.0 V1219.40H435.0 V1222.00H436.0 V1219.40H437.0 V1216.80H438.0 V1222.00H439.0 V1219.40H441.0 V1222.00H442.0 V1219.40H446.0 V1222.00H447.0 V1219.40H448.0 V1222.00H449.0 V1219.40H453.0 V1222.00H454.0 V1219.40H455.0 V1222.00H457.0 V1219.40H461.0 V1222.00H462.0 V1219.40H465.0 V1222.00H467.0 V1219.40H468.0 V1222.00H469.0 V1219.40H475.0 V1222.00H476.0 V1219.40H495.0 V1216.80H497.0 V1219.40H507.0 V1216.80H508.0 V1219.40H512.0 V1216.80H513.0 V1219.40H514.0 V1216.80H515.0 V1219.40H516.0 V1214.20H517.0 V1219.40H518.0 V1216.80H519.0 V1219.40H521.0 V1216.80H523.0 V1219.40H524.0 V1216.80H525.0 V1219.40H526.0 V1216.80H527.0 V1219.40H528.0 V1216.80H529.0 V1219.40H532.0 V1216.80H535.0 V1219.40H536.0 V1216.80H537.0 V1219.40H538.0 V1216.80H541.0 V1219.40H542.0 V1216.80H544.0 V1219.40H545.0 V1216.80H557.0 V1219.40H558.0 V1216.80H563.0 V1214.20H564.0 V1216.80H570.0 V1214.20H571.0 V1216.80H578.0 V1214.20H579.0 V1216.80H586.0 V1214.20H587.0 V1216.80H589.0 V1214.20H590.0 V1216.80H591.0 V1214.20H592.0 V1216.80H595.0 V1214.20H596.0 V1216.80H597.0 V1214.20H600.0 V1216.80H601.0 V1214.20H604.0 V1216.80H606.0 V1214.20H607.0 V1216.80H608.0 V1214.20H609.0 V1216.80H612.0 V1214.20H617.0 V1216.80H620.0 V1214.20H622.0 V1216.80H623.0 V1214.20H626.0 V1216.80H627.0 V1214.20H631.0 V1216.80H632.0 V1214.20H638.0 V1216.80H639.0 V1214.20H644.0 V1216.80H645.0 V1214.20H671.0 V1211.60H673.0 V1214.20H676.0 V1211.60H677.0 V1214.20H680.0 V1211.60H681.0 V1214.20H691.0 V1211.60H692.0 V1214.20H695.0 V1211.60H696.0 V1214.20H699.0 V1211.60H700.0 V1214.20H701.0 V1211.60H702.0 V1214.20H703.0 V1211.60H704.0 V1214.20H706.0 V1209.00H707.0 V1214.20H711.0 V1211.60H712.0 V1214.20H713.0 V1211.60H714.0 V1214.20H719.0 V1211.60H720.0 V1214.20H722.0 V1211.60H723.0 V1209.00H724.0 V1216.80H725.0 V1214.20H727.0 V1211.60H728.0 V1214.20H730.0 V1211.60H731.0 V1214.20H733.0 V1211.60H734.0 V1214.20H735.0 V1211.60H736.0 V1214.20H737.0 V1211.60H738.0 V1214.20H739.0 V1211.60H740.0 V1214.20H742.0 V1211.60H743.0 V1214.20H746.0 V1211.60H747.0 V1214.20H748.0 V1211.60H750.0 V1214.20H751.0 V1211.60H752.0 V1214.20H753.0 V1211.60H757.0 V1209.00H758.0 V1214.20H759.0 V1211.60H761.0 V1214.20H764.0 V1211.60H765.0 V1214.20H768.0 V1211.60H770.0 V1214.20H774.0 V1211.60H784.0 V1214.20H785.0 V1211.60H792.0 V1214.20H793.0 V1211.60H804.0 V1214.20H806.0 V1211.60H822.0 V1209.00H823.0 V1211.60H829.0 V1209.00H830.0 V1211.60H835.0 V1209.00H836.0 V1211.60H840.0 V1209.00H841.0 V1211.60H843.0 V1209.00H844.0 V1211.60H851.0 V1209.00H852.0 V1211.60H853.0 V1209.00H854.0 V1211.60H859.0 V1209.00H860.0 V1211.60H866.0 V1209.00H867.0 V1211.60H873.0 V1209.00H874.0 V1211.60H875.0 V1206.40H876.0 V1211.60H881.0 V1209.00H883.0 V1211.60H884.0 V1209.00H887.0 V1211.60H890.0 V1209.00H892.0 V1211.60H896.0 V1209.00H897.0 V1206.40H898.0 V1211.60H902.0 V1209.00H903.0 V1211.60H905.0 V1214.20H906.0 V1211.60H908.0 V1209.00H910.0 V1211.60H915.0 V1209.00H916.0 V1211.60H920.0 V1206.40H921.0 V1211.60H923.0 V1209.00H924.0 V1211.60H925.0 V1209.00H926.0 V1211.60H928.0 V1209.00H930.0 V1211.60H931.0 V1209.00H932.0 V1211.60H933.0 V1209.00H937.0 V1211.60H938.0 V1209.00H939.0 V1211.60H940.0 V1209.00H942.0 V1211.60H944.0 V1209.00H945.0 V1211.60H946.0 V1209.00H947.0 V1211.60H948.0 V1209.00H949.0 V1211.60H950.0 V1209.00H951.0 V1211.60H952.0 V1209.00H959.0 V1211.60H961.0 V1209.00H963.0 V1211.60H966.0 V1209.00H969.0 V1211.60H970.0 V1209.00H973.0 V1211.60H974.0 V1209.00H977.0 V1211.60H978.0 V1209.00H979.0 V1211.60H982.0 V1206.40H983.0 V1209.00H984.0 V1206.40H986.0 V1209.00H988.0 V1211.60H991.0 V1209.00H992.0 V1206.40H993.0 V1209.00H997.0 V1211.60H998.0 V1209.00H1000.0 V1211.60H1001.0 V1209.00H1003.0 V1211.60H1005.0 V1209.00H1006.0 V1211.60H1008.0 V1209.00H1010.0 V1211.60H1012.0 V1209.00H1013.0 V1211.60H1014.0 V1209.00H1020.0 V1211.60H1021.0 V1209.00H1031.0 V1211.60H1032.0 V1209.00H1046.0 V1214.20H1047.0 V1209.00H1050.0 V1211.60H1051.0 V1209.00H1052.0 V1211.60H1054.0 V1209.00H1061.0 V1211.60H1062.0 V1209.00H1066.0 V1211.60H1067.0 V1209.00H1073.0 V1206.40H1074.0 V1209.00H1077.0 V1211.60H1078.0 V1206.40H1079.0 V1209.00H1082.0 V1211.60H1083.0 V1209.00H1102.0 V1211.60H1103.0 V1209.00H1112.0 V1211.60H1113.0 V1206.40H1114.0 V1209.00H1116.0 V1211.60H1118.0 V1209.00H1123.0 V1211.60H1124.0 V1209.00H1129.0 V1211.60H1130.0 V1209.00H1136.0 V1211.60H1137.0 V1209.00H1147.0 V1211.60H1148.0 V1209.00H1149.0 V1211.60H1151.0 V1209.00H1153.0 V1206.40H1154.0 V1209.00H1154" fill="none" stroke="#ffff00" stroke-width="1.2"/>
<path d="M165.0,1216.80H166.0 V1219.40H168.0 V1216.80H169.0 V1219.40H171.0 V1216.80H172.0 V1219.40H174.0 V1216.80H175.0 V1219.40H177.0 V1216.80H179.0 V1219.40H188.0 V1216.80H189.0 V1219.40H192.0 V1216.80H193.0 V1219.40H200.0 V1216.80H201.0 V1219.40H206.0 V1216.80H207.0 V1219.40H216.0 V1222.00H217.0 V1219.40H220.0 V1222.00H221.0 V1219.40H224.0 V1214.20H225.0 V1219.40H226.0 V1216.80H227.0 V1219.40H228.0 V1216.80H231.0 V1219.40H232.0 V1216.80H234.0 V1219.40H235.0 V1214.20H236.0 V1216.80H237.0 V1219.40H239.0 V1216.80H241.0 V1219.40H243.0 V1216.80H245.0 V1219.40H246.0 V1216.80H248.0 V1219.40H251.0 V1216.80H253.0 V1219.40H255.0 V1216.80H260.0 V1219.40H261.0 V1216.80H262.0 V1222.00H263.0 V1219.40H266.0 V1216.80H267.0 V1219.40H269.0 V1216.80H270.0 V1219.40H273.0 V1216.80H275.0 V1219.40H277.0 V1216.80H283.0 V1219.40H284.0 V1216.80H286.0 V1219.40H287.0 V1216.80H288.0 V1219.40H289.0 V1216.80H292.0 V1219.40H294.0 V1216.80H299.0 V1219.40H300.0 V1216.80H306.0 V1214.20H307.0 V1216.80H319.0 V1219.40H321.0 V1216.80H323.0 V1219.40H324.0 V1216.80H336.0 V1214.20H337.0 V1216.80H366.0 V1219.40H367.0 V1216.80H384.0 V1219.40H385.0 V1216.80H403.0 V1214.20H404.0 V1216.80H407.0 V1214.20H408.0 V1216.80H419.0 V1214.20H420.0 V1216.80H423.0 V1219.40H424.0 V1216.80H425.0 V1214.20H426.0 V1216.80H429.0 V1214.20H430.0 V1216.80H435.0 V1214.20H438.0 V1216.80H440.0 V1214.20H442.0 V1216.80H444.0 V1214.20H446.0 V1216.80H447.0 V1214.20H448.0 V1211.60H449.0 V1216.80H451.0 V1214.20H453.0 V1216.80H455.0 V1214.20H459.0 V1216.80H460.0 V1214.20H461.0 V1216.80H464.0 V1214.20H470.0 V1216.80H472.0 V1214.20H478.0 V1216.80H479.0 V1214.20H480.0 V1216.80H481.0 V1214.20H485.0 V1216.80H486.0 V1214.20H490.0 V1211.60H491.0 V1214.20H493.0 V1216.80H494.0 V1214.20H498.0 V1216.80H499.0 V1214.20H505.0 V1211.60H506.0 V1214.20H532.0 V1211.60H533.0 V1214.20H534.0 V1216.80H535.0 V1214.20H537.0 V1211.60H538.0 V1214.20H539.0 V1211.60H540.0 V1214.20H542.0 V1211.60H543.0 V1214.20H545.0 V1211.60H546.0 V1214.20H548.0 V1211.60H549.0 V1214.20H550.0 V1211.60H552.0 V1214.20H553.0 V1211.60H554.0 V1214.20H555.0 V1211.60H556.0 V1214.20H560.0 V1216.80H561.0 V1214.20H563.0 V1211.60H564.0 V1214.20H573.0 V1211.60H574.0 V1214.20H575.0 V1211.60H576.0 V1214.20H577.0 V1211.60H578.0 V1214.20H580.0 V1211.60H582.0 V1214.20H583.0 V1211.60H585.0 V1214.20H586.0 V1211.60H589.0 V1214.20H590.0 V1211.60H592.0 V1214.20H593.0 V1211.60H594.0 V1209.00H595.0 V1214.20H597.0 V1211.60H599.0 V1214.20H601.0 V1209.00H602.0 V1211.60H605.0 V1214.20H606.0 V1211.60H610.0 V1214.20H611.0 V1211.60H614.0 V1214.20H615.0 V1211.60H616.0 V1214.20H617.0 V1211.60H623.0 V1214.20H624.0 V1211.60H626.0 V1209.00H627.0 V1211.60H634.0 V1214.20H635.0 V1211.60H637.0 V1214.20H638.0 V1211.60H656.0 V1209.00H657.0 V1211.60H667.0 V1209.00H668.0 V1211.60H677.0 V1214.20H678.0 V1211.60H681.0 V1209.00H682.0 V1211.60H697.0 V1209.00H698.0 V1211.60H699.0 V1214.20H700.0 V1211.60H708.0 V1209.00H709.0 V1211.60H711.0 V1214.20H712.0 V1211.60H715.0 V1209.00H716.0 V1211.60H718.0 V1209.00H719.0 V1211.60H723.0 V1209.00H724.0 V1211.60H730.0 V1209.00H731.0 V1211.60H732.0 V1209.00H733.0 V1211.60H739.0 V1209.00H740.0 V1211.60H741.0 V1209.00H743.0 V1211.60H749.0 V1209.00H750.0 V1211.60H751.0 V1209.00H753.0 V1211.60H754.0 V1209.00H755.0 V1211.60H757.0 V1209.00H759.0 V1211.60H763.0 V1209.00H764.0 V1211.60H765.0 V1209.00H767.0 V1211.60H769.0 V1214.20H770.0 V1211.60H771.0 V1209.00H773.0 V1211.60H779.0 V1209.00H781.0 V1211.60H783.0 V1209.00H784.0 V1211.60H786.0 V1209.00H789.0 V1211.60H791.0 V1209.00H794.0 V1211.60H795.0 V1209.00H796.0 V1211.60H798.0 V1209.00H800.0 V1211.60H801.0 V1209.00H802.0 V1211.60H803.0 V1209.00H805.0 V1211.60H806.0 V1209.00H807.0 V1211.60H808.0 V1209.00H811.0 V1211.60H812.0 V1209.00H814.0 V1211.60H815.0 V1209.00H820.0 V1211.60H821.0 V1209.00H824.0 V1211.60H825.0 V1209.00H826.0 V1211.60H827.0 V1209.00H835.0 V1211.60H836.0 V1209.00H839.0 V1211.60H840.0 V1209.00H846.0 V1211.60H847.0 V1209.00H849.0 V1211.60H850.0 V1209.00H855.0 V1211.60H856.0 V1209.00H860.0 V1206.40H861.0 V1209.00H863.0 V1211.60H864.0 V1209.00H866.0 V1211.60H867.0 V1209.00H871.0 V1211.60H872.0 V1209.00H874.0 V1211.60H876.0 V1209.00H882.0 V1211.60H883.0 V1209.00H886.0 V1211.60H887.0 V1209.00H892.0 V1206.40H893.0 V1209.00H905.0 V1206.40H906.0 V1211.60H907.0 V1209.00H915.0 V1211.60H917.0 V1209.00H920.0 V1211.60H921.0 V1209.00H971.0 V1206.40H972.0 V1209.00H981.0 V1211.60H982.0 V1209.00H1000.0 V1211.60H1001.0 V1209.00H1002.0 V1206.40H1005.0 V1209.00H1007.0 V1206.40H1008.0 V1209.00H1020.0 V1206.40H1021.0 V1209.00H1022.0 V1206.40H1023.0 V1209.00H1030.0 V1206.40H1031.0 V1209.00H1035.0 V1206.40H1036.0 V1209.00H1053.0 V1211.60H1054.0 V1209.00H1062.0 V1211.60H1063.0 V1206.40H1064.0 V1209.00H1081.0 V1206.40H1082.0 V1209.00H1085.0 V1206.40H1086.0 V1209.00H1092.0 V1206.40H1094.0 V1209.00H1096.0 V1206.40H1097.0 V1209.00H1100.0 V1206.40H1101.0 V1209.00H1107.0 V1206.40H1108.0 V1209.00H1114.0 V1206.40H1115.0 V1209.00H1131.0 V1206.40H1133.0 V1209.00H1137.0 V1206.40H1138.0 V1209.00H1142.0 V1206.40H1143.0 V1209.00H1145.0 V1206.40H1147.0 V1209.00H1154" fill="none" stroke="#00ffff" stroke-width="1.2"/>
<path d="M165.0,1149.20H167.0 V1151.80H168.0 V1146.60H169.0 V1149.20H171.0 V1146.60H182.0 V1144.00H183.0 V1146.60H185.0 V1144.00H186.0 V1146.60H187.0 V1144.00H189.0 V1146.60H190.0 V1144.00H191.0 V1146.60H192.0 V1144.00H193.0 V1146.60H194.0 V1144.00H200.0 V1141.40H201.0 V1144.00H202.0 V1141.40H203.0 V1144.00H206.0 V1141.40H212.0 V1144.00H213.0 V1141.40H220.0 V1138.80H221.0 V1141.40H225.0 V1138.80H232.0 V1141.40H233.0 V1138.80H250.0 V1136.20H251.0 V1138.80H252.0 V1136.20H254.0 V1138.80H256.0 V1136.20H258.0 V1138.80H259.0 V1136.20H265.0 V1138.80H266.0 V1136.20H267.0 V1138.80H268.0 V1136.20H283.0 V1133.60H284.0 V1136.20H298.0 V1133.60H300.0 V1136.20H309.0 V1133.60H311.0 V1136.20H312.0 V1133.60H313.0 V1136.20H319.0 V1133.60H321.0 V1136.20H322.0 V1133.60H325.0 V1136.20H327.0 V1133.60H328.0 V1136.20H329.0 V1133.60H332.0 V1136.20H334.0 V1133.60H339.0 V1136.20H340.0 V1133.60H344.0 V1136.20H345.0 V1133.60H353.0 V1136.20H355.0 V1133.60H360.0 V1131.00H361.0 V1133.60H390.0 V1131.00H391.0 V1133.60H392.0 V1131.00H393.0 V1133.60H398.0 V1131.00H399.0 V1133.60H402.0 V1131.00H403.0 V1133.60H406.0 V1131.00H408.0 V1133.60H412.0 V1131.00H414.0 V1133.60H415.0 V1131.00H419.0 V1133.60H420.0 V1131.00H421.0 V1133.60H422.0 V1131.00H425.0 V1133.60H426.0 V1131.00H427.0 V1133.60H428.0 V1131.00H431.0 V1133.60H432.0 V1131.00H440.0 V1133.60H442.0 V1131.00H450.0 V1133.60H451.0 V1131.00H457.0 V1128.40H458.0 V1131.00H462.0 V1128.40H463.0 V1131.00H464.0 V1128.40H465.0 V1131.00H479.0 V1128.40H480.0 V1131.00H486.0 V1125.80H487.0 V1131.00H492.0 V1128.40H493.0 V1131.00H494.0 V1128.40H495.0 V1131.00H501.0 V1128.40H502.0 V1131.00H505.0 V1128.40H507.0 V1131.00H508.0 V1128.40H509.0 V1131.00H519.0 V1128.40H521.0 V1131.00H527.0 V1128.40H530.0 V1131.00H532.0 V1128.40H536.0 V1131.00H537.0 V1128.40H540.0 V1131.00H541.0 V1128.40H543.0 V1131.00H544.0 V1128.40H547.0 V1131.00H548.0 V1128.40H552.0 V1131.00H553.0 V1128.40H578.0 V1125.80H579.0 V1128.40H586.0 V1125.80H587.0 V1128.40H590.0 V1125.80H591.0 V1128.40H593.0 V1125.80H594.0 V1128.40H595.0 V1125.80H597.0 V1128.40H599.0 V1125.80H600.0 V1128.40H601.0 V1125.80H602.0 V1128.40H603.0 V1125.80H609.0 V1128.40H612.0 V1125.80H613.0 V1128.40H614.0 V1125.80H616.0 V1128.40H617.0 V1125.80H618.0 V1128.40H619.0 V1125.80H620.0 V1128.40H621.0 V1125.80H624.0 V1123.20H625.0 V1125.80H628.0 V1128.40H629.0 V1125.80H631.0 V1128.40H632.0 V1125.80H633.0 V1128.40H634.0 V1125.80H644.0 V1128.40H645.0 V1125.80H647.0 V1123.20H648.0 V1125.80H659.0 V1128.40H660.0 V1125.80H678.0 V1123.20H679.0 V1125.80H698.0 V1123.20H700.0 V1125.80H701.0 V1123.20H702.0 V1125.80H705.0 V1128.40H706.0 V1125.80H709.0 V1123.20H711.0 V1125.80H714.0 V1120.60H715.0 V1123.20H716.0 V1125.80H717.0 V1123.20H718.0 V1125.80H719.0 V1123.20H720.0 V1128.40H721.0 V1123.20H722.0 V1125.80H723.0 V1123.20H724.0 V1125.80H726.0 V1123.20H728.0 V1125.80H729.0 V1123.20H731.0 V1125.80H732.0 V1123.20H734.0 V1125.80H738.0 V1123.20H739.0 V1125.80H740.0 V1123.20H744.0 V1125.80H745.0 V1123.20H752.0 V1125.80H753.0 V1123.20H760.0 V1125.80H761.0 V1123.20H763.0 V1125.80H764.0 V1123.20H773.0 V1125.80H774.0 V1123.20H794.0 V1125.80H795.0 V1123.20H807.0 V1120.60H808.0 V1123.20H819.0 V1120.60H820.0 V1123.20H821.0 V1120.60H824.0 V1118.00H825.0 V1123.20H826.0 V1120.60H828.0 V1118.00H830.0 V1120.60H831.0 V1123.20H832.0 V1120.60H833.0 V1123.20H834.0 V1120.60H836.0 V1123.20H837.0 V1120.60H838.0 V1123.20H839.0 V1120.60H849.0 V1123.20H851.0 V1120.60H854.0 V1123.20H855.0 V1120.60H857.0 V1123.20H858.0 V1120.60H875.0 V1118.00H876.0 V1120.60H897.0 V1118.00H898.0 V1120.60H899.0 V1118.00H901.0 V1120.60H902.0 V1118.00H903.0 V1120.60H905.0 V1118.00H907.0 V1120.60H908.0 V1118.00H909.0 V1120.60H910.0 V1118.00H911.0 V1123.20H912.0 V1118.00H914.0 V1120.60H916.0 V1118.00H918.0 V1120.60H919.0 V1118.00H920.0 V1120.60H921.0 V1118.00H927.0 V1120.60H928.0 V1118.00H929.0 V1120.60H930.0 V1118.00H937.0 V1120.60H938.0 V1118.00H950.0 V1115.40H951.0 V1118.00H960.0 V1115.40H961.0 V1118.00H964.0 V1115.40H965.0 V1118.00H970.0 V1115.40H971.0 V1118.00H974.0 V1115.40H976.0 V1118.00H986.0 V1115.40H987.0 V1118.00H988.0 V1115.40H989.0 V1118.00H990.0 V1115.40H992.0 V1118.00H993.0 V1115.40H996.0 V1118.00H997.0 V1115.40H998.0 V1118.00H1005.0 V1115.40H1007.0 V1118.00H1008.0 V1115.40H1010.0 V1112.80H1011.0 V1115.40H1014.0 V1118.00H1016.0 V1115.40H1021.0 V1118.00H1022.0 V1115.40H1027.0 V1118.00H1028.0 V1115.40H1031.0 V1118.00H1032.0 V1115.40H1036.0 V1118.00H1037.0 V1115.40H1048.0 V1118.00H1049.0 V1115.40H1075.0 V1118.00H1076.0 V1115.40H1081.0 V1112.80H1082.0 V1115.40H1085.0 V1112.80H1086.0 V1115.40H1099.0 V1112.80H1101.0 V1115.40H1106.0 V1112.80H1107.0 V1115.40H1117.0 V1112.80H1120.0 V1115.40H1122.0 V1112.80H1123.0 V1115.40H1124.0 V1112.80H1125.0 V1115.40H1134.0 V1112.80H1135.0 V1115.40H1140.0 V1112.80H1141.0 V1115.40H1142.0 V1112.80H1143.0 V1115.40H1144.0 V1112.80H1145.0 V1115.40H1146.0 V1112.80H1149.0 V1115.40H1150.0 V1112.80H1151.0 V1115.40H1153.0 V1112.80H1154.0 V1115.40H1154" fill="none" stroke="#0000ff" stroke-width="1.2"/>
<path d="M165.0,1133.60H174.0 V1131.00H175.0 V1133.60H178.0 V1131.00H181.0 V1133.60H182.0 V1131.00H183.0 V1133.60H184.0 V1131.00H188.0 V1128.40H189.0 V1131.00H191.0 V1128.40H192.0 V1131.00H196.0 V1128.40H203.0 V1131.00H204.0 V1125.80H205.0 V1128.40H211.0 V1125.80H212.0 V1128.40H215.0 V1123.20H216.0 V1128.40H217.0 V1123.20H218.0 V1125.80H219.0 V1128.40H220.0 V1125.80H222.0 V1128.40H223.0 V1125.80H225.0 V1128.40H226.0 V1123.20H227.0 V1125.80H234.0 V1123.20H235.0 V1125.80H240.0 V1123.20H241.0 V1125.80H246.0 V1123.20H250.0 V1125.80H252.0 V1123.20H257.0 V1120.60H258.0 V1123.20H261.0 V1125.80H262.0 V1123.20H269.0 V1120.60H270.0 V1123.20H274.0 V1120.60H275.0 V1123.20H276.0 V1120.60H278.0 V1123.20H281.0 V1120.60H283.0 V1123.20H284.0 V1120.60H287.0 V1123.20H288.0 V1120.60H289.0 V1123.20H290.0 V1120.60H291.0 V1123.20H293.0 V1120.60H295.0 V1123.20H297.0 V1120.60H298.0 V1123.20H299.0 V1120.60H301.0 V1123.20H302.0 V1120.60H308.0 V1118.00H309.0 V1120.60H312.0 V1123.20H313.0 V1120.60H322.0 V1118.00H323.0 V1123.20H324.0 V1120.60H330.0 V1118.00H331.0 V1120.60H333.0 V1118.00H336.0 V1120.60H339.0 V1118.00H341.0 V1120.60H342.0 V1118.00H348.0 V1120.60H349.0 V1118.00H350.0 V1123.20H351.0 V1120.60H352.0 V1118.00H353.0 V1120.60H354.0 V1118.00H357.0 V1120.60H358.0 V1118.00H364.0 V1120.60H365.0 V1118.00H366.0 V1120.60H367.0 V1118.00H383.0 V1115.40H384.0 V1118.00H388.0 V1115.40H389.0 V1118.00H392.0 V1115.40H393.0 V1118.00H424.0 V1115.40H427.0 V1118.00H429.0 V1115.40H430.0 V1118.00H433.0 V1115.40H436.0 V1118.00H437.0 V1115.40H439.0 V1118.00H440.0 V1115.40H441.0 V1118.00H442.0 V1115.40H443.0 V1118.00H446.0 V1115.40H449.0 V1118.00H450.0 V1115.40H452.0 V1118.00H453.0 V1115.40H460.0 V1118.00H461.0 V1115.40H469.0 V1118.00H470.0 V1115.40H471.0 V1118.00H472.0 V1115.40H477.0 V1118.00H478.0 V1115.40H487.0 V1112.80H488.0 V1115.40H510.0 V1112.80H511.0 V1115.40H525.0 V1112.80H526.0 V1115.40H527.0 V1112.80H528.0 V1115.40H529.0 V1112.80H530.0 V1115.40H532.0 V1112.80H533.0 V1115.40H534.0 V1112.80H536.0 V1115.40H537.0 V1112.80H538.0 V1115.40H539.0 V1112.80H540.0 V1115.40H541.0 V1112.80H542.0 V1115.40H547.0 V1112.80H549.0 V1115.40H551.0 V1112.80H554.0 V1115.40H555.0 V1112.80H556.0 V1115.40H559.0 V1112.80H562.0 V1115.40H564.0 V1112.80H565.0 V1115.40H566.0 V1112.80H571.0 V1115.40H572.0 V1112.80H575.0 V1115.40H577.0 V1110.20H578.0 V1112.80H580.0 V1115.40H581.0 V1112.80H588.0 V1115.40H591.0 V1112.80H621.0 V1110.20H622.0 V1115.40H623.0 V1112.80H628.0 V1110.20H629.0 V1112.80H636.0 V1110.20H637.0 V1112.80H651.0 V1115.40H652.0 V1112.80H657.0 V1110.20H658.0 V1112.80H659.0 V1110.20H660.0 V1112.80H663.0 V1110.20H664.0 V1112.80H666.0 V1110.20H667.0 V1112.80H668.0 V1110.20H669.0 V1112.80H673.0 V1110.20H675.0 V1112.80H676.0 V1110.20H677.0 V1112.80H678.0 V1110.20H681.0 V1112.80H682.0 V1110.20H683.0 V1112.80H687.0 V1110.20H688.0 V1112.80H689.0 V1110.20H691.0 V1112.80H693.0 V1110.20H698.0 V1112.80H699.0 V1110.20H702.0 V1112.80H703.0 V1110.20H705.0 V1112.80H706.0 V1110.20H709.0 V1112.80H710.0 V1110.20H729.0 V1107.60H730.0 V1110.20H732.0 V1107.60H733.0 V1110.20H736.0 V1107.60H739.0 V1110.20H751.0 V1107.60H752.0 V1105.00H753.0 V1110.20H756.0 V1107.60H757.0 V1110.20H758.0 V1107.60H760.0 V1110.20H761.0 V1107.60H762.0 V1110.20H766.0 V1107.60H768.0 V1110.20H774.0 V1107.60H777.0 V1110.20H780.0 V1107.60H783.0 V1110.20H786.0 V1107.60H788.0 V1110.20H790.0 V1107.60H791.0 V1110.20H793.0 V1107.60H795.0 V1110.20H796.0 V1105.00H797.0 V1107.60H800.0 V1110.20H801.0 V1107.60H805.0 V1110.20H807.0 V1107.60H810.0 V1110.20H811.0 V1107.60H815.0 V1110.20H817.0 V1107.60H818.0 V1110.20H819.0 V1107.60H821.0 V1105.00H822.0 V1107.60H824.0 V1110.20H825.0 V1107.60H831.0 V1110.20H833.0 V1107.60H838.0 V1110.20H839.0 V1107.60H852.0 V1110.20H853.0 V1107.60H867.0 V1105.00H868.0 V1107.60H880.0 V1105.00H881.0 V1107.60H886.0 V1105.00H888.0 V1107.60H889.0 V1105.00H890.0 V1107.60H893.0 V1105.00H897.0 V1107.60H900.0 V1105.00H902.0 V1107.60H903.0 V1105.00H904.0 V1102.40H905.0 V1105.00H906.0 V1107.60H908.0 V1105.00H909.0 V1107.60H911.0 V1105.00H913.0 V1107.60H915.0 V1105.00H916.0 V1107.60H918.0 V1105.00H919.0 V1107.60H920.0 V1105.00H921.0 V1107.60H922.0 V1105.00H923.0 V1110.20H924.0 V1107.60H925.0 V1105.00H927.0 V1107.60H928.0 V1105.00H930.0 V1107.60H931.0 V1105.00H933.0 V1107.60H934.0 V1105.00H940.0 V1107.60H942.0 V1105.00H943.0 V1107.60H944.0 V1105.00H958.0 V1107.60H959.0 V1105.00H960.0 V1107.60H961.0 V1105.00H970.0 V1102.40H971.0 V1105.00H974.0 V1107.60H975.0 V1105.00H976.0 V1102.40H977.0 V1105.00H1000.0 V1102.40H1001.0 V1105.00H1002.0 V1102.40H1003.0 V1105.00H1008.0 V1102.40H1009.0 V1105.00H1013.0 V1102.40H1014.0 V1105.00H1017.0 V1102.40H1018.0 V1105.00H1040.0 V1102.40H1041.0 V1105.00H1044.0 V1102.40H1045.0 V1105.00H1046.0 V1102.40H1048.0 V1105.00H1049.0 V1102.40H1051.0 V1105.00H1054.0 V1107.60H1055.0 V1105.00H1060.0 V1102.40H1061.0 V1105.00H1063.0 V1102.40H1064.0 V1105.00H1069.0 V1102.40H1070.0 V1105.00H1074.0 V1102.40H1076.0 V1105.00H1078.0 V1102.40H1080.0 V1107.60H1081.0 V1102.40H1084.0 V1105.00H1085.0 V1102.40H1091.0 V1105.00H1094.0 V1102.40H1096.0 V1105.00H1097.0 V1102.40H1099.0 V1105.00H1100.0 V1107.60H1101.0 V1105.00H1102.0 V1102.40H1103.0 V1099.80H1104.0 V1102.40H1106.0 V1105.00H1108.0 V1099.80H1109.0 V1105.00H1110.0 V1102.40H1111.0 V1105.00H1112.0 V1102.40H1115.0 V1105.00H1116.0 V1102.40H1117.0 V1105.00H1118.0 V1102.40H1120.0 V1105.00H1124.0 V1102.40H1125.0 V1105.00H1126.0 V1102.40H1130.0 V1105.00H1132.0 V1102.40H1133.0 V1105.00H1134.0 V1102.40H1144.0 V1099.80H1145.0 V1105.00H1146.0 V1102.40H1149.0 V1105.00H1151.0 V1102.40H1154" fill="none" stroke="#00ff00" stroke-width="1.2"/>
<rect x="184" y="1395" width="46" height="6.2" fill="#00ffff"/>
<path d="M205.4,1396.7V1402M226.6,1396.4V1402M207.9,1396.8V1402M193.3,1396.5V1402M213.3,1397.4V1402M189.2,1395.9V1402M189.1,1397.4V1402M216.2,1395.1V1402M229.2,1397.9V1402M214.4,1396.8V1402M192.1,1395.0V1402M208.8,1395.2V1402M193.6,1395.7V1402M186.4,1396.4V1402M204.8,1397.5V1402M208.4,1396.9V1402M207.5,1397.0V1402M205.6,1395.8V1402M229.9,1398.0V1402M222.8,1397.1V1402M199.2,1395.7V1402M198.0,1395.2V1402M219.5,1396.2V1402M223.1,1396.2V1402M228.1,1397.5V1402M185.0,1395.6V1402" stroke="#ffff00" stroke-width="1"/>
<rect x="1080" y="1394" width="74" height="6" fill="#00ffff" opacity="0.9"/>
<rect x="500" y="1394" width="30" height="4" fill="#00ffff" opacity="0.6"/>
<path d="M170.5,1401.9V1410M171.5,1402.3V1410M172.5,1401.8V1410M173.5,1401.6V1410M174.5,1402.0V1410M175.5,1402.1V1410M176.5,1401.7V1410M177.5,1401.6V1410M178.5,1401.8V1410M179.5,1402.3V1410M180.5,1402.1V1410M181.5,1401.6V1410M182.5,1401.7V1410M183.5,1401.6V1410M184.5,1401.5V1410M185.5,1402.1V1410M186.5,1401.6V1410M187.5,1410.0V1410M188.5,1407.4V1410M189.5,1401.6V1410M190.5,1402.0V1410M191.5,1401.6V1410M192.5,1401.8V1410M193.5,1401.7V1410M194.5,1401.7V1410M195.5,1402.3V1410M196.5,1402.1V1410M197.5,1401.7V1410M198.5,1402.2V1410M199.5,1409.4V1410M200.5,1402.0V1410M201.5,1401.6V1410M202.5,1402.3V1410M203.5,1401.7V1410M204.5,1401.7V1410M205.5,1402.1V1410M206.5,1401.8V1410M207.5,1401.7V1410M208.5,1401.6V1410M209.5,1401.6V1410M210.5,1402.0V1410M211.5,1401.7V1410M212.5,1402.0V1410M213.5,1401.8V1410M214.5,1415.1V1410M215.5,1410.3V1410M216.5,1402.2V1410M217.5,1401.6V1410M218.5,1401.6V1410M219.5,1402.2V1410M220.5,1402.2V1410M221.5,1401.7V1410M222.5,1412.9V1410M223.5,1401.7V1410M224.5,1402.3V1410M225.5,1402.2V1410M226.5,1402.0V1410M227.5,1401.8V1410M228.5,1401.6V1410M229.5,1401.5V1410M230.5,1402.3V1410M231.5,1401.7V1410M232.5,1402.1V1410M233.5,1401.7V1410M234.5,1402.2V1410M235.5,1402.0V1410M236.5,1401.7V1410M237.5,1401.6V1410M238.5,1402.1V1410M239.5,1401.6V1410M240.5,1401.7V1410M241.5,1401.4V1410M242.5,1401.2V1410M243.5,1406.8V1410M244.5,1412.7V1410M245.5,1405.0V1410M246.5,1398.7V1410M247.5,1402.6V1410M248.5,1403.3V1410M249.5,1397.5V1410M250.5,1396.6V1410M251.5,1396.8V1410M252.5,1397.2V1410M253.5,1407.1V1410M254.5,1407.4V1410M255.5,1406.3V1410M256.5,1401.9V1410M257.5,1400.8V1410M258.5,1400.6V1410M259.5,1409.5V1410M260.5,1407.5V1410M261.5,1410.1V1410M262.5,1396.9V1410M263.5,1407.7V1410M264.5,1403.6V1410M265.5,1396.5V1410M266.5,1396.8V1410M267.5,1397.0V1410M268.5,1397.1V1410M269.5,1397.0V1410M270.5,1396.9V1410M271.5,1397.0V1410M272.5,1397.1V1410M273.5,1396.6V1410M274.5,1396.9V1410M275.5,1397.1V1410M276.5,1397.0V1410M277.5,1396.7V1410M278.5,1397.0V1410M279.5,1397.0V1410M280.5,1396.8V1410M281.5,1396.8V1410M282.5,1396.6V1410M283.5,1396.8V1410M284.5,1396.8V1410M285.5,1396.4V1410M286.5,1396.8V1410M287.5,1397.1V1410M288.5,1397.0V1410M289.5,1396.9V1410M290.5,1396.6V1410M291.5,1396.8V1410M292.5,1396.7V1410M293.5,1396.6V1410M294.5,1396.9V1410M295.5,1396.3V1410M296.5,1396.8V1410M297.5,1396.2V1410M298.5,1396.7V1410M299.5,1396.6V1410M300.5,1396.4V1410M301.5,1396.8V1410M302.5,1396.6V1410M303.5,1396.7V1410M304.5,1396.9V1410M305.5,1396.4V1410M306.5,1396.2V1410M307.5,1396.4V1410M308.5,1396.7V1410M309.5,1396.3V1410M310.5,1396.3V1410M311.5,1396.9V1410M312.5,1396.7V1410M313.5,1396.5V1410M314.5,1396.8V1410M315.5,1396.4V1410M316.5,1396.6V1410M317.5,1404.4V1410M318.5,1396.8V1410M319.5,1396.8V1410M320.5,1396.4V1410M321.5,1396.5V1410M322.5,1396.3V1410M323.5,1396.2V1410M324.5,1396.5V1410M325.5,1396.7V1410M326.5,1396.7V1410M327.5,1396.6V1410M328.5,1396.8V1410M329.5,1396.3V1410M330.5,1404.5V1410M331.5,1396.2V1410M332.5,1396.3V1410M333.5,1396.5V1410M334.5,1403.2V1410M335.5,1408.4V1410M336.5,1396.4V1410M337.5,1396.0V1410M338.5,1396.0V1410M339.5,1396.7V1410M340.5,1396.0V1410M341.5,1396.5V1410M342.5,1396.4V1410M343.5,1396.2V1410M344.5,1396.6V1410M345.5,1396.0V1410M346.5,1396.0V1410M347.5,1396.3V1410M348.5,1395.9V1410M349.5,1396.6V1410M350.5,1396.1V1410M351.5,1396.0V1410M352.5,1395.9V1410M353.5,1396.4V1410M354.5,1396.2V1410M355.5,1396.4V1410M356.5,1396.4V1410M357.5,1396.5V1410M358.5,1396.6V1410M359.5,1396.4V1410M360.5,1396.0V1410M361.5,1396.2V1410M362.5,1396.0V1410M363.5,1395.8V1410M364.5,1396.2V1410M365.5,1401.6V1410M366.5,1402.5V1410M367.5,1403.3V1410M368.5,1396.2V1410M369.5,1396.3V1410M370.5,1396.4V1410M371.5,1396.1V1410M372.5,1396.4V1410M373.5,1396.5V1410M374.5,1395.8V1410M375.5,1396.5V1410M376.5,1396.3V1410M377.5,1404.3V1410M378.5,1396.5V1410M379.5,1396.0V1410M380.5,1396.2V1410M381.5,1396.4V1410M382.5,1396.4V1410M383.5,1396.5V1410M384.5,1396.1V1410M385.5,1401.8V1410M386.5,1406.9V1410M387.5,1407.9V1410M388.5,1396.3V1410M389.5,1395.9V1410M390.5,1396.4V1410M391.5,1396.5V1410M392.5,1396.4V1410M393.5,1396.1V1410M394.5,1396.3V1410M395.5,1395.9V1410M396.5,1408.2V1410M397.5,1403.1V1410M398.5,1400.5V1410M399.5,1404.0V1410M400.5,1405.1V1410M401.5,1407.3V1410M402.5,1395.6V1410M403.5,1396.2V1410M404.5,1395.6V1410M405.5,1396.2V1410M406.5,1395.7V1410M407.5,1407.5V1410M408.5,1395.7V1410M409.5,1396.0V1410M410.5,1408.0V1410M411.5,1406.4V1410M412.5,1409.0V1410M413.5,1396.3V1410M414.5,1395.6V1410M415.5,1395.7V1410M416.5,1395.9V1410M417.5,1395.7V1410M418.5,1405.9V1410M419.5,1404.7V1410M420.5,1407.9V1410M421.5,1395.7V1410M422.5,1395.8V1410M423.5,1396.1V1410M424.5,1396.2V1410M425.5,1395.6V1410M426.5,1396.1V1410M427.5,1404.6V1410M428.5,1405.1V1410M429.5,1401.4V1410M430.5,1404.7V1410M431.5,1404.4V1410M432.5,1405.4V1410M433.5,1399.6V1410M434.5,1409.0V1410M435.5,1395.6V1410M436.5,1395.9V1410M437.5,1395.7V1410M438.5,1395.6V1410M439.5,1395.8V1410M440.5,1395.3V1410M441.5,1403.3V1410M442.5,1408.8V1410M443.5,1395.4V1410M444.5,1395.5V1410M445.5,1395.3V1410M446.5,1395.5V1410M447.5,1395.8V1410M448.5,1395.8V1410M449.5,1395.5V1410M450.5,1395.3V1410M451.5,1395.2V1410M452.5,1395.5V1410M453.5,1395.8V1410M454.5,1395.1V1410M455.5,1395.6V1410M456.5,1395.0V1410M457.5,1395.1V1410M458.5,1395.2V1410M459.5,1395.5V1410M460.5,1395.2V1410M461.5,1405.1V1410M462.5,1395.5V1410M463.5,1404.0V1410M464.5,1395.0V1410M465.5,1395.3V1410M466.5,1395.2V1410M467.5,1403.0V1410M468.5,1404.1V1410M469.5,1395.0V1410M470.5,1395.3V1410M471.5,1404.1V1410M472.5,1407.3V1410M473.5,1404.9V1410M474.5,1394.9V1410M475.5,1395.3V1410M476.5,1395.4V1410M477.5,1395.4V1410M478.5,1394.9V1410M479.5,1394.9V1410M480.5,1395.4V1410M481.5,1394.8V1410M482.5,1395.4V1410M483.5,1395.3V1410M484.5,1394.7V1410M485.5,1394.8V1410M486.5,1395.2V1410M487.5,1394.8V1410M488.5,1406.9V1410M489.5,1395.2V1410M490.5,1394.6V1410M491.5,1394.8V1410M492.5,1395.0V1410M493.5,1400.5V1410M494.5,1395.2V1410M495.5,1395.2V1410M496.5,1394.5V1410M497.5,1394.8V1410M498.5,1395.0V1410M499.5,1394.8V1410M500.5,1394.9V1410M501.5,1394.5V1410M502.5,1394.4V1410M503.5,1398.7V1410M504.5,1394.7V1410M505.5,1394.8V1410M506.5,1394.4V1410M507.5,1394.4V1410M508.5,1394.4V1410M509.5,1394.9V1410M510.5,1407.5V1410M511.5,1399.2V1410M512.5,1398.8V1410M513.5,1407.7V1410M514.5,1402.8V1410M515.5,1405.8V1410M516.5,1401.4V1410M517.5,1402.8V1410M518.5,1403.3V1410M519.5,1402.4V1410M520.5,1404.1V1410M521.5,1394.7V1410M522.5,1399.9V1410M523.5,1402.6V1410M524.5,1405.4V1410M525.5,1402.1V1410M526.5,1400.0V1410M527.5,1394.4V1410M528.5,1394.0V1410M529.5,1406.0V1410M530.5,1405.0V1410M531.5,1406.6V1410M532.5,1404.2V1410M533.5,1402.0V1410M534.5,1394.3V1410M535.5,1394.7V1410M536.5,1394.5V1410M537.5,1394.1V1410M538.5,1394.6V1410M539.5,1394.4V1410M540.5,1394.5V1410M541.5,1401.9V1410M542.5,1406.8V1410M543.5,1406.6V1410M544.5,1404.7V1410M545.5,1394.4V1410M546.5,1394.1V1410M547.5,1394.3V1410M548.5,1393.8V1410M549.5,1394.0V1410M550.5,1394.1V1410M551.5,1393.7V1410M552.5,1394.0V1410M553.5,1394.2V1410M554.5,1394.1V1410M555.5,1393.8V1410M556.5,1404.3V1410M557.5,1401.0V1410M558.5,1404.2V1410M559.5,1403.3V1410M560.5,1402.9V1410M561.5,1401.4V1410M562.5,1407.5V1410M563.5,1394.1V1410M564.5,1394.1V1410M565.5,1394.3V1410M566.5,1393.5V1410M567.5,1394.0V1410M568.5,1394.0V1410M569.5,1393.6V1410M570.5,1393.7V1410M571.5,1399.4V1410M572.5,1393.5V1410M573.5,1393.6V1410M574.5,1394.1V1410M575.5,1393.8V1410M576.5,1407.0V1410M577.5,1403.0V1410M578.5,1393.8V1410M579.5,1393.9V1410M580.5,1393.3V1410M581.5,1393.7V1410M582.5,1393.9V1410M583.5,1393.3V1410M584.5,1394.0V1410M585.5,1393.3V1410M586.5,1393.6V1410M587.5,1393.3V1410M588.5,1393.6V1410M589.5,1393.6V1410M590.5,1393.2V1410M591.5,1393.9V1410M592.5,1393.4V1410M593.5,1393.5V1410M594.5,1393.6V1410M595.5,1393.4V1410M596.5,1393.3V1410M597.5,1393.6V1410M598.5,1393.5V1410M599.5,1393.2V1410M600.5,1393.6V1410M601.5,1393.2V1410M602.5,1393.0V1410M603.5,1393.2V1410M604.5,1393.0V1410M605.5,1393.1V1410M606.5,1393.6V1410M607.5,1393.3V1410M608.5,1393.7V1410M609.5,1393.6V1410M610.5,1393.0V1410M611.5,1393.8V1410M612.5,1393.8V1410M613.5,1393.1V1410M614.5,1393.7V1410M615.5,1393.3V1410M616.5,1406.7V1410M617.5,1399.4V1410M618.5,1393.7V1410M619.5,1393.6V1410M620.5,1393.4V1410M621.5,1393.8V1410M622.5,1393.7V1410M623.5,1393.5V1410M624.5,1403.2V1410M625.5,1393.2V1410M626.5,1393.0V1410M627.5,1393.4V1410M628.5,1393.1V1410M629.5,1393.4V1410M630.5,1401.6V1410M631.5,1399.6V1410M632.5,1402.8V1410M633.5,1393.6V1410M634.5,1393.4V1410M635.5,1393.8V1410M636.5,1393.8V1410M637.5,1399.4V1410M638.5,1398.1V1410M639.5,1405.9V1410M640.5,1393.5V1410M641.5,1393.3V1410M642.5,1393.2V1410M643.5,1393.5V1410M644.5,1393.5V1410M645.5,1393.5V1410M646.5,1393.5V1410M647.5,1393.6V1410M648.5,1393.2V1410M649.5,1393.2V1410M650.5,1393.8V1410M651.5,1405.8V1410M652.5,1397.4V1410M653.5,1397.6V1410M654.5,1399.7V1410M655.5,1401.3V1410M656.5,1403.2V1410M657.5,1393.4V1410M658.5,1397.9V1410M659.5,1393.4V1410M660.5,1393.5V1410M661.5,1393.3V1410M662.5,1393.4V1410M663.5,1393.2V1410M664.5,1393.3V1410M665.5,1393.6V1410M666.5,1393.7V1410M667.5,1398.2V1410M668.5,1393.5V1410M669.5,1393.6V1410M670.5,1393.2V1410M671.5,1393.3V1410M672.5,1393.2V1410M673.5,1393.6V1410M674.5,1393.3V1410M675.5,1393.5V1410M676.5,1393.8V1410M677.5,1393.3V1410M678.5,1393.4V1410M679.5,1393.6V1410M680.5,1401.3V1410M681.5,1400.7V1410M682.5,1398.0V1410M683.5,1405.8V1410M684.5,1397.8V1410M685.5,1397.8V1410M686.5,1393.4V1410M687.5,1393.5V1410M688.5,1393.2V1410M689.5,1393.6V1410M690.5,1393.1V1410M691.5,1393.2V1410M692.5,1397.8V1410M693.5,1400.0V1410M694.5,1404.2V1410M695.5,1393.2V1410M696.5,1393.1V1410M697.5,1393.3V1410M698.5,1393.6V1410M699.5,1393.3V1410M700.5,1393.1V1410M701.5,1393.6V1410M702.5,1393.5V1410M703.5,1393.7V1410M704.5,1406.1V1410M705.5,1401.4V1410M706.5,1405.0V1410M707.5,1400.0V1410M708.5,1400.2V1410M709.5,1401.0V1410M710.5,1406.3V1410M711.5,1393.2V1410M712.5,1393.3V1410M713.5,1393.3V1410M714.5,1393.3V1410M715.5,1393.3V1410M716.5,1393.3V1410M717.5,1393.2V1410M718.5,1393.5V1410M719.5,1393.6V1410M720.5,1393.4V1410M721.5,1393.7V1410M722.5,1393.5V1410M723.5,1393.1V1410M724.5,1393.6V1410M725.5,1393.7V1410M726.5,1393.2V1410M727.5,1402.2V1410M728.5,1393.5V1410M729.5,1393.8V1410M730.5,1393.5V1410M731.5,1393.6V1410M732.5,1393.1V1410M733.5,1393.4V1410M734.5,1397.8V1410M735.5,1397.8V1410M736.5,1404.4V1410M737.5,1406.0V1410M738.5,1393.5V1410M739.5,1404.5V1410M740.5,1393.2V1410M741.5,1393.2V1410M742.5,1393.6V1410M743.5,1393.4V1410M744.5,1393.6V1410M745.5,1393.3V1410M746.5,1393.3V1410M747.5,1393.8V1410M748.5,1401.9V1410M749.5,1402.4V1410M750.5,1404.2V1410M751.5,1393.7V1410M752.5,1393.3V1410M753.5,1393.7V1410M754.5,1393.5V1410M755.5,1393.7V1410M756.5,1393.6V1410M757.5,1393.7V1410M758.5,1393.7V1410M759.5,1393.8V1410M760.5,1402.2V1410M761.5,1404.1V1410M762.5,1405.0V1410M763.5,1393.3V1410M764.5,1393.1V1410M765.5,1393.6V1410M766.5,1393.8V1410M767.5,1398.7V1410M768.5,1399.0V1410M769.5,1393.2V1410M770.5,1393.8V1410M771.5,1393.0V1410M772.5,1393.2V1410M773.5,1403.5V1410M774.5,1393.1V1410M775.5,1393.0V1410M776.5,1393.4V1410M777.5,1393.5V1410M778.5,1393.7V1410M779.5,1393.0V1410M780.5,1393.1V1410M781.5,1393.1V1410M782.5,1393.2V1410M783.5,1393.2V1410M784.5,1393.6V1410M785.5,1399.2V1410M786.5,1398.8V1410M787.5,1393.1V1410M788.5,1393.6V1410M789.5,1393.2V1410M790.5,1405.2V1410M791.5,1401.8V1410M792.5,1393.7V1410M793.5,1393.7V1410M794.5,1393.3V1410M795.5,1406.6V1410M796.5,1401.8V1410M797.5,1393.0V1410M798.5,1393.8V1410M799.5,1400.8V1410M800.5,1402.3V1410M801.5,1402.2V1410M802.5,1399.7V1410M803.5,1393.5V1410M804.5,1393.2V1410M805.5,1393.0V1410M806.5,1393.4V1410M807.5,1393.3V1410M808.5,1393.6V1410M809.5,1393.6V1410M810.5,1393.5V1410M811.5,1393.1V1410M812.5,1393.1V1410M813.5,1393.3V1410M814.5,1393.2V1410M815.5,1393.7V1410M816.5,1393.4V1410M817.5,1393.5V1410M818.5,1393.8V1410M819.5,1393.2V1410M820.5,1393.4V1410M821.5,1393.1V1410M822.5,1393.6V1410M823.5,1393.0V1410M824.5,1393.7V1410M825.5,1393.7V1410M826.5,1393.7V1410M827.5,1393.1V1410M828.5,1393.2V1410M829.5,1393.6V1410M830.5,1393.1V1410M831.5,1393.4V1410M832.5,1393.4V1410M833.5,1393.8V1410M834.5,1393.5V1410M835.5,1393.7V1410M836.5,1404.9V1410M837.5,1393.7V1410M838.5,1393.1V1410M839.5,1393.7V1410M840.5,1393.2V1410M841.5,1402.3V1410M842.5,1398.6V1410M843.5,1393.2V1410M844.5,1393.2V1410M845.5,1393.1V1410M846.5,1393.2V1410M847.5,1393.4V1410M848.5,1393.6V1410M849.5,1393.3V1410M850.5,1393.5V1410M851.5,1393.1V1410M852.5,1393.3V1410M853.5,1393.4V1410M854.5,1393.8V1410M855.5,1393.7V1410M856.5,1397.1V1410M857.5,1400.8V1410M858.5,1404.1V1410M859.5,1393.5V1410M860.5,1393.4V1410M861.5,1406.9V1410M862.5,1393.2V1410M863.5,1393.5V1410M864.5,1393.2V1410M865.5,1393.3V1410M866.5,1393.4V1410M867.5,1393.2V1410M868.5,1393.3V1410M869.5,1393.3V1410M870.5,1393.5V1410M871.5,1393.2V1410M872.5,1393.2V1410M873.5,1393.6V1410M874.5,1406.5V1410M875.5,1393.6V1410M876.5,1393.3V1410M877.5,1393.7V1410M878.5,1393.1V1410M879.5,1393.1V1410M880.5,1393.1V1410M881.5,1404.1V1410M882.5,1398.8V1410M883.5,1401.0V1410M884.5,1393.5V1410M885.5,1393.1V1410M886.5,1393.2V1410M887.5,1393.1V1410M888.5,1393.1V1410M889.5,1393.3V1410M890.5,1393.1V1410M891.5,1393.7V1410M892.5,1393.3V1410M893.5,1393.4V1410M894.5,1393.5V1410M895.5,1393.6V1410M896.5,1393.7V1410M897.5,1400.3V1410M898.5,1401.1V1410M899.5,1393.3V1410M900.5,1406.8V1410M901.5,1404.9V1410M902.5,1403.6V1410M903.5,1393.0V1410M904.5,1393.3V1410M905.5,1393.3V1410M906.5,1393.5V1410M907.5,1393.1V1410M908.5,1393.3V1410M909.5,1393.4V1410M910.5,1405.3V1410M911.5,1403.1V1410M912.5,1398.6V1410M913.5,1404.7V1410M914.5,1393.4V1410M915.5,1393.3V1410M916.5,1393.4V1410M917.5,1393.1V1410M918.5,1393.6V1410M919.5,1393.8V1410M920.5,1393.4V1410M921.5,1393.6V1410M922.5,1393.7V1410M923.5,1393.2V1410M924.5,1393.8V1410M925.5,1393.5V1410M926.5,1393.2V1410M927.5,1393.1V1410M928.5,1393.2V1410M929.5,1393.5V1410M930.5,1393.6V1410M931.5,1406.3V1410M932.5,1393.4V1410M933.5,1393.1V1410M934.5,1393.8V1410M935.5,1393.1V1410M936.5,1402.4V1410M937.5,1402.6V1410M938.5,1402.6V1410M939.5,1399.6V1410M940.5,1406.1V1410M941.5,1406.9V1410M942.5,1393.5V1410M943.5,1393.1V1410M944.5,1393.7V1410M945.5,1393.2V1410M946.5,1393.7V1410M947.5,1393.2V1410M948.5,1393.5V1410M949.5,1393.7V1410M950.5,1393.1V1410M951.5,1393.4V1410M952.5,1393.1V1410M953.5,1393.0V1410M954.5,1406.9V1410M955.5,1393.5V1410M956.5,1393.2V1410M957.5,1393.5V1410M958.5,1393.6V1410M959.5,1393.3V1410M960.5,1393.5V1410M961.5,1393.6V1410M962.5,1393.0V1410M963.5,1393.2V1410M964.5,1393.4V1410M965.5,1393.1V1410M966.5,1393.3V1410M967.5,1393.5V1410M968.5,1393.1V1410M969.5,1393.4V1410M970.5,1393.2V1410M971.5,1393.5V1410M972.5,1393.3V1410M973.5,1393.5V1410M974.5,1393.0V1410M975.5,1398.4V1410M976.5,1406.6V1410M977.5,1403.0V1410M978.5,1393.3V1410M979.5,1393.5V1410M980.5,1393.6V1410M981.5,1393.6V1410M982.5,1393.6V1410M983.5,1406.9V1410M984.5,1405.4V1410M985.5,1393.3V1410M986.5,1393.3V1410M987.5,1393.5V1410M988.5,1393.7V1410M989.5,1393.4V1410M990.5,1393.4V1410M991.5,1393.3V1410M992.5,1393.7V1410M993.5,1393.3V1410M994.5,1393.0V1410M995.5,1393.6V1410M996.5,1393.7V1410M997.5,1393.6V1410M998.5,1393.5V1410M999.5,1400.0V1410M1000.5,1402.9V1410M1001.5,1397.7V1410M1002.5,1398.2V1410M1003.5,1393.4V1410M1004.5,1393.3V1410M1005.5,1393.0V1410M1006.5,1393.6V1410M1007.5,1393.4V1410M1008.5,1400.1V1410M1009.5,1393.2V1410M1010.5,1393.1V1410M1011.5,1393.7V1410M1012.5,1393.8V1410M1013.5,1405.7V1410M1014.5,1401.2V1410M1015.5,1405.1V1410M1016.5,1393.6V1410M1017.5,1393.5V1410M1018.5,1398.0V1410M1019.5,1404.9V1410M1020.5,1398.2V1410M1021.5,1402.4V1410M1022.5,1406.5V1410M1023.5,1397.0V1410M1024.5,1393.2V1410M1025.5,1393.3V1410M1026.5,1406.0V1410M1027.5,1393.3V1410M1028.5,1393.3V1410M1029.5,1393.5V1410M1030.5,1393.0V1410M1031.5,1393.0V1410M1032.5,1393.7V1410M1033.5,1393.2V1410M1034.5,1393.4V1410M1035.5,1393.7V1410M1036.5,1393.8V1410M1037.5,1393.4V1410M1038.5,1393.2V1410M1039.5,1406.2V1410M1040.5,1393.2V1410M1041.5,1393.7V1410M1042.5,1393.3V1410M1043.5,1393.4V1410M1044.5,1393.1V1410M1045.5,1393.7V1410M1046.5,1393.8V1410M1047.5,1393.2V1410M1048.5,1393.5V1410M1049.5,1393.2V1410M1050.5,1393.7V1410M1051.5,1393.0V1410M1052.5,1393.1V1410M1053.5,1393.6V1410M1054.5,1393.3V1410M1055.5,1393.7V1410M1056.5,1404.1V1410M1057.5,1398.3V1410M1058.5,1404.0V1410M1059.5,1406.4V1410M1060.5,1401.5V1410M1061.5,1393.2V1410M1062.5,1404.1V1410M1063.5,1393.1V1410M1064.5,1393.2V1410M1065.5,1404.9V1410M1066.5,1400.7V1410M1067.5,1403.6V1410M1068.5,1393.5V1410M1069.5,1393.2V1410M1070.5,1393.2V1410M1071.5,1393.7V1410M1072.5,1393.5V1410M1073.5,1393.2V1410M1074.5,1393.5V1410M1075.5,1393.1V1410M1076.5,1393.8V1410M1077.5,1393.4V1410M1078.5,1393.4V1410M1079.5,1393.4V1410M1080.5,1393.0V1410M1081.5,1393.5V1410M1082.5,1393.2V1410M1083.5,1393.2V1410M1084.5,1397.9V1410M1085.5,1399.9V1410M1086.5,1404.6V1410M1087.5,1399.5V1410M1088.5,1393.4V1410M1089.5,1393.1V1410M1090.5,1393.7V1410M1091.5,1397.3V1410M1092.5,1401.6V1410M1093.5,1404.5V1410M1094.5,1400.8V1410M1095.5,1406.3V1410M1096.5,1402.0V1410M1097.5,1398.8V1410M1098.5,1402.6V1410M1099.5,1403.4V1410M1100.5,1400.6V1410M1101.5,1393.6V1410M1102.5,1393.4V1410M1103.5,1393.4V1410M1104.5,1393.7V1410M1105.5,1393.5V1410M1106.5,1393.4V1410M1107.5,1393.8V1410M1108.5,1393.1V1410M1109.5,1398.7V1410M1110.5,1403.1V1410M1111.5,1399.4V1410M1112.5,1401.4V1410M1113.5,1393.6V1410M1114.5,1393.6V1410M1115.5,1393.2V1410M1116.5,1393.4V1410M1117.5,1393.2V1410M1118.5,1393.5V1410M1119.5,1393.4V1410M1120.5,1393.0V1410M1121.5,1393.5V1410M1122.5,1393.6V1410M1123.5,1393.5V1410M1124.5,1398.8V1410M1125.5,1398.5V1410M1126.5,1397.2V1410M1127.5,1402.0V1410M1128.5,1401.3V1410M1129.5,1393.2V1410M1130.5,1393.6V1410M1131.5,1393.1V1410M1132.5,1393.7V1410M1133.5,1393.5V1410M1134.5,1404.9V1410M1135.5,1399.4V1410M1136.5,1393.2V1410M1137.5,1393.0V1410M1138.5,1403.2V1410M1139.5,1393.2V1410M1140.5,1393.5V1410M1141.5,1393.1V1410M1142.5,1393.7V1410M1143.5,1393.1V1410M1144.5,1393.2V1410M1145.5,1403.9V1410M1146.5,1393.6V1410M1147.5,1393.0V1410M1148.5,1393.3V1410M1149.5,1393.3V1410M1150.5,1393.2V1410M1151.5,1393.8V1410M1152.5,1393.0V1410M1153.5,1393.4V1410" stroke="#ffff00" stroke-width="1"/>
<path d="M919.1,1409V1418.4M312.3,1409V1414.4M903.0,1409V1411.3M406.8,1409V1417.7M309.3,1409V1413.9M463.3,1409V1414.2M245.3,1409V1411.3M1150.2,1409V1416.7M892.3,1409V1412.7M419.2,1409V1415.1M407.8,1409V1414.5M1087.5,1409V1413.7M501.7,1409V1418.4M771.1,1409V1411.3M566.6,1409V1415.9M227.6,1409V1413.6M853.6,1409V1417.5M751.2,1409V1417.6M625.2,1409V1413.9M999.6,1409V1413.9M938.8,1409V1412.6M511.9,1409V1412.4M710.8,1409V1412.2M370.4,1409V1412.6M630.2,1409V1413.3M610.0,1409V1418.4M838.3,1409V1417.5M371.3,1409V1413.9M241.6,1409V1416.2M527.0,1409V1413.1M188.3,1409V1412.4M428.1,1409V1413.9M1078.8,1409V1416.4M434.3,1409V1413.7M321.1,1409V1418.0M524.0,1409V1416.7M881.9,1409V1417.8M190.1,1409V1413.4M548.3,1409V1411.6M1038.3,1409V1413.4M928.4,1409V1414.9M224.0,1409V1414.0M404.5,1409V1411.3M318.5,1409V1415.5M201.3,1409V1413.3M587.3,1409V1415.1M303.8,1409V1416.3M426.2,1409V1416.4M825.5,1409V1412.1M371.5,1409V1413.1M871.4,1409V1414.0M550.3,1409V1417.5M392.4,1409V1413.2M509.4,1409V1412.6M210.0,1409V1411.2M790.3,1409V1415.2M965.8,1409V1418.3M463.3,1409V1416.0M1074.4,1409V1412.6M848.2,1409V1416.0" stroke="#ffff00" stroke-width="1.2"/>
<path d="M172.5,1405V1415.4M173.5,1405V1414.0M174.5,1405V1411.4M175.5,1405V1413.3M176.5,1405V1413.0M177.5,1405V1413.8M178.5,1405V1412.2M180.5,1405V1411.7M181.5,1405V1414.0M182.5,1405V1415.1M186.5,1405V1413.7M187.5,1405V1411.4M188.5,1405V1411.4M189.5,1405V1415.1M190.5,1405V1413.3M191.5,1405V1411.2M192.5,1405V1417.2M194.5,1405V1415.7M195.5,1405V1414.3M198.5,1405V1415.0" stroke="#ffff00" stroke-width="1"/>
<path d="M170,1391.6 L170.0,1395.4 L180.0,1395.4 L190.0,1395.4 L200.0,1395.4 L210.0,1395.3 L220.0,1395.3 L230.0,1395.3 L240.0,1395.3 L250.0,1395.3 L260.0,1395.3 L270.0,1395.2 L280.0,1395.2 L290.0,1395.2 L300.0,1395.2 L310.0,1395.2 L320.0,1395.2 L330.0,1395.1 L340.0,1395.1 L350.0,1395.1 L360.0,1395.1 L370.0,1395.1 L380.0,1395.1 L390.0,1395.0 L400.0,1395.0 L410.0,1395.0 L420.0,1395.0 L430.0,1394.9 L440.0,1394.8 L450.0,1394.8 L460.0,1394.7 L470.0,1394.6 L480.0,1394.5 L490.0,1394.5 L500.0,1394.4 L510.0,1394.3 L520.0,1394.2 L530.0,1394.1 L540.0,1394.1 L550.0,1394.0 L560.0,1393.9 L570.0,1393.8 L580.0,1393.8 L590.0,1393.7 L600.0,1393.6 L610.0,1393.6 L620.0,1393.6 L630.0,1393.6 L640.0,1393.6 L650.0,1393.6 L660.0,1393.6 L670.0,1393.6 L680.0,1393.6 L690.0,1393.6 L700.0,1393.6 L710.0,1393.6 L720.0,1393.6 L730.0,1393.6 L740.0,1393.6 L750.0,1393.6 L760.0,1393.6 L770.0,1393.6 L780.0,1393.6 L790.0,1393.6 L800.0,1393.6 L810.0,1393.6 L820.0,1393.6 L830.0,1393.6 L840.0,1393.6 L850.0,1393.6 L860.0,1393.6 L870.0,1393.6 L880.0,1393.6 L890.0,1393.6 L900.0,1393.6 L910.0,1393.6 L920.0,1393.6 L930.0,1393.6 L940.0,1393.6 L950.0,1393.6 L960.0,1393.6 L970.0,1393.6 L980.0,1393.6 L990.0,1393.6 L1000.0,1393.6 L1010.0,1393.6 L1020.0,1393.6 L1030.0,1393.6 L1040.0,1393.6 L1050.0,1393.6 L1060.0,1393.6 L1070.0,1393.6 L1080.0,1393.6 L1090.0,1393.6 L1100.0,1393.6 L1110.0,1393.6 L1120.0,1393.6 L1130.0,1393.6 L1140.0,1393.6 L1150.0,1393.6 L1154,1391.6 Z" fill="#00ff00"/>
<path d="M929.1,1393V1396.6M780.9,1393V1396.0M578.9,1393V1395.7M986.3,1393V1397.2M545.8,1393V1397.3M207.5,1393V1395.3M669.0,1393V1395.8M524.6,1393V1397.4M317.5,1393V1395.5M394.8,1393V1396.7M400.8,1393V1395.0M705.1,1393V1396.0M405.5,1393V1396.2M809.8,1393V1396.4M784.4,1393V1396.4M987.8,1393V1397.4M498.2,1393V1395.9M1042.2,1393V1395.8M874.5,1393V1396.7M845.6,1393V1397.4M981.2,1393V1395.4M781.7,1393V1396.2M724.8,1393V1395.9M451.1,1393V1396.9M695.4,1393V1395.6M415.3,1393V1395.8M344.9,1393V1396.3M294.0,1393V1395.2M237.6,1393V1395.3M863.5,1393V1395.3M614.4,1393V1396.9M643.0,1393V1395.4M1022.4,1393V1397.2M222.6,1393V1395.6M669.3,1393V1397.0M556.0,1393V1396.8M417.8,1393V1396.8M491.6,1393V1395.8M917.1,1393V1397.1M985.3,1393V1396.4M583.9,1393V1396.8M783.0,1393V1397.1M958.4,1393V1395.3M540.9,1393V1396.7M397.3,1393V1395.5M183.5,1393V1396.5M1095.9,1393V1397.4M301.6,1393V1396.7M582.6,1393V1396.6M560.4,1393V1397.3M1143.0,1393V1395.1M871.9,1393V1395.3M211.7,1393V1395.7M889.5,1393V1397.5M288.2,1393V1395.8M196.1,1393V1396.4M645.3,1393V1395.9M474.3,1393V1397.0M995.3,1393V1395.7M555.4,1393V1396.5M923.1,1393V1397.5M553.1,1393V1396.7M707.2,1393V1397.0M314.5,1393V1395.4M275.4,1393V1397.3M417.4,1393V1396.2M288.4,1393V1395.8M188.9,1393V1396.4M311.3,1393V1396.6M439.6,1393V1395.6M644.5,1393V1395.9M425.4,1393V1395.1M233.3,1393V1397.2M474.4,1393V1395.2M349.6,1393V1396.2M1151.2,1393V1395.5M1023.4,1393V1396.2M577.9,1393V1397.0M559.6,1393V1395.1M711.7,1393V1396.6M783.1,1393V1395.7M1093.9,1393V1397.2M1148.4,1393V1396.1M990.4,1393V1396.8M343.0,1393V1395.1M336.1,1393V1395.3M243.5,1393V1395.9M911.5,1393V1395.8M676.0,1393V1395.0M376.8,1393V1397.4M180.9,1393V1396.3M967.2,1393V1397.0M893.6,1393V1396.0M960.2,1393V1397.1M925.4,1393V1397.5M269.2,1393V1397.4M565.8,1393V1396.8M416.5,1393V1397.3M193.1,1393V1396.4M393.6,1393V1396.0M533.4,1393V1396.6M967.8,1393V1395.9M797.8,1393V1395.9M444.7,1393V1397.3M486.5,1393V1395.2M499.4,1393V1396.9M378.0,1393V1396.9M707.5,1393V1396.7M344.5,1393V1395.3M310.7,1393V1395.9M593.9,1393V1395.0M664.5,1393V1396.0M486.4,1393V1396.3M1107.1,1393V1395.5M1036.4,1393V1395.8M912.1,1393V1395.3M1141.7,1393V1396.1M1117.3,1393V1395.5M571.7,1393V1396.8M345.0,1393V1395.7M836.4,1393V1397.4M487.1,1393V1395.5M521.5,1393V1397.5M315.8,1393V1396.6M542.1,1393V1396.6M378.9,1393V1396.5M1043.4,1393V1397.1M788.6,1393V1396.3M728.7,1393V1395.3M994.1,1393V1396.7M616.0,1393V1396.7M582.7,1393V1396.0M396.3,1393V1396.5M733.6,1393V1396.3M201.7,1393V1396.6M609.7,1393V1396.5M755.1,1393V1397.3M319.5,1393V1396.2M1147.0,1393V1396.8M478.0,1393V1396.8M1143.6,1393V1396.0M1023.6,1393V1395.3M1144.2,1393V1396.2M400.4,1393V1397.1M808.8,1393V1397.3M986.0,1393V1397.0M673.4,1393V1397.5M233.8,1393V1397.2M870.3,1393V1395.6M964.3,1393V1396.1M697.7,1393V1397.2M362.9,1393V1395.7M803.4,1393V1395.2M716.1,1393V1397.0M652.9,1393V1395.6M957.2,1393V1397.1M928.5,1393V1396.4M1061.2,1393V1397.0M319.3,1393V1395.9M268.7,1393V1395.1M510.3,1393V1397.2M990.5,1393V1395.3M348.8,1393V1396.0M1005.6,1393V1396.5M1057.4,1393V1395.2M1142.1,1393V1395.5M789.1,1393V1397.2M886.0,1393V1395.5M827.7,1393V1396.1M185.1,1393V1395.8M480.3,1393V1396.6M444.1,1393V1396.5M853.7,1393V1395.5M296.0,1393V1396.7M629.0,1393V1395.3M284.2,1393V1397.4M770.3,1393V1395.9M363.0,1393V1397.5M850.6,1393V1396.8M524.6,1393V1395.8M571.7,1393V1395.4M791.1,1393V1396.1M977.0,1393V1396.0M619.5,1393V1396.3M1096.6,1393V1395.9M862.4,1393V1395.6M740.0,1393V1395.7M1028.7,1393V1395.7M1010.8,1393V1396.7M617.6,1393V1397.3M551.4,1393V1396.9M761.6,1393V1396.1M233.2,1393V1396.0M446.8,1393V1396.1M1109.2,1393V1395.7M853.8,1393V1396.7M410.8,1393V1396.0M300.1,1393V1397.2M417.6,1393V1396.1M506.1,1393V1397.1M1006.7,1393V1396.5M707.2,1393V1395.2M1052.2,1393V1395.2M527.8,1393V1395.9M881.5,1393V1396.7M508.4,1393V1397.2M1104.5,1393V1395.1M792.9,1393V1396.2M526.0,1393V1396.2M481.0,1393V1396.7M765.9,1393V1397.4M1130.8,1393V1397.5M558.8,1393V1397.1M809.6,1393V1396.8M1151.7,1393V1395.2M624.8,1393V1396.0M815.6,1393V1395.5M1143.9,1393V1395.5M534.0,1393V1395.4M558.3,1393V1396.9M252.2,1393V1395.4M808.6,1393V1396.6M900.2,1393V1395.6M968.3,1393V1396.8M933.6,1393V1395.3M631.2,1393V1395.0M1015.9,1393V1397.4M1051.5,1393V1395.1M515.5,1393V1396.3M695.1,1393V1395.3M946.6,1393V1395.8M669.2,1393V1395.3M728.8,1393V1395.3M256.9,1393V1396.3M459.3,1393V1396.9M412.8,1393V1396.0M223.4,1393V1395.5M614.5,1393V1396.4M622.0,1393V1397.1M272.7,1393V1397.1M322.4,1393V1397.4M686.6,1393V1396.0M772.4,1393V1397.2M1118.3,1393V1396.0M180.5,1393V1395.4M975.3,1393V1396.8M871.2,1393V1395.4M692.6,1393V1395.1M278.5,1393V1395.8M1120.7,1393V1396.6M1004.1,1393V1395.1M579.5,1393V1395.2M426.7,1393V1395.3M1074.1,1393V1395.8M651.2,1393V1396.6M1042.5,1393V1397.4M728.8,1393V1396.3M1059.4,1393V1396.0M464.6,1393V1396.8M424.1,1393V1395.9" stroke="#00ff00" stroke-width="1"/>
<line x1="168" y1="1419.5" x2="1154" y2="1419.5" stroke="#0000ff" stroke-width="1.3"/>
<path d="M172.0,1419.5V1423.1M258.0,1419.5V1423.2M356.0,1419.5V1423.0M368.0,1419.5V1423.1M381.6,1419.5V1423.2M413.0,1419.5V1422.6M430.6,1419.5V1423.8M442.7,1419.5V1422.6M505.5,1419.5V1423.3M513.0,1419.5V1423.3M521.8,1419.5V1423.1M541.9,1419.5V1422.8M553.0,1419.5V1422.6M556.0,1419.5V1423.1M560.7,1419.5V1423.0M579.5,1419.5V1423.2M583.0,1419.5V1422.8M587.0,1419.5V1423.6M597.0,1419.5V1423.2M601.0,1419.5V1422.5M605.0,1419.5V1423.1M610.0,1419.5V1423.9M614.7,1419.5V1422.5M624.7,1419.5V1423.4M629.0,1419.5V1423.9M632.0,1419.5V1423.0M636.0,1419.5V1423.4M647.0,1419.5V1423.1M650.0,1419.5V1423.0M653.0,1419.5V1423.4M656.0,1419.5V1423.4" stroke="#0000ff" stroke-width="1.3"/>
<polyline points="165.5,1389 167,1389 169,1392 170,1393" fill="none" stroke="#00ff00" stroke-width="1.2"/>
<polyline points="165.5,1411 167.5,1411 169,1418 170,1419.5" fill="none" stroke="#0000ff" stroke-width="1.2"/>
<polyline points="165.5,1463 167,1440 169,1402 170,1400" fill="none" stroke="#00ffff" stroke-width="1.2"/>
<polyline points="165.5,1471 167,1450 169,1405 170,1402" fill="none" stroke="#ffff00" stroke-width="1.2"/>
<text class="t" x="156.3" y="635.6" text-anchor="end">3.5</text>
<text class="t" x="156.3" y="702.6" text-anchor="end">3</text>
<text class="t" x="156.3" y="769.6" text-anchor="end">2.5</text>
<path d="M165,628.5H176M1144,628.5H1155M165,695.5H176M1144,695.5H1155M587.5,603V614M587.5,752V763M165.5,603.5H1154.5V762.5H165.5Z" fill="none" stroke="#262626" stroke-width="1"/>
<text class="t" x="156.3" y="844.6" text-anchor="end">50</text>
<text class="t" x="156.3" y="911.6" text-anchor="end">0</text>
<text class="t" x="156.3" y="978.6" text-anchor="end">-50</text>
<path d="M165,904.5H176M1144,904.5H1155M165,971.5H176M1144,971.5H1155M587.5,837V848M587.5,989V1000M165.5,837.5H1154.5V999.5H165.5Z" fill="none" stroke="#262626" stroke-width="1"/>
<text class="t" x="156.3" y="1079.6" text-anchor="end">0</text>
<text class="t" x="156.3" y="1132.6" text-anchor="end">-5</text>
<text class="t" x="156.3" y="1186.6" text-anchor="end">-10</text>
<text class="t" x="156.3" y="1240.6" text-anchor="end">-15</text>
<path d="M165,1125.5H176M1144,1125.5H1155M165,1179.5H176M1144,1179.5H1155M587.5,1072V1083M587.5,1223V1234M165.5,1072.5H1154.5V1233.5H165.5Z" fill="none" stroke="#262626" stroke-width="1"/>
<text class="t" x="156.3" y="1315.6" text-anchor="end">100</text>
<text class="t" x="156.3" y="1395.6" text-anchor="end">0</text>
<text class="t" x="156.3" y="1476.6" text-anchor="end">-100</text>
<path d="M165,1388.5H176M1144,1388.5H1155M412.5,1308V1319M412.5,1459V1470M660.5,1308V1319M660.5,1459V1470M907.5,1308V1319M907.5,1459V1470M165.5,1308.5H1154.5V1469.5H165.5Z" fill="none" stroke="#262626" stroke-width="1"/>
<text class="lg" transform="translate(1170.2,648.4) rotate(-90)" text-anchor="middle">Inboard</text>
<text class="lg" transform="translate(1182.0,662.5) rotate(-90)" text-anchor="middle">Outboard</text>
<text class="lg" transform="translate(1193.8,637.0) rotate(-90)" text-anchor="middle">Chaos</text>
<line x1="1164.8" y1="719.5" x2="1164.8" y2="733.4" stroke="#0000ff" stroke-width="2"/>
<line x1="1179.7" y1="719.5" x2="1179.7" y2="733.4" stroke="#00ff00" stroke-width="2"/>
<line x1="1191.8" y1="719.5" x2="1191.8" y2="733.4" stroke="#ff0000" stroke-width="2"/>
<text class="lg" transform="translate(1170.1,890.5) rotate(-90)" text-anchor="middle">Inboard</text>
<text class="lg" transform="translate(1182.0,902.4) rotate(-90)" text-anchor="middle">Outboard</text>
<line x1="1165.0" y1="957.3" x2="1165.0" y2="972.3" stroke="#0000ff" stroke-width="2"/>
<line x1="1179.9" y1="957.3" x2="1179.9" y2="972.3" stroke="#00ff00" stroke-width="2"/>
<text class="lg" transform="translate(1170.0,1119.0) rotate(-90)" text-anchor="middle">Inboard EBox</text>
<text class="lg" transform="translate(1182.0,1127.5) rotate(-90)" text-anchor="middle">Inboard Sensor</text>
<text class="lg" transform="translate(1194.0,1128.8) rotate(-90)" text-anchor="middle">Outboard EBox</text>
<text class="lg" transform="translate(1205.2,1141.5) rotate(-90)" text-anchor="middle">Outboard Sensor</text>
<line x1="1167.9" y1="1234.5" x2="1167.9" y2="1249.0" stroke="#0000ff" stroke-width="2"/>
<line x1="1179.7" y1="1234.5" x2="1179.7" y2="1249.0" stroke="#00ffff" stroke-width="2"/>
<line x1="1191.8" y1="1234.5" x2="1191.8" y2="1249.0" stroke="#00ff00" stroke-width="2"/>
<line x1="1202.7" y1="1234.5" x2="1202.7" y2="1249.0" stroke="#ffff00" stroke-width="2"/>
<text class="lg" transform="translate(1170.0,1377.3) rotate(-90)" text-anchor="middle">Inboard VMon1</text>
<text class="lg" transform="translate(1182.0,1377.3) rotate(-90)" text-anchor="middle">Inboard VMon2</text>
<text class="lg" transform="translate(1194.0,1378.8) rotate(-90)" text-anchor="middle">Outboard VMon1</text>
<text class="lg" transform="translate(1205.2,1378.8) rotate(-90)" text-anchor="middle">Outboard VMon2</text>
<line x1="1167.9" y1="1462.0" x2="1167.9" y2="1478.0" stroke="#0000ff" stroke-width="2"/>
<line x1="1179.7" y1="1462.0" x2="1179.7" y2="1478.0" stroke="#00ffff" stroke-width="2"/>
<line x1="1191.8" y1="1462.0" x2="1191.8" y2="1478.0" stroke="#00ff00" stroke-width="2"/>
<line x1="1202.7" y1="1462.0" x2="1202.7" y2="1478.0" stroke="#ffff00" stroke-width="2"/>
<text class="b" x="40.6" y="1498.6">Time:</text>
<text class="b" x="165.00" y="1498.6" text-anchor="middle">00:06:11</text>
<text class="b" x="412.25" y="1498.6" text-anchor="middle">00:14:17</text>
<text class="b" x="659.50" y="1498.6" text-anchor="middle">00:22:22</text>
<text class="b" x="906.75" y="1498.6" text-anchor="middle">00:30:27</text>
<text class="b" x="1154.00" y="1498.6" text-anchor="middle">00:38:33</text>
<text class="b" x="40.6" y="1519.2">Rad(km):</text>
<text class="b" x="165.00" y="1519.2" text-anchor="middle">7699.4</text>
<text class="b" x="412.25" y="1519.2" text-anchor="middle">7636.0</text>
<text class="b" x="659.50" y="1519.2" text-anchor="middle">7475.7</text>
<text class="b" x="906.75" y="1519.2" text-anchor="middle">7248.8</text>
<text class="b" x="1154.00" y="1519.2" text-anchor="middle">7003.9</text>
<text class="b" x="40.6" y="1539.8">Lat:</text>
<text class="b" x="165.00" y="1539.8" text-anchor="middle">33.3</text>
<text class="b" x="412.25" y="1539.8" text-anchor="middle">57.8</text>
<text class="b" x="659.50" y="1539.8" text-anchor="middle">79.7</text>
<text class="b" x="906.75" y="1539.8" text-anchor="middle">66.0</text>
<text class="b" x="1154.00" y="1539.8" text-anchor="middle">37.8</text>
<text class="b" x="40.6" y="1560.4">Lon:</text>
<text class="b" x="165.00" y="1560.4" text-anchor="middle">-131.4</text>
<text class="b" x="412.25" y="1560.4" text-anchor="middle">-124.8</text>
<text class="b" x="659.50" y="1560.4" text-anchor="middle">-80.9</text>
<text class="b" x="906.75" y="1560.4" text-anchor="middle">15.6</text>
<text class="b" x="1154.00" y="1560.4" text-anchor="middle">27.4</text>
<text class="b" x="40.6" y="1581.0">Mlat:</text>
<text class="b" x="165.00" y="1581.0" text-anchor="middle">37.8</text>
<text class="b" x="412.25" y="1581.0" text-anchor="middle">62.7</text>
<text class="b" x="659.50" y="1581.0" text-anchor="middle">88.4</text>
<text class="b" x="906.75" y="1581.0" text-anchor="middle">64.5</text>
<text class="b" x="1154.00" y="1581.0" text-anchor="middle">35.6</text>
<text class="b" x="40.6" y="1601.6">Mlt:</text>
<text class="b" x="165.00" y="1601.6" text-anchor="middle">15.058</text>
<text class="b" x="412.25" y="1601.6" text-anchor="middle">15.068</text>
<text class="b" x="659.50" y="1601.6" text-anchor="middle">15.212</text>
<text class="b" x="906.75" y="1601.6" text-anchor="middle">3.053</text>
<text class="b" x="1154.00" y="1601.6" text-anchor="middle">3.056</text>
<text class="b" x="630.6" y="1639.8" text-anchor="middle" textLength="945" lengthAdjust="spacing">MGF Quicklook using MGF_20161025_000611_003832_v2.1.0.lv2 on 19-Nov-2021 20:58:25 (calibration from static )</text>
</svg></body></html>
